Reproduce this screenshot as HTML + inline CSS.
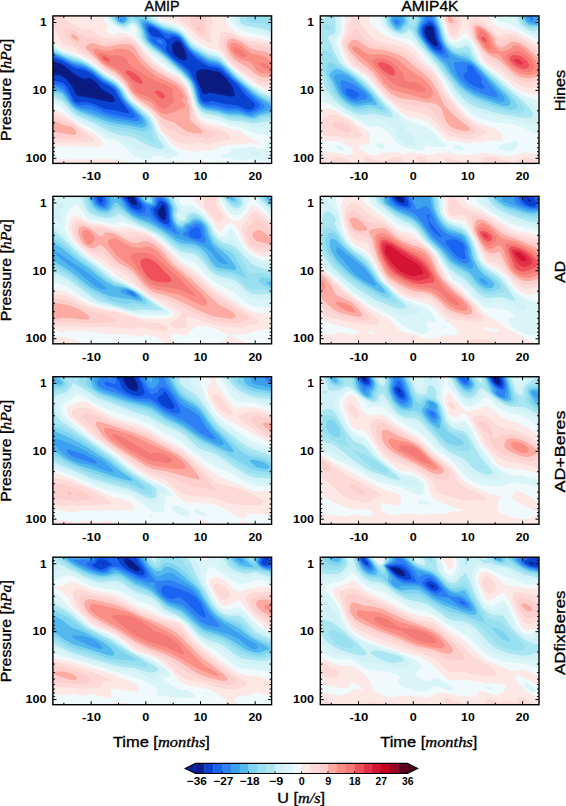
<!DOCTYPE html>
<html><head><meta charset="utf-8"><style>
html,body{margin:0;padding:0;background:#fff;width:566px;height:806px;overflow:hidden}
svg{display:block}
text{font-family:"Liberation Sans",sans-serif;fill:#000}
text.n{stroke:#000;stroke-width:0.35px}
</style></head><body>
<svg width="566" height="806" viewBox="0 0 566 806">
<defs><clipPath id="cp00"><rect x="52.9" y="15.9" width="218.7" height="147.5"/></clipPath><clipPath id="cp01"><rect x="320.3" y="15.9" width="218.7" height="147.5"/></clipPath><clipPath id="cp10"><rect x="52.9" y="196.3" width="218.7" height="147.5"/></clipPath><clipPath id="cp11"><rect x="320.3" y="196.3" width="218.7" height="147.5"/></clipPath><clipPath id="cp20"><rect x="52.9" y="376.8" width="218.7" height="147.5"/></clipPath><clipPath id="cp21"><rect x="320.3" y="376.8" width="218.7" height="147.5"/></clipPath><clipPath id="cp30"><rect x="52.9" y="557.2" width="218.7" height="147.5"/></clipPath><clipPath id="cp31"><rect x="320.3" y="557.2" width="218.7" height="147.5"/></clipPath></defs><g clip-path="url(#cp00)"><rect x="52.9" y="15.9" width="218.7" height="147.5" fill="#0a1a80"/><path d="M52 14l221 0 0 151-222 0 0-93.9 9 2.6 6 3.2 2.2 2.1 8.8 11.2 3.2 2.8 4.8 1.5 19 3.9 4 .3 1.3-.7-.1-1-1.8-2-6.4-4.4-8-6.6-9-2.7-5-2.3-6-3.8-6.7-6.2-4.1-3-4.2-2-7-2.1 0-47.9zM176.5 43l-2.4 3 .1 3 .8 3 2 2.8 2 1.6 2 .7 2-.5 1.4-2.6-.7-3-3.7-7.4-2-1.4-1 .3zM205.7 71l-5.9 2-1.7 2-.6 2 .3 2 2.3 6 3.9 5.2 2 .6 7 .1 11 2.2 5 .1 1-.7 .4-1.5-.8-5-2.2-4-4.8-6-2.6-2.1-3-1.3-7.1-1.6-3.9 0z" fill="#0a1e8c"/><path d="M52 14l221 0 0 151-222 0 0-91.2 9 1.7 5 2.6 2.9 2.9 4.4 6 1.6 3 1.4 4 2.7 1.9 10 1.6 23 4.8 3-.2 .9-1.1-.7-3-2.2-2.9-3-2.2-5.8-2.9-7.2-8-4-3.2-4-1.4-3 1.5-3.3-.9-7.7-4.4-10.6-8.6-4.4-2.1-8-2.6 0-46.3zM175.1 41l-2.9 3-.3 1 .3 6 .8 2 2.5 3 4.5 3.3 4 1.3 2-.5 .6-1.1 .4-3-1.3-4-4.9-9-2.8-2.3-2-.3zM197.8 70l-1.5 2-.3 5 4.7 11 1.3 4 2 2.1 1 .3 3.8-1.4 3.2 0 18 3.4 4 0 .7-1.4-.3-2-2.3-7-6.1-8-5-4.9-3-1.6-11-2.3-3-.2-6 .9z" fill="#0a42d0"/><path d="M52 14l221 0 0 151-222 0 0-85.1 9 1.8 3 1.4 2 1.5 2.8 3.4 5.9 12 2.3 2 2 .5 5-.4 6 .6 6 1.9 10 4.5 11 1.5 10 2.7 2 .2 1-.5-.7-2-6.8-9-7.3-12-2-2-10.2-5.6-10-8.2-5-3.1-3-1.1-9-1.7-12.9-7.3-11.1-4.1 0-42.9zM149.9 27l-1.3 1-.3 2 .6 2 1.4 2 1.7 1.5 2 1.1 7 1.1 3.5 1.3 1.5 2.4 .9 2.6-1.2 5 1.8 3 5.7 6 13.8 10.2 2.9 2.8 7.5 15 2.5 8 .3 3 2.8 4 2 1.2 2 .2 1.7-.4 1.3-.9 3-.1 13 3.3 9 .6 3 .8 8 3.5 3 .5 2-.3 2-1 1.5-1.4 .5-2-.9-2-9.8-9-7-9-15.3-14.6-4-2.3-8-1.3-2.2-.8-3.8-2.1-8-5.5-7-6.6-8-11.6-3-2.7-4-1-2.6 .5-2.4 1.7-3-.4-1-.6-4.2-4.7-3.7-3-4.1-2.4-3-.6z" fill="#1a64f2"/><path d="M52 14l221 0 0 151-222 0 0-82.3 9.2 2.3 3.7 2 5.2 8 3.2 6 2.7 2.4 3 1.6 3 .6 4-.6 6 1 3.2 1 10.8 5.3 5.9 1.7 20.1 3.9 3 .1 1.2-1 0-1-1-2-10.7-12-4-6-3.5-6.8-2.5-2.2-10.5-5.8-10.3-8.2-6.3-4-3.4-1.3-9-1.9-11-5.9-12-4.7 0-41.2zM146.8 26l-.4 2 .3 2 3.8 7 .3 3 .6 1 9.6 6.8 9.1 9.2 15.9 13 3 3.4 6.4 10.6 2.9 9 .7 4.2 2 4.2 2 2.3 3 1.1 9 .3 12 2.8 11 .5 10 3.8 2 0 3.7-1.2 4.9-3 1.2-2 0-1-1.3-2-10.5-9.3-8.1-8.7-8.9-7.4-8-8.3-3-2.3-2-1-8-1.6-3-1.2-13-8.8-6-5.7-8.2-11.7-4.5-2-6.3-.5-3-.7-11.5-6.8-3.5-1.6-2-.4-2 .7zM157 39.6l2-.3 3 1.4 1.2 1.3 .2 1-.4 .7-1 .3-2-.4-2.1-1.6-1.2-2z" fill="#2e80f4"/><path d="M52 14l221 0 0 151-222 0 0-80 8 2.5 3 1.7 4.7 4.8 3.3 6 2 2.5 3 2.7 4 2.2 3 .9 10 1.5 13 5.4 8 2.3 22 3.8 3.4-.3 1.1-1 .2-1-.7-2-2.1-3-12.5-13-2.8-4-3.6-7-4-4-11-6.3-11-8.6-5-3.2-5-2-8-1.6-10-5.3-13-5.3 0-39.7zM119.7 20l1 1 1.1 0 .2-1-1-1-1 .2zM145 24l-.4 2 .5 3 2.5 6 1 4 1.1 2 3.2 3 9.1 6.7 23 20.3 5.7 7 4 7 2.3 7 .9 5 1.8 5 2.3 2.7 4 1.9 9 .9 12 3 9 .1 3 .4 8.1 3 2.9 .7 11.3-4.7 2.7-2 .6-1 0-1-1.3-2-11.3-9.2-10.4-9.8-8.5-7-12.1-12.2-3-1.6-7-1.4-3-1.1-14-9-6-5.5-6-9.2-4-3.1-3-1.2-9-1.8-14-7.2-4-1.4-2 .1z" fill="#3ca0ee"/><path d="M52 14l221 0 0 151-222 0 0-77.8 8 2.5 4 2.5 2.7 2.8 2.8 5 3.5 4.3 3 2.7 5 2.6 13 3.9 15 5.5 6 1.5 24 4 4-.6 1.1-.9 .4-1-.7-3-2.1-3-14.1-14-3.7-5-3.9-7.2-4.7-4.8-11.3-6.6-11-8.6-5-3.1-5-2.1-9-2.1-10-5.1-12-5 0-38.4zM119.6 16l-2 2-.2 1 .4 1 3.2 2.3 1 .2 1.7-.5 2-3-.2-1-2.5-2.2-2-.4-1 .3zM143 22l-.4 2 .6 3 2.6 7 1.3 5 1.3 2 3.6 3.6 11 8.4 20.3 18 3.9 4 4.4 6 2.1 4 4.9 17 1.4 2.1 3 2.6 3 1.3 9 1.2 12 3.3 12 .4 12 3.5 2-.3 4-2.2 13.5-4.9 .4-1-.3-1-1.6-2-11-7.4-6-4.7-18.4-15.9-8.5-9-4.1-3.6-4-2.1-6.5-1.3-2.5-1-16-10.1-3.8-3.9-5.3-8-3.2-3-4.7-2.3-11-2.9-16-7.9-3-.6-2 .7z" fill="#52b8ee"/><path d="M52 14l66.2 0-2.2 3-.1 2 1.4 2 1.7 1.3 2 1 2 .3 2-.9 2.5-2.7 .2-1-1.4-3-2.4-2 149.1 0 0 90.5-14-8.1-7-5.1-15.9-13.3-10.6-11-5.5-4.7-3-1.4-9-2.5-15.5-9.4-2.5-2.2-7-9.8-4-3.4-4-1.9-12-3.5-18-8.8-4-.5-1 1-.1 1.1 4.3 12 1.2 5 2.5 4 4.1 3.8 11 8.4 20 17.8 7 8 2.4 4 1.8 5 3.5 13 2.3 3.5 2 1.9 4 1.9 11 1.9 11 3.4 12 .3 12 3 3-.5 4-2.2 9-2.3 5-.6 0 52.7-222 0 0-75.7 8 2.5 3.9 2.2 7.2 10 2.9 3 4 2.9 4 1.9 25 9.2 8 2.3 14 2 12 2.4 3-.1 2-.7 1-.9 .8-2-.6-3-2.7-4-15.6-15-3.2-4-5.2-9-4.5-4.6-12-7.2-10.6-8.2-6.4-3.9-5-2.1-9-2.4-21-9.5 0-37.1z" fill="#7ed4ee"/><path d="M52 14l63.8 0-1.8 3 1.1 3 3.9 3.3 4 1.3 2.3-.6 3.4-3 1.3-4.3 1-1.4 1-.3 4 4.2 3 4.4 3.4 7.4 1.6 7 2.5 4 4.5 4.3 11.5 8.7 19.5 17.3 7 7.7 2 3.1 2.4 5.9 3.4 13 2.2 3.7 3 3.2 4 1.8 12 2.2 11 3.7 11 .2 12 2.6 4-.3 5-2.5 9.1-1.6 2.9-.1 0 50.1-222 0 0-73.5 7 2.3 3 1.7 10 11.3 6 4.8 5 2.4 28 11.2 7 1.8 14 1.7 12 3.2 3-.5 2-1.3 1.2-2.1 .4-3-.9-3-3.3-5-17.2-16-3-4-4.6-8-5.6-5.7-12-7.1-10.4-8.2-6.6-4-6-2.6-11-3.3-18-8.3 0-35.8zM131 14l142 0 0 87.9-13-6.5-7-4.8-15.5-12.6-8.8-9-8.7-8.1-3-1.6-9-2.5-15.1-8.8-2.9-2.9-6.9-9.1-4.1-3.4-4-1.9-13-4.1-21-11-5-1.3-4 .7-1-.3-.6-.7z" fill="#98dff0"/><path d="M52 14l61.3 0-1.1 2 .1 1 1.7 3.4 4 3.4 5 1.9 3-.7 3.9-3 1.5-2 1.6 0 1.9 1 2.1 2.1 3 5 1.5 3.9 1.1 6 3.4 5 5 4.7 11.2 8.3 19.8 17.5 6 6.5 2 3 2.6 6 2.1 9 1.8 5 2.5 4.5 3 2.9 4 1.8 14 2.7 10 3.7 10 .2 13 2.5 5-.6 5-2.1 10-1 0 47.4-222 0 0-71 6 2.1 4 2.3 4 3.6 8 8.6 6 4 14 5.8 18 8.3 7 2 10 1 5 1.1 6 2.6 12 6.9 3 1 1.8-.3-.1-1-3.6-6 .3-5-.6-6-3.2-6-4.4-5-14.9-13-3-4-4.7-8-4.5-5-4.1-3-10-5.7-9-7.3-8-5-7-3.1-14-4.5-14-6.8 0-34.6zM145 14l128 0 0 .5-2 .4-20-.2-3 1.5-1 1.2-.5 1.6 .6 2 2.9 1.8 10 .3 13 4.2 0 72.5-13-5.9-9-6.1-12.1-9.8-19.1-19-2.8-1.3-6-1.1-3-1.2-14-8.1-4-3.7-6-7.8-4-3.6-5-2.6-10-2.9-6-2.5-7.2-4.2-7.6-6z" fill="#aae6f2"/><path d="M52 14l58.5 0 .1 3 2.4 4 4 3.4 4 2 3 .6 2-.4 3-2.5 4-1.7 2 1 2 2.1 2.2 3.5 1 3 .9 6 3.9 5.6 5 4.8 10 7.2 12.7 11.4 8.3 6.8 5.9 6.2 2 3 2.8 6 2.2 9 2.5 7 2.4 4 3.2 2.9 5 2.2 12 2.2 11 4.2 4 .5 6.8 0 11.2 2.5 5 .1 9-2.4 7-.4 0 44.2-222 0 0-68.6 8 3.1 3.9 2.5 8.1 9.1 5 4.2 17.5 7.7 15.5 8.3 12 4.2 11.3 1.5 14.7 7.9 8 3.1 4 1 3 .1 1.9-1.1 0-1-.9-2-4.8-7-3.5-8-1.8-6-3.3-6-4.8-5-14.4-12-2.4-3-5.4-9-5.4-6-3.2-2.3-10-5.7-10.1-8-8.1-5-8.8-4-13-4.1-13-6.7 0-33.2zM150 14l89.9 0-.1 8 .4 1 1.3 1 3.5 1.2 17 3.4 11 3.8 0 65.4-13-5.4-10-6.7-11-9-19-18.8-4-1.9-5.4-1-2.6-1-13-7.6-5-4.2-5.5-7.2-4.5-4-5-2.6-11-3.1-5.1-2.3-6.1-4-3.3-5z" fill="#d0f2f7"/><path d="M52 14l56.1 0 1.2 4 1.9 3 3.8 3.5 5 2.8 3 1 3 .2 1.1-.5 2.9-3.1 3-.3 2 .9 2 2 1.3 2.5 .3 6 .7 2 5.3 7 7.4 7.1 7 5.1 11.5 9.8 10.5 8 4.7 5 5.1 9 1.9 8 3.1 9 2.2 3.6 4 4.2 4 1.9 13 2.5 11 4.6 12 1.3 9 2.9 7 .2 15-1.9 0 25.4-1.7 .3 .3 1 1.4 1.3 0 11.7-222 0 0-66.1 6 2.2 4 2.3 10.2 10.6 4.8 3.6 5 2.7 13 5.6 12 8 16 6.5 13 7.9 4 1.2 11 .9 15 3.1 3.1-.5 1.4-1 .5-1-.7-2-6.1-8-3.2-6-3.6-5-3-8-2.2-4-4.8-5-15.4-12.6-2-2.4-5.4-9-5.2-6-4.4-3.2-10-5.8-9-7.1-8-5.2-11-5.2-13.7-4.5-11.3-6.5 0-31.5zM250 151l-.3 1 .3 .5 1.9 1.5 3.1 1 4.1 0 1.1-1-.2-.5-2.3-1.5-4.7-1-3 0zM153 14l82.9 0 .2 8 1.9 2.5 3 2.1 5 1.9 15 2.8 12 4.5 0 60.1-11-4.2-8-4.6-7.1-5.1-6.9-5.8-11.2-10.2-5.8-6.8-3-2.6-4-2.1-8-2.3-14-7.9-3.8-3.3-4.3-6-4.9-4.7-6-3.2-11-3-4.7-2.1-3.8-3-2.9-5z" fill="#daf5f8"/><path d="M52 14l54 0 1.7 5 2 3 4.3 3.8 5 2.9 5 1.7 4 .2 1.2-.6 .8-3 .8-1 2.2 0 1.8 1 1.9 3-1.1 4 .9 3 3.6 5 8.9 10 6 5.6 13 9.9 12 8 5 5.3 4.9 8.2 1.7 7 3.1 10 5.3 8.8 2 2.1 4 1.9 4.4 .2 9.6 1.9 11 4.6 9.3 1.5 10.7 5.1 13.8 2.9 2.8 1 2.9 2 .3 1-.4 1-2.4 2.8-3 5.1-1 .9-3 .1-7-1.7-4-.4-8 1.3-7 0-3 .8-1 .8-2 3.6-2 .6-5 .1-1.5 1 2.8 2 2.7 1 7 .9 8 1.9 4-.3 5-1.6 12 2 4-.4 4-1.5 2 0 1 .3 0 5.7-222 0 0-63.1 4 1.4 4 2.2 4 3.2 5.1 5.3 3.6 3 11.3 7.3 11 5.1 10 8.4 3 1.2 7 1.3 6 2.8 4.9 3.9 6.2 7 4.9 2.9 7 1.9 6 .4 2-.2 3-3.1 3-.5 3.1 .6 6.9 2.3 3 .4 5-2.5 4.3-1.2 .2-1-9.5-8.3-3.4-3.7-3.7-6-4.9-6-3.5-9-3.4-5-4.1-4-11-8.3-4.2-3.7-7.9-12-5.4-6-4.5-3.3-10-5.7-8-6.4-8-5.4-12-5.9-13.1-4.3-5.5-3-6.4-4.5 0-29.5zM155 14l77.7 0 .3 2.6-.9 3.4 .3 2 2.1 3 4.5 3.6 7 3.4 17 3.2 10 3.6 0 55.1-11-4-10-5.7-6.9-5.2-15.2-13-5.9-7.3-4-3.6-4-2.2-8.5-2.9-12.7-7-2.8-2.2-7-8.9-4-3.5-6-3.1-10-2.5-4.8-1.8-2.1-2-3.1-5z" fill="#f0fafc"/><path d="M52 14l51.4 0 .8 6 4.5 7-.1 1-.6 .7-2.2 1.3-.2 1 1.2 1 5.2 2 3 .6 1-.1 2-1.9 2-.2 7 1.3 4 1.5 3 2.5 5 5.4 13 15.9 16.8 13 8.2 3.2 4 2.8 7.3 10 3.8 12 1.1 5 4.8 10.7 3 4 3 2 4 1.6 8 1.2 14 4.3 10 2.1 9 6.4 7.2 3.7 2.7 2 .5 1-.4 .3-9-1.5-10 1.8-7-.2-6.2 .6-5.8 1.5-11 4.2-8-.2-7 1.4-15-3.2-5-2.3-4.6-3.4-4.3-6-6.1-6.4-3.9-9.6-3.3-5-5.2-5-14.6-11-10-14.6-6-5.8-5-3.3-7.8-4.3-6.2-5.2-9-6.6-13-6.6-13.8-4.6-4.6-3-4.6-4-2-2.1 0-25.9zM159 14l70.5 0 .1 1-.6 1-2.9 3-.4 1 .2 2 1.1 2 3.7 4 6.1 5 3.2 1.9 3.2 1.1 23.8 3.9 6 2 0 49.1-4-.7-6-2-10-5.3-22.9-18-6.1-8.1-5-4.6-3-1.7-7.9-2.6-11.8-7-4.3-3.8-6-7.6-4-3.3-9-4.7-8-1.4-2-.8-3-2.4-1.9-3zM133 27.9l0 .5-.2-.4zM52 107.7l7 3.6 15 9.6 10.5 8.1 9.5 4 8.5 8 1.4 2-.1 1-1.8 1.7-5 1.9-8-.8-10-.4-6 .3-9-.7-9 .8-4-.9 0-38.7zM52 158.4l5 .6 7-.1 6 .8 4-.8 6 .9 4-.9 6 1 5-1 5 .4 4-.4 6 .6 6.3-.5 7.7 2.3 8 1.5 8.4 2.2-89.4 0 0-6.9zM201 159.7l6 2.9 6.8 2.4-34.4 0 .6-3.7 1-.3 12 3.6 5 .2 1.7-.8 .7-1 .1-3zM220 161.6l2 .4 6 3-9.6 0 1.3-1 .1-2zM162 163l2 .2 4 1.8-9.7 0 3.6-2z" fill="#fde8e6"/><path d="M52 14l23.1 0-2.1 1-6-.4-2.7 .4-.5 1 .2 1 1.9 3 4.4 3 9.8 5 3.9 1.2 7 .8 2 .7 6 4.9 4 2 4 .7 11-.1 7-1.5 5 1.2 4 2.8 4 3.9 9.9 13.4 4.1 4 14.8 11 4.2 2.3 6 2.3 3 2.1 5 5.6 2.3 3.7 3.6 10 .7 5 2.1 5 1.7 6 2.9 5 2.7 2.5 4 2.5 4 1.6 8 1.7 4 1.4 6.1 3.3 3.4 3-.5 3-1.6 1-8.4 .8-9 3.6-2 .2-9-1.8-10 1.9-7-1.1-6-1.9-3-1.7-10.3-8-2.7-3.5-2.5-6.5-4.7-7-5.8-5.4-13.3-9.6-11.7-16.1-7-6.6-11.8-7.3-7.1-6-4.8-5-11.7-6-7-6-3.6-1.4-5-.3-2.3-1.3-1.4-2-3.5-8-6.8-12.1 0-7.9zM180 14l30.2 0-.1 1 2.4 5 .5 2-.4 2-2.5 3 .5 5-.5 3 1.2 5-.3 1.7-1 .9-4-1.4-10-6.5-2.8-2.7-4.2-5.6-8.6-5.4-.8-2 .2-5zM222 32.9l3-.8 4 .6 5 1.7 14 6.2 10 .9 15 4.2 0 39.3-2 0-3 1.1-2 .1-6.8-2.2-3.4-2-6-5-10.8-6.9-6.9-5.1-10.6-14-3.4-7-.2-2 1.8-3 .2-4 1.9-2zM52 111.8l22 11.4 11 9.1 8 5.6 1.2 2.1-1.1 2-2.1 .6-16-.5-6 .5-9-.2-6 .3-3-.4 0-31zM235 136.4l3 .4 1.4 1.2-.4 .4-2-.2-2.5-1.2z" fill="#fddad8"/><path d="M190 14l14.3 0 1.7 3 .7 3-2.1 5 1 8-.6 1.5-1 .4-3-.6-3-1.8-2.7-2.5-2.3-3-2.9-5-.2-6-.7-2zM67 28.9l3 .3 4 1.4 10 5.8 9 1.7 11 4.7 11.9-1.8 11.1-.7 3 .8 4 2.4 4.2 4.5 6.6 10 5.2 5.4 13.3 9.6 13.7 7.5 5 4 2.3 2.5 1.7 2.8 3.8 9.2 0 4 2.1 5 .7 6 1.5 4 1.9 3 4.2 4 7.8 4.8 6 2.8 5.4 .4 .7 1-5.1 .4-3.7 3.6-2.3 .8-3-.2-6-1.7-9 0-8-1.2-5-1.8-7-4.1-3-.4-2-1.1-5-6.3-3.3-5-4.6-5-5.1-4.2-10-6.8-3-2.8-5.7-7.2-5.5-8-5.8-6.2-2.1-1.8-7.9-4.8-5-3.6-10-9.4-10-6.6-14.4-11.6-3-4-1.5-3 .1-2 2-1zM228 35.8l4 .4 5 1.6 13.3 7.2 3.7 .6 6-.5 6.1 1.9 6.9 2.9 0 31.1-10 .5-3-.6-3-1.8-10-7.6-11-6.6-3-2.5-3-3.4-4-6-2.7-7-.1-3 1-4 1.1-2 1.7-1zM51.2 115l10.8 5.6 8 2.7 4 2 3.3 2.7 2.7 3 2.7 5-.1 1-1.2 1-3.4 .6-7-.3-8 .4-12-1 0-22.8z" fill="#fccfcc"/><path d="M196 14l2.5 0 1.1 1 .3 1-.3 1-.6 1-1 .2-2-4.2zM199 27.8l1 1.5 0 .8-1-.5-.7-1.6zM71 34.6l2-.3 3 1.4 2.4 2.3 .6 2-1 1-3-1-3.4-3-.8-2zM230 39l3.2 0 4.8 1.3 3.4 1.7 9.6 6.5 4 1.2 10 1.7 8 3.7 0 22.2-3-.3-6 .4-5-1.3-4-2.5-7-6-10-5.6-4-2.9-5-6.1-2.4-6-.2-2 .6-2.6 1.5-2.4 1.5-1zM90 43.6l3-.4 2 .2 7 2.6 4 .7 3-.2 9-2 9-.5 3 .3 3 1.7 9.1 13 6.9 7.1 9 6.4 17.3 9.5 4.1 3 3.1 3 5.4 10-.4 4 2.3 5-.6 5 .6 3-.1 3 .6 2 2.7 3 8.6 7 1.4 2-.3 1-1.7 .4-7-.2-6-1.4-5-2.7-9-6.5-3.8-1.6-4.2-.9-4-2.4-12-11-10-6.4-4-3.3-5.5-6-5.4-9-5.4-6-3.7-3-13-8.1-15.5-14.9-1.7-2-.3-1 .7-1 2.8-2zM52 120l10 4.5 10 2.8 3 2.4 1.6 3.3-.6 1.3-3 .4-22-3.1 0-11.9z" fill="#fcaaa2"/><path d="M233 42.9l3 .1 4 1.7 11 8.7 2 .7 6 .8 3 .8 4.5 2.3 6.5 4.3 0 11.8-13-1.3-4-3.4-5.1-7.4-1.9-.8-4-.4-3-.9-4-1.9-3-2-3.7-4-1.6-4 .3-3.1 1-1.1 1.7-.8zM94 49l3-.2 9 2.2 4-.4 6-1.6 6-.2 5 .7 3 1.4 4 3.7 8.3 10.4 6.7 5.8 10 7.3 12 4.7 3.7 2.2 3.4 3 6 8 .1 1-.7 1-2.6 1 .3 1 4 5-.5 2-1.7 1.3-3 .7-4 2.5-6 1.5-3 1.2-3-.2-4-1.8-3.6-3.2-4.7-6-2.7-1.6-8-3.2-7-5.2-2.5-3-3.9-8-5.6-6.3-6-4.9-12-6.8-4.3-4-6.1-8-.4-2 .7-1z" fill="#fb8e84"/><path d="M234 47.7l1-.4 2 .3 4 2 4.1 3.4 1.3 2 0 1-1.4 .9-2 .1-5-1.9-2.7-2.1-1.5-2-.5-2 .4-1zM99 52.7l3 .2 10 2.9 5-.8 6 1.4 3 2.3 3 5.3 3.2 3 7.8 4.4 11 7.3 17.2 7.3 3.1 2 2.2 3-.8 5 1.2 5-.9 1.7-3 2.2-3 3.2-3 .7-3-.8-3-2.3-5-5.5-3-2.6-3-1.5-7-2-3.5-2.1-1.6-2-2.3-6-2.5-3-12.1-11.9-3-1.7-8-3.3-3.2-2.1-3-3-2.2-3-.7-2 .5-1zM261 62.8l3 .4 3.8 1.8 2.9 3-.7 .9-4-.5-3.5-1.4-2.4-2-.3-1 .7-1z" fill="#f47a76"/><path d="M103 56.3l2 .4 2.5 1.3 2 2 .3 1-.8 .7-3-.8-2.5-1.9-1.3-2zM127 70.6l2 .1 3 1.1 6.6 4.2 3.2 4 .7 2-.5 1.7-2 .1-2-.8-6-3.8-5.1-5.2-.9-2 .3-1zM156 90.7l4 .2 3 1.9 2 3.2 0 1.4-1 1-2 .2-3-1.5-3.8-4.1-.4-1 .3-1z" fill="#f05058"/></g><g clip-path="url(#cp01)"><rect x="320.3" y="15.9" width="218.7" height="147.5" fill="#0a1a80"/><path d="M320 14l220 0 0 151-221 0 0-151zM427.4 27l-1.4 1.8-.6 2.2 1.7 6 1.9 2.8 3 3.1 2 1.3 2 .4 .7-.6-.2-1-2.3-6-1.3-8-1.4-2-3.5-.2z" fill="#0a1e8c"/><path d="M320 14l220 0 0 151-221 0 0-151zM427.7 26l-1.8 1-1.3 3 .3 3 1.3 4 2.8 4 3 3 3 1.9 2 .3 1-.8 0-1.4-2.6-6-1.9-10-.7-1-1.8-1.2-3 .1z" fill="#0a42d0"/><path d="M320 14l220 0 0 151-221 0 0-151zM428.4 23l-3.8 2-1.6 2.3-.6 3.7 1.2 5 3.4 5.2 6 6.6 3 2 2 .8 2 0 1-.6 .4-1-.1-2-3.7-9-2.1-10-3.5-4.8-2-.8-1 .2z" fill="#1a64f2"/><path d="M320 14l220 0 0 151-221 0 0-151zM427.4 20l-2 3-2.7 2-1 2-.6 4 1.3 5 3.6 5.6 7 8.1 6 3.5 2 .6 2-.2 1.1-1.6-.1-2-4.8-11-2.6-11-2.1-4-2.5-2.9-2-1.3-2-.2zM467.4 66l-.6 2 .8 3-3.6 2.8-.5 1.2 .3 2 1.2 2 4 4 4.9 3 5.1 2 3 .8 2 0 .7-.8-.3-1-3.5-5-.2-1 1-1-.6-2-4.3-5-4.8-7-2-.8-2 .5zM346.2 89l-.7 1 0 2 1 2 1.5 1.6 4.1 2.4 1.9 .4 2.7-.4 1.6-1 1.1-2-1.4-2.5-5-2.9-4-1-2 0z" fill="#2e80f4"/><path d="M320 14l105.2 0 .3 1-1.2 6-3.2 4-1.2 4 0 3 1.3 4 2.4 4 5.4 7 4 4.2 8 5.2 4 1.7 3 .7 1.1-.8-1.7-5-6.7-13-3-12-4.9-9-.8-3.3-1.2-1.7 98 0-.5 2 .3 2 1.4 2.1 2 1.2 1-.1 .4-1.2-.7-3 .3-1.2 1-.6 6-.7 0 150.5-221 0 0-151zM394.4 20l-.5 1 1.1 2.2 2 1.2 2-.3 .6-1.1-.6-2.5-2-1.2-2 .2zM454.6 62l-.8 1 .1 1 1.6 7 1.2 3 4.2 6 5.1 5.1 4 2.9 6.1 3 13.9 5.2 6 1.3 1.5-.5 .5-1-1.3-3-11.1-14-12.5-14-4.1-2.1-6-.8-8-.2zM340.7 81l-.5 1 .2 2 .9 5 1.1 3 2.9 4 3.7 3 4 1.8 4 .5 8-2 2-1.1 .1-2.2-1.2-2-3-3-4.9-3.7-5-3-6-2.9-4-1-2 .3z" fill="#3ca0ee"/><path d="M320 14l75.4 0-3.1 4-.6 3 2.3 3.9 3 2 1 0 2-.9 3.1-4 .3-1-1.6-4 .2-2-.3-1 19.1 0 1.5 6-3 6-.9 4 .1 2 1.1 3 2.2 4 7.5 10 4.7 4.5 12.3 9.5 2.2 3 3.8 7 3.6 5 5.3 6 5.7 5 7.1 4 15.4 6 7.6 2.6 4 .6 2-.2 1.4-1 .3-2-1.4-3-27.4-30-3.9-3.3-3-1.7-11-3.1-4-1.9-3-2.3-4-4.6-2.8-4.1-2.4-5-3.1-12-3.2-7-1.6-5-1.4-2 91.8 0 1.7 4.4 2 3 2.2 1.6 3.8 1.1 2-.5 1-3.7 3-1 0 146.1-221 0 0-151zM335.6 75l-1.6 1.2-.3 1.8 3 6 2.6 7 3.3 5 4.4 4.1 4 2.4 5 1.3 3-.1 6-1.2 6-.5 1.2-1 0-1-2.3-5-5-5-12.9-10.8-4.9-3.2-4.1-1.5-4-.5-3 .8z" fill="#52b8ee"/><path d="M320 14l70.9 0-1 6 1 3 3.1 4.3 2 1.6 2 .8 2.1-.7 5.5-6-.5-4 .2-3-.8-2 13.3 0 1.8 3 .6 3-1.8 4-1.6 6 .7 3 2.5 5 9 12.2 14.7 13.8 7.3 11 8.3 10 7.7 6.6 8 4.4 20 7.5 6 1.7 5 .7 3-.4 1.6-1.5-.3-3-1.7-3-3.4-4-27.9-28-5.3-4.8-4-3-3-1.3-6-1.3-4-1.6-4-2.6-4-4.1-4.2-7.3-3.2-12-4-11-1.8-3 88.3 0 3.2 7 2.7 3 3 1 5 .4 2-.5 2-2.3 0 142.4-221 0 0-151zM333 70l-3 3.2-.3 1.8 .6 2 3.7 7 4 9 3.9 5 4.1 3.7 5 3.1 5 1.4 4 .1 8-1.7 7 .7 1.7-.3 .4-1-1.3-3-4.7-7-7.1-7-11.3-10-4.4-3-8.3-3.9-4-1-3 .9z" fill="#7ed4ee"/><path d="M320 14l68.5 0-.1 6 2 5 3.6 4 3 1.7 2 .5 1.9-.2 1.1-.7 2-3.3 3.7-2 .3-1-.7-4 0-3-.8-3 8.5 0 2.5 3 .8 3-2.1 6-1.5 3 4 9 7.9 11 14.5 15 9.9 14.1 8 9.4 8 6.8 9 5 17 6.2 11 3 6 1 5-.3 1.6-1.2 .4-1-.2-2-1.4-3-4.9-6-26.5-24.7-16-16.2-3-1.3-6-.6-4-1.3-4-2.3-3-2.7-4.5-7.9-3.3-12-3.1-9-2.2-4 85.4 0 3.6 8 3.1 3.1 3 1.4 2 .3 8-.8 0 139-221 0 0-151zM329.1 63l-1.1 1.4-1.6 5.6-.1 2 .7 3 4.5 9 3.3 8 4.2 5.6 4.4 4.4 6.6 4.5 6 2.2 6 .1 8-1.9 10 2.4 3 .1 .5-.4-.2-1-9.6-13-5.7-6.2-8.3-7.8-6-5-4.7-3.2-15-8.9-2-1-2-.2z" fill="#98dff0"/><path d="M320 14l66.7 0 .2 6 1.4 4 1.9 3 3.8 3.3 4 1.8 3 .3 3-1.1 1.3-2.3 1.7-1.2 3 .2 2 1.2 2 2.6 3.8 7.2 5.7 8 15.4 17 10.6 15 6.5 8.1 6 6.3 5 4.3 4 2.7 4 1.9 15 5.3 16 4.2 10 1.6 5.5-.4 1.7-1 .7-1 0-2-.7-2-3.4-5-4.8-5-10-8.5-24-21.7-5.7-5.8-5.3-6.9-2-1.9-3-1.3-6-.1-4-.8-3-1.5-3-2.5-2.9-4-1.5-3-5.7-19-2.9-6 82.6 0 3.2 8 2.2 2.7 3 2.2 5 1.9 2-.1 3-1.2 3-.1 0 137.6-221 0 0-151zM323.3 25l-.3 1 .3 1 1.8 2 2.9 1.6 3.3 .4 .6-1-.3-1-1.8-3-2.8-1.6-3 .2zM321.6 51l-1.6 1.6-.3 2.4 3.5 17 4.5 10 2.9 8 5.2 7 4.2 4.6 8 6.1 4 2.1 4 1.4 6 .6 10-1.7 12 2.8 3 .1 1-1-1.1-3-13.2-16-8.7-9-8-7-13.1-9-5-4-3-3-4-6-1.9-1.8-4-2.2-4-.2zM410 14.3l3 .7 2.9 3 .2 2-1 2-.7 3-1.4 .5-1-.3-2-2.2-.7-8z" fill="#aae6f2"/><path d="M320 14l6.7 0-.1 3-1.6 1.7-6 .8 0-5.5zM333 14l52.1 0 .3 6 1.2 4 2.8 4 3.6 3.1 4 2 4 .7 4.9-.8 2.1-2.6 1-.4 2.1 1 4.2 7 5 7 16.7 19.3 19 26.2 6 7 5 4.6 3 2 5 2.3 19 6.1 19 3.8 11 1.7 6-.4 2.8-1.6 .4-1-.4-2-3.9-6-8.1-8-12.8-10.1-10.8-9.9-16.7-14-5.7-7-2.8-5-2-5-1-1.1-3-1.3-5 2.3-5 .2-4-1.6-3-2.5-2-2.5-1.3-2.5-5.3-18-3.4-7 80 0 1 2 .7 4 1.4 3 2.6 3 3.3 2.4 4 2.1 4 .9 2-.4 3-1.9 1-.2 0 136.1-221 0 0-95.6 3 5.7 1.4 4.9 .9 6 2.2 4 9.4 11 5.1 4.3 6 4.3 7 3.6 6 1.7 4 .2 8-1.1 3 0 15 3.5 2-.3 .9-1.2-.8-3-2-3-7.1-7.5-8-9.9-6-6.6-8.6-8-16.7-12-3-3-2.8-4-4.5-8-.9-2-.7-4-3.7-7-.1-1 .5-1 5.5-2.1 1.5-1.9 .2-10-1.1-5-2.1-3z" fill="#d0f2f7"/><path d="M320 14l1.7 0-.3 1-2.4 .3 0-1.3zM337 14l46.4 0-.1 5 .9 4 1.6 3 2.2 2.8 4 3.4 5 2.5 3 .7 8 0 2 .6 2 1.4 25 29.6 19.9 29 5.6 6 5.5 4.6 8 4.4 18 5.6 19 3.3 17 3.9 10 1.3 0 39.9-221 0 0-74.4 2.2 3.4 2.4 2 27.4 18.5 7 3.3 5 1.5 3 .2 5-.7 5 0 5 1 5.6 2.2 8.1 5 .7 1 0 4 .9 3 2.1 3 3.2 3 5.1 3 5.3 1.7 3-.2 .8-1.5-1.1-4-2.7-4.4-4-3.4-4.3-2.2 3.3-1.2 .2-.8-.9-2-12.9-15-8.4-8.5-11.4-13.5-7.6-7.9-6-5.1-11.8-8-3.3-3-3.1-4-3.6-7-4.5-13 0-2 .5-1 2.8-2.8 1-1.8 1.1-6.4-.5-8-.6-2-1.8-3zM424 135l2 2 5 2 .2-1-2.5-2-2.7-1.1-2 .1zM439 14l76.1 0 .7 2-.2 4 .6 2 2.2 3 3.4 3 5.2 3.5 6 2.7 4 .7 2-.5 1-.8 0 77.3-9.6-7.9-19.4-13.7-12.6-11.3-16.4-13-4.9-6-1.9-4-2.1-6-2-3-2.1-1.9-3-1.5-2 0-5 2.7-3 .5-3-.8-3-1.9-2-2.3-2-4.5-4.2-14.3-3.6-8z" fill="#daf5f8"/><path d="M340 14l41 0-.5 4 .4 4 1.4 3 3.8 5 3.9 3.4 5 2.8 5 1.6 7 .4 2.2 .8 2.8 2.2 24 27.4 8.4 12.4 9.1 15 8.5 9.2 9 8.3 3.9 2.5 4.1 1.9 13 3.6 6 1.3 14 1.2 7 1.8 13.7 6.2 5 3 2.3 2 0 5.8-2.1 1.2 0 1 2.1 1.4 0 18.6-221 0 0-63 8 1.5 5 1.8 19 11.8 17 9 3 .7 7-.4 4 1.3 5 3.8 11 11.9 3 2 4 1.8 9 2.3 6 .8 2.5-.3 1.5-1 1.1-3 .9-1 6 1.7 4 .4 9-.1 2-.4 .6-.6-6.6-5.8-8.8-9.2-3.2-2.4-5-2.5-13-4-5-2.6-4-2.8-17-16.4-12-14.1-6.9-7.2-5-4-10.6-7-4.1-4-2.1-3-2-4-5.3-15 .2-2 3.4-6 1.4-6-.4-9-2.1-5zM514.7 141l-3.7 1.8-7 1.2-4.8 2-1.2 1 .4 1 1.4 1 2.4 1 5.8 1.3 4 0 2.8-1.3 3.7-6-.1-1-.9-1-2.5-1.1zM377.3 143l-1 1-.1 1 1.1 2 2.7 1.6 3 .4 1.8-1 .3-1-1-2-3.1-1.7-3-.5zM335.6 146l.1 1 2.5 2 2.8 1 2.5 0 .6-1-.6-1-2.5-1.9-3-.9-2 .5zM453.6 146l-.5 1 2.7 2 4.2 1.2 2.6-.2 1-1-.3-1-3.1-2-4.2-.9-2 .7zM440 14l71.2 0-.2 1-1 1.3-3 1.3-2-.2-6-2.1-2 .3-.5 2.4 1.6 3 3.9 1.6 5 .3 3 .8 19 11.6 6 2.8 5 1.3 0 62.3-11-3.6-13-7-5.3-4.1-10.7-9.9-16.1-12.1-4.5-5-4.8-12-6.6-8.8-2-.8-1 0-9 4.6-3-.3-2-1.1-2-2.3-2.3-4.3-3.3-12-4.1-9z" fill="#f0fafc"/><path d="M344 14l31.8 0-1.8 1.2-4 .2-.5 .6 .2 6 1.2 2 2.1 2.1 6.5 5.9 5.5 3.6 11 4.7 12 3.9 4 2.4 7 7.1 6.1 8.3 5.9 4.2 2 2 7.7 10.8 8.1 15 18.3 22 3.9 2.8 5 2.6 18 7.1 3 1.7 3 2.4 1.7 2.4 .9 3-.7 2-1.8 1-3.1 .1-9-.9-2 .5-4 1.9-6 0-6 .9-14-2.5-7-.2-2-.7-4-3.2-10-11.1-5-3.8-6-2.5-13-2.4-4.7-2.1-19.3-17-18-20.7-4.2-3.3-9.3-6-3.6-3-3.6-5-6.4-16 .1-3 3.8-8 .9-3 .3-11-1.7-5zM441 14l46.6 0 4.4 8 2 2.2 3 2.3 5 2 9 1.4 5 1.5 24 12.7 0 50.3-3 .4-6-.5-5-1.1-6-2.2-3.8-2-13.2-12.2-19-13.8-2.5-3-3.4-9-2.1-3.9-9.6-14.1 .9-2-1.2-1-.4 0-.4 1 .2 1-.7 1-2.8 1.7-5 4.4-3 .8-3-1.3-2.9-3.6-3.1-11-4.4-10zM320 108.9l9-.5 5 1.3 19.2 11.3 13.8 10 2 2 1 2-.5 8-1.5 .7-7 1.2-1.5 1.1-.3 1 1.2 2 2.8 2 4.8 2.5 4 1.5 4 .2 6.6-2.2 10.4-.9 4 .4 7 2.1 2-.4 3-1.4 4-.4 16 2.6 3-.3 5-1.8 6-.4 5 .3 9 1.8 6 .4 10 0 8-1.8 10 0 12 2.6 4 .4 7-.9 9-2.6 5-.3 5 .8 7 2.6 0 9.2-221 0 0-15.3 8 2.5 9 .6 11 2.1 4-.4 1-.5 .9-2-.2-2-1.7-2.4-3.6-2.6-4.4-2.1-6-1.5-13-.3-5-1.6 0-30.6z" fill="#fde8e6"/><path d="M351 14.1l2 .6 2 1.7 9.7 11.6 5.9 8 3.4 2.9 10 4 10 1.7 7 2 6 2.7 5 3.6 8.4 9.1 9.6 7.5 5 5 3.1 4.5 7.1 14 17.2 22 6.6 5.6 16.3 10.4 2.3 2-5.6 1.5-5.1 3.5-8.9 1.2-5-.3-12.1-2.9-2.9-1.2-3-2.1-12-12.9-5-3.9-6-2.6-12-2.3-5-1.6-8-4.3-8-6-6-6.1-14-16.9-4-3.2-10.5-6.9-3.2-3-7.8-15-1.1-3-.1-2 2.7-6.1 2.8-4.9-.1-7 2.9-4 .5-2-.8-4zM443 14l15.9 0 .6 1 2.1 6 .4 3-2.4 6-1.6 2.5-2.4 2.5-2.6 .8-2-1.3-2-3.6-2-5.9-3-6-1.8-5zM475 14l6 0 .5 1-.3 1-2.2 .7-2-.9-2-1.8zM472 18.7l4-.6 3 .7 10 7.7 9.3 8.5 2.7 .6 5-1.3 3-.3 7 1 10 5 14 9.5 0 36.4-10 2-5-.4-4-1.3-3-1.7-8-6-12-11.3-8-3.2-4-2.8-2-2.6-4.4-8.6-8.3-14-.7-4-2.4-6 .8-2 .9-4 1.3-1zM329 114.9l5-.4 5 1.5 8 4.1 7.2 4.9 4.4 4 2.7 4 .5 2-.5 2-2.3 1.3-8 .5-15-2.7-7 .4-10-2.8 0-14.9 3-.2 3.9-2.6 2.6-1zM419 156l4 1 4.5 3-.1 3-3.4 1.5-4-1.2-3-2.8-.8-1.5 0-2 1.9-1zM334 156.9l2-.5 3 .1 9.1 3.5 2.7 2-.1 2 .6 1-32.3 0 0-5.2 2-.9 1.1 .1 3.5 2 3.4 3.4 2 .4 .4-.8-.8-3 1.9-3 1.3-1zM365 156.8l3 .6 15 5.9 .6-.3 .4-2 1-.4 9.7-3.6 3.3 0 4.2 2 2 2 .6 2-.5 1 .1 1-33.1 0-5.3-3.5-1.6-1.5-.9-2 .6-1zM485 156.7l4-.3 6 .4 16 6 4 .8 .7-.6 .3-2 1-.5 8-3.1 3 0 5.3 1.6 4 2 .8 1 .1 2 1 1-91.1 0-3.5-5-.2-1 1.2-1 5.4 .9 12 3.9 4 .7 .5-.5 .5-1.9 1-.1 9 1.9 3 .1 1-.6 1.1-3.4 1.4-2zM432 161l9.8 4-8.1 0-3-3 .3-.8 .7-.2z" fill="#fddad8"/><path d="M445 14l8.3 0 3 4 1.4 4-.4 3-1.3 2.4-1 .8-2 .5-2-1.3-4.7-6.4-2.1-7zM475 22.9l4 .8 7 3.7 4 3.1 7 7 3 2.1 2 .6 2-.1 7-2 5 .5 4 1.5 4 2.1 9.2 6.8 6.8 6.1 0 25.6-12 1.7-4-.5-4-1.4-8-4.8-13-11.8-9-4.8-3-2.2-6-7.6-7.4-12.3-2-10 1.2-3 1.9-1zM353 28.7l2 0 2.2 1.3 6.6 8 3.2 2.8 3 1.9 4 1.5 23 5.7 8 3.3 5 3.7 13 11.8 8 5.5 3.1 3.8 8 15 11.5 16 6.1 7 14.2 12 1.5 3-.6 2-1.1 1-1.7 .6-9 .3-5.7-.9-5.3-1.8-4-2.2-4-3.4-10.9-14.6-4.9-4-5.2-1.7-14-1.1-6-1.3-7-3-7-5-7-7.2-11-14-4-3.6-8.7-6.1-3.2-3-8.9-13-1.2-3 .2-3 2.8-5.3 4.6-3.7 .6-2-.4-3zM338 121.9l3 .3 3 1 3.5 1.8 2.6 2 1.3 3-.4 1-3 1-4-.5-4.9-1.5-5.6-3-1.3-2 .5-1 1.4-1 2.9-1z" fill="#fccfcc"/><path d="M448 15.5l2 .2 2.3 2.3 1.2 3-.2 2-1.3 .6-3-1.6-1.1-2-.1-4zM475 25.9l2-.6 2 .3 5 2.4 4 2.9 3.1 3.1 3 4 2.8 7 3.1 2.2 3 0 7-4.8 2-.7 2-.1 6 1.6 7 4.4 6.1 5.4 6.9 7 0 16.8-12 1.6-5-.6-4-1.3-3-1.5-4-2.9-14-13-7-3-4-2.6-4.3-4.5-7.1-11-1.5-8 0-2 .8-2zM352 39.9l3-.1 3 1 9 6.3 3 1.5 4 .7 8 .2 4 .9 13 4.4 7.3 4.2 10.2 9 9.3 7 3.3 3 2.9 3.9 4 6.6 8.5 16.5 7.9 9 16.1 13 1.3 2 0 1-.8 .7-3 .3-7-1-5-1.6-4.1-2.4-2.9-3-2-3.5-3.2-10.5-2.8-3-3-1.7-4-1.3-5-.3-12.9-2.7-13.1-1.6-6-2.3-5-3.2-8-7.9-9.6-13-14.4-12.1-8.1-8.9-1.8-3-.4-2 1.3-2.7 2.7-3.3z" fill="#fcaaa2"/><path d="M477 27.8l2-.6 2 .6 3.8 2.2 2.3 2 3.7 5 2.3 6 1.9 3.4 4 4.4 3 .4 4-.8 3-1.4 5-3.4 2-.5 3.1 .9 4.9 2.9 7.9 7.1 5.6 7 2.1 5 0 2-1.1 2-1.5 1.2-3 1.2-4 .7-4 0-6-1.3-6-3.3-7.1-6.5-7.9-9.5-1-.7-4 0-4-1-3-1.6-2.4-2.2-7.4-11-.7-3-.1-5 .4-2zM354 46.7l2-.1 2 .7 7.6 5.7 3.4 1.6 11-.4 6 .5 6 2 6.2 3.3 10.3 9 14.5 9.5 5.6 5.5 3.4 5 1 3-.3 2-1 2-.7 1-1.9 1-3.1 .7-4-.7-17-4.8-8-1.6-4-1.5-3-1.8-5.9-5.3-5.1-8-11-11.9-14.3-12.1-1.5-2 0-1 1.1-1z" fill="#fb8e84"/><path d="M480 29.5l1-.1 2.6 1.6 3.4 4.2 3.9 8.8 .4 2-.3 2.1-1 .8-1 .1-2-.8-7.1-8.2-1.1-2-.3-2 1.1-6zM516 51l4 .3 4 2 5 4.4 3.4 4.3 1.8 4-.2 2.9-2 2.1-3 .9-6-.1-6-2.2-5.9-4.6-4.2-5-1.3-3 .4-2.1 3-1.9 6.9-2zM376 58.7l4-.3 4 .5 4 1.3 4 2.1 4.5 3.7 5.2 6 1.8 3 .8 4 1 1 3.7 1.7 8 1 4 2 2.8 2.3 1.4 2 .2 2-1.4 .7-2 .4-3-.3-14-3.7-8-2.7-4.6-2.4-13.4-12.4-4.1-4.6-1.8-3-.5-2 .5-1 1.9-1z" fill="#f47a76"/><path d="M482 36.9l2 .4 1.8 1.7 1 2-.1 1-.7 .5-2-.7-2.1-1.8-.9-2 .8-1zM515 55l4 .4 3 1.3 3.2 2.3 2.7 3 1.2 3-.3 2-1.8 1.5-2 .5-3-.3-4-1.4-3.5-2.3-3-3-1.7-3 .1-2 2.1-1.5 2.6-.5zM379 62.5l3-.4 3 .8 3 1.3 3 2.1 2.6 2.7 1.2 2 .3 3-1.1 1.4-2 .1-2-.6-7-4.3-4.4-4.6-.7-2 .3-1z" fill="#f05058"/><path d="M515 58.9l3 .2 3.4 1.9 1.4 2 .1 1-.9 .8-3-.3-2.8-1.5-1.9-2-.4-1 .7-1z" fill="#e0304a"/></g><g clip-path="url(#cp10)"><rect x="52.9" y="196.3" width="218.7" height="147.5" fill="#0a1a80"/><path d="M52 195l74.2 0 3.8 6 2 2 2 .7 1.4-.7-.1-2-2.1-4-2.1-2 141.9 0 0 150-222 0 0-150zM159.9 210l-1 2 .9 3 2.2 2.9 2 .7 1.4-4.6-.4-1.7-2-3.1-1-.1-2 .8z" fill="#0a1e8c"/><path d="M52 195l72.9 0 5.1 7.3 2 1.8 3 1.4 1-.1 1-.7 0-2.7-2.2-4-2.7-3 140.9 0 0 150-222 0 0-150zM161.6 205l-1.5 3-2.1 2-.5 1 .2 2 1.2 3 2.1 2.6 3 1.7 1.5-.3 .8-6-1-4-.1-3-1.2-1.8-1-.6-1 .1z" fill="#0a42d0"/><path d="M52 195l44.8 0 .2 2 1 2.7 1.4 2.3 1.6 .9 1.2-.9 .6-3-.8-2-2.2-2 22.3 0 8.9 11.8 3 2.1 4 1.2 2-.3 1.1-.8 .6-1 .1-2-2.1-4-5.4-7 138.7 0 0 150-222 0 0-150zM159.9 201l-1 1-1.4 4-3.6 3-.2 2 .9 3 2.3 4 4.1 3.8 4 2.1 3 0 .8-.9 .2-2-1-13-.6-2-1.4-2.4-2-1.8-2-.9-2 0z" fill="#1a64f2"/><path d="M52 195l41.8 0 3.4 8 2.8 2.3 3 .7 2-1.5 .9-3.5-.8-3-2.2-3 17.6 0 7.5 10.8 3 3.2 5 3.1 5 1 3-.8 1.5-1.3 .3-2-.3-2-10-12 137.5 0 0 150-222 0 0-150zM158.6 199l-1.4 2-1.2 4.2-1 1-4.6 1.8-.3 1 1.5 5 3.7 5 4.7 4.1 6 3.5 2 .6 2 .1 1-1.2 .1-2.1-1.2-6-.6-10-.6-2-1.8-3-2.9-2.8-3-1.5-2 .1zM195.8 227l-4.9 2-2.1 4-.3 1 .4 1 2.1 1.7 3 1.3 4 .9 2-.3 1-.6 .6-2-1.6-6.8-2-2.4-2 .1zM130.9 292l0 1 1.1 .5 .6-.5-1.6-1z" fill="#2e80f4"/><path d="M52 195l39.9 0 2.4 6 1.9 3 3.8 2.7 4 1 2-.5 1-1.1 1.3-4.1-.5-3-2.5-4 13.6 0 3.3 4 4.6 8 3.2 3.4 3 2.3 3 1.6 4 1.4 9 1.2 9.2 7.1 7.8 4.9 8.5 4.1 5.5 1.4 .5-.4-3.5-2.8-3.2-5.2-2.7-8-.6-5 0-5-.5-1.9-2-3.5-3-3.4-4-2.7-3-.4-1 .6-.9 1.3-1.1 5.8-.9 1.2-2.1 .5-3-.2-3-1-3-2.2-6.2-7.1 136.2 0 0 150-222 0 0-150zM194.2 224l-2.2 1.4-4.1 1.6-1.3 3-3.8 4-.4 1 7.6 3.8 9 3.2 4 .9 2-.4 .7-1.5-.1-2-3-12-1.4-2-1.6-1-2.6-.6-2 .2zM126.3 291l.2 1 2.4 2 5.1 2.2 2 .1 .1-1.3-3-3-3.1-1.4-3-.1z" fill="#3ca0ee"/><path d="M52 195l38.3 0 2.7 7 2.2 3 3.8 3 5 1.5 3-.5 1.4-1 1.2-2 1-3 .3-2-.5-2-2.4-4 9.1 0 3.2 4 2.2 5 2.1 3 4.4 4.7 4 3.1 5 2.4 10 3.3 4 1.9 26 16.2 3 1.1 12 2.4 9.1 3.9 5.3 3 3.9 3 4.7 7 3 3 3 1.4 4 .9 1.4-.3-.1-1-1.4-2-10.9-10.9-3.7-5.1-3.9-9-2.7-10-2.7-3-4-1.7-4 .5-4 2.5-4 1.2-2 3.3-2 1.1-2-.3-3-2.2-3-4.4-1.6-4-.8-5 .1-6-1-3-3.7-5.7-4.4-4.3 109 0 .1 2-.7 3 2 2.4 0 142.6-222 0 0-150zM53.6 252l2.5 3 5.9 5 16 11.9 14 12.1 4.6 3 4.1 2 3.3 .5 2.5-.5 .2-1-1-1-16.2-13-31.1-21-4.4-2zM123.2 289l-2.7 2-.3 1 1.3 1 13.5 5.2 3 .6 1.3-.8-.1-1-1.5-2-3.6-3-5.1-2.5-5-.6zM139 195l15.3 0-.6 8-.7 1-2 .4-4-1.1-3-1.8-5.8-6.5z" fill="#52b8ee"/><path d="M52 195l36.8 0 2.4 7 2.8 4.5 4 3.3 5 1.6 3 0 3-1.1 1.5-1.3 3.5-5.5 2-1.2 1 .2 10 9.5 5 4 6 3 10 3.8 6 2.9 10.1 6.3 13.9 9.9 4 1.5 12 1.3 5 2.4 3.9 2.9 3 3 7.3 11 3.2 3 3 1 14.6 2.1 1-.1 1.2-1-.3-2-1.1-2-7.5-10-10.3-8.1-3.7-3.9-4.2-8-2.7-9-3.4-3.8-4-2.4-4-.5-2 .7-4.1 3-3.9 1.2-2 2.4-1 .4-3-.5-2-1.6-2.3-2.9-1.2-3-.8-4 .3-6-.6-3-3.4-6.2-4-4.8 63.9 0-.9 1 .8 2 2.2 2.1 3 1 1.1-1.1-1-2-2.1-1.9-2.8-1.1 36.4 0 .6 3 1.2 2 5.6 4.8 0 77.9-4-1.3-2.2 .6 .2 1 2 1.9 4 2 0 58.1-222 0 0-86 20 12.7 19 15.3 14 7.1 7 2.5 5 .4 7 1.5 7 .6 9 2.2 3-.1 .7-1.2-.9-2-2.7-3-4-3-4.1-2.3-6-2.1-10-1.1-8-4.1-17.5-13.4-15.3-11-12.3-10-10.9-6.6 0-46.4zM113 195l1 0 2 1.7 .5 1.3-.5 1-2-1.2-1.3-1.8-.1-1zM140 195l11.7 0 .5 7-.5 1-.7 .3-3-.7-2.9-1.6-2.2-2-3.1-4z" fill="#7ed4ee"/><path d="M52 195l35.2 0 1.9 7 3 6 3.9 3.1 6 2.3 4 .2 3-.8 2.8-1.8 3.7-4 2.5 .1 15 11 6 3.1 11.6 4.8 8.4 4.8 19 13.6 5 2 10 1.5 5 2.2 5.5 4.9 8.1 11 4.4 3.4 5 1.8 7 .5 4 .8 14 5.5 .9 0-2.9-4.3-10-18.5-3.5-3.2-9.5-5.2-5-3.9-5-7.7-3.3-9.2-1.7-2.3-3-3-4-2.6-4-1-3 .9-4 3.7-4 1.5-2.1 1.8-1.9 .1-3-1.9-2-3.2-1-4-.2-2 .6-5-.7-3-3.1-6-3.5-5 57.9 0 1.8 3 2.9 3 2.3 1.6 3 .9 2.1-.5 .8-2-1.2-3-2.6-3 27.7 0 4.4 6 6.8 5.6 0 72.4-6-1.6-4-.3-2.7 .9-1 1-.7 2 .5 1 2.5 2 11.4 5.8 0 55.2-222 0 0-81.5 11 5.8 7 4.3 16.5 13.4 4.4 3 22.1 11 4 1.3 9 1.5 8-.9 11 1.3 2-.4 .8-.8-.6-2-2.6-3-4.5-4-4.1-2.7-9-4.3-12-3.2-6-3.3-17.3-13.5-12.7-9.3-15-12.8-12-8 0-41.9zM142 195l7.2 0 1.1 6-.3 .7-1 .2-1.9-.9-2.4-2-2.8-4z" fill="#98dff0"/><path d="M52 195l33 0 3.3 12 2.7 3.4 3.8 2.6 6.2 2.3 6 .5 4-1.2 5-3.8 2-.3 2 .6 15 9.8 18 8.5 6 3.4 5 3.3 11 8.8 4 2.6 5 1.8 9 1.6 4 1.8 4 3.3 9 11.3 6 4.6 5 2 10 .9 3.3 1.2 4.6 3 8.6 8 3.5 2.2 3 .6 10-.4 4 .9 5 2.1 0 52.6-222 0 0-77.5 10 4.5 7 3.9 16.6 13.1 11.4 7.5 4 2.1 13.9 5.4 16.1 4.1 2-.1 5-1.3 11 .3 4-1-.6-2-2.8-3-7-6-4.3-3-11.3-5.8-12-4.2-6-3.6-12.9-10.4-16.1-12-18-16-10-7.1 0-37.9zM170 195l53.1 0 2.9 4.1 4 4.1 3 1.9 3 .7 2.9-.8 1.3-2-.7-4-2.6-4 22 0 5.3 6 8.8 7.5 0 66.9-12-2.6-4-.2-5 .6-1.3-.2-1.6-1-2.1-3.1-5.3-9.9-2.9-4-5.8-5.2-11-5.3-5-3.7-4.4-5.8-3.2-8-1.9-3-3.5-3.9-5-3.7-4-1.6-3 .4-2 1.2-3.7 4.6-3.3 1.1-2 1.4-1 .1-1.4-.6-1.8-2-1.7-5-.2-2 1-4-.5-3-2.1-5-4.1-7z" fill="#aae6f2"/><path d="M52 195l29.5 0 2.9 9 1.8 4 2.8 3.9 3 2.4 7.7 2.7 7.3 1.3 4-.6 7-3.4 2 .1 2 .8 11.5 6.8 24.5 12.1 5 3.4 12 10 5 3.4 4 1.4 9 1.5 3 1.2 3.3 3 9.7 11.3 4 3.6 3 2 4 1.6 10 1.9 4 1.5 4 2.9 8 7.2 4 2.5 3 1.4 5 .9 9-.8 6 1.6 0 49.4-222 0 0-73.6 10 3.9 7 3.6 26 19.7 6 3.3 8 1.6 9 3 16 4.3 10-1.3 19 1 1.4-.5-7.4-4.7-18-13.7-12-6.3-10.8-4.3-5-3-11-9-18.8-14-19.4-18.7-10-8 0-33.3zM172 195l49.5 0 4.5 6.2 4 4.4 3 1.9 3 .7 4-.8 2.1-2.4 .4-2-.3-3-2.5-5 16.6 0 5.7 6 11 9.9 0 59.5-10-1.8-9-3.4-4-3.1-10-10.5-6-5.3-3-1.6-8-2.5-4-2.3-4.8-4.9-4.2-9-2.7-4-4.3-4.4-5-3.6-4-1.5-4 .5-2.6 2-1.6 4-.9 1-2.9 .8-3-.3-1.9-2.5-.8-2 .1-2 1.4-3-.4-3-5.9-13z" fill="#d0f2f7"/><path d="M52 195l12.3 0-.8 2 .2 2 1.3 1.3 2 .4 .5-.7-.2-4-.8-1 9.1 0 5.4 7.5 3 6.5 2 3.2 2.1 2.8 2.9 2 4 1.2 13 2.6 4-.2 7-2.3 2 0 3 1 8 4.2 15 6.4 9.7 5.1 6.9 5 12.4 10.8 5 3.3 3 1.3 8 1.8 3 1.3 4 3.1 8 9.4 6 5.3 4 2.5 4 1.7 11 2.5 3 2 9 8 5 3.4 5 2.3 4 1 5 .1 6-.9 4 .8 0 45.3-222 0 0-68.9 9.7 2.9 6.3 3 23.3 17 5.3 3 4.6 2 10.8 1.9 25 7 12-.8 17 1 1.3-.1 .8-1-.5-1-2.2-2-7.4-4.7-18-12.9-14-7.6-9-4.1-4-2.5-11.4-9.2-16.5-12-7.7-7-20.2-23-3.6-5-.4-1 .8-.9 6 1.7 2-.3 .6-.5 0-2-2.4-7 .4-1 4.4-1.2 .8-1.8-1.8-4-2-1.4-2-.3-2 .1-.9 .6-.6 4-.5 .7-4 .1 0-11.8zM175 195l45 0 9 12.6 4 2.9 3 .7 3-.4 2-.9 2-1.6 .9-1.3 1-4 .1-3-2-5 10.3 0 13.8 13 5.9 6.3 0 51.2-11-2-5-1.9-4-2.4-6-4.6-4.8-4.6-6-7-3.2-4.7-1-.4-.6 1.1-2.4 1-3 .1-4-.9-3-1.6-3-2.7-5.2-9.9-2.7-4-5.1-5.3-5-3.9-3-1.5-4-.6-4 .8-4 1.9-1-.4-5.1-10-2.4-7zM179 214l3-1 1 1.2 .9 2.8-.1 1-.8 1-2 .2-2.1-1.2-1.1-2 .2-1.2 1-.8z" fill="#daf5f8"/><path d="M52 195l2 0-.3 1-2.7 1.1 0-2.1zM180 195.1l38.5-.1 2.7 4 4 8 2.8 4 4 3.9 3 .8 5-1.4 5-4 1.4-2.3 .9-3 2.5-4-.5-4 .7-.5 1 .5 12 10.5 10 10.6 0 43.3-8-1-5-1.2-6-2.7-5-3.4-6-6.1-9-15.5-2-2.1-1-.1-1 .7-4.4 5-1.4 1-2.2 .1-3-1.4-4-4.5-3.1-6.2-2.7-4-5.2-5.7-7-6.4-5-2.5-2-.2-6 .7-3-1.8-1.1-2.1 .1-6zM77 203l.1 2 6 7 3.7 6 2.2 1.4 22 4.4 4-.1 6-1.3 3 .2 20 7.4 8.5 4 8.6 6 18.9 16.9 5 2.8 8 2 2.9 1.3 8.4 10 8.7 7.7 7 4.6 12 5.7 11 9.3 5.3 3.7 3.7 1.5 5 .8 7 .6 9 0 0 38.1-222 0 0-62.8 10 2 5.2 1.8 3.8 2.2 16.5 11.8 4.2 2 11.3 4.1 12 1.9 21 6.2 5 1 10-.4 17 .4 2-.3 1-.9-.6-2-2-2-26.4-18.4-28-15.9-10-8.1-17.6-12.6-6.6-6-5.5-6-3-4-4.7-8-1.3-3-.1-2 1.5-4 .1-6 .7-2 3.2-3 .6-3 .7-.9 5-2.1 .9-1 .1-1zM196.7 335l.4 1 1.6 1 2 0-.7-1.2-3-.9zM179 337l2 2.1 1 .3 1.2-.4-2-2-1.2-.4-1 .4z" fill="#f0fafc"/><path d="M196 195l20.9 0 2 3 2.4 8 2.7 5 7 8.6 1 1 2 .7 5-1.1 4-2.7 5.4-6.5 1.6-4 1-.6 2-.4 3 .6 5 3.3 12 11.9 0 34.6-5 .6-5-.5-5-1.2-5-2.3-4.1-3-4.9-6.4-2.4-4.6-3.7-9-2.9-4.4-2-2.1-3-.4-4 1.4-1.6 1.5-2.4 4.9-1 .7-2-.2-1.9-1.4-1.1-1.5-1.6-4.5-2.2-3-9.2-10.9-7.7-8.1-.7-2 1.1-3-.6-2zM74 215.9l3-.3 2 .5 7 4.3 5 2 11 1.6 14 3.8 3 0 6-1.1 4 .3 13 4 7.8 3 7.5 5 9.3 8 13.4 13.8 16 10.1 18 16.3 4 3.1 32.5 20.7 4.5 1.4 10 1.2 8 1.9 0 14.4-3-1-4 0-8 1.7-13 3.6-13.4 .8-.2 1 14 6 5.6 2.1 5.3 .9-42.5 0 2.2-1.2 6.1-1.8 3.9-4 2.8-2 0-1-12.8-6.1-6.3-1.9-6.7-1.2-4.7 .2-3.3 1.3-5 3.6-2 3.7-1 .8-4.8-.4-7.2-2.1-1 .1-1.6 1-1 2-.4 2 1 2 3 1.8 7.3 3.2-18.5 0 0-3-2-2-6.1-3-6.7-2-3.5 0-5.5 1.6-15-2.5-13 .6-24-3.8-8 .6-11-.7-6 1.7-9-2.6-3-.1 0-41.4 8 1.4 6 1.7 7 3.3 12 7 5 2.2 16 4.5 11 1.4 25 7.6 4 .6 16 .6 10-1.4 2-1.1 .5-1.2-.6-2-3-3-6.7-4-4.2-3.4-9-5.7-10-7.2-23.8-14.7-11.2-8.7-17-11.4-8-7.3-4.3-4.6-2.8-4-3.1-6-1.3-4 .1-3 1.4-7 1.4-2 2.4-1zM52 335.9l4 1.1 10 .2 13 4.6 7 1.7 7 .7 7-.4 7.4 1.2-56.4 0 0-9.6zM116 343.8l12-.5 4 .6 3.1 1.1-23.6 0 3.8-1zM148 344l2 0 2.7 1-6.4 0 1.6-1zM196 344l5 1-5.8 0 .7-1zM264 344l4-.5 4.3 1.5-13 0 4.6-1z" fill="#fde8e6"/><path d="M202 195l12.9 0 .8 1 .7 2-.5 5 .3 2 5.9 9 1.2 3-.3 1.8-1 1.1-2 1.3-2 .5-2-.8-2-1.9-8.2-10-1.9-4 .2-4-.5-2-2.6-4zM254 211.8l1-.3 2 .4 3 1.8 5 4.4 8 8.2 0 25.1-3.1-.4-6.9 1.5-6-1-3-1.4-3-2.1-3-3.1-2.5-3.9-3.6-11 0-4 5.9-7 2.1-4 3.8-3zM75 220.6l2-.5 2 .1 13 4.5 12 1.7 12.4 4.6 5.6 1.4 4 .2 5-1.4 6 .7 8 2.2 6 2.7 6 4.1 8.4 7.1 12.6 14.2 19 13.8 17 15.4 8 5.6 35.3 22 1.4 2 0 1-1.7 1.9-2 .6-5 .3-5 1.9-4 .8-18-.9-6-1.2-20-6.3-9-2.1-1 .2-.7 .8 .4 7-1.7 2.4-3 1.2-3 .2-3-.5-3.2-1.3-1.7-2 .2-2 1.8-2 6-3 1-1 .2-2 1-2-.4-1-1-1-14.1-9-7.8-2.6-8-4.2-13.8-10.2-2.7-3-1.8-3-2.3-2-17.4-10.5-12-9.4-9-3.5-8-5.7-6.5-6.9-2.3-4-1.7-4-.7-3 0-3 1.1-4 1.4-2zM51.1 294l3.9 .9 7 .4 5 1.2 5 2.1 13 6.9 4 1.6 11 1.8 9 2.8 8 .3 9 3.4 7 1.6 11 4.3 6 1.1 7 .5 4 .9 5 2.2 1.1 1 .4 1-.6 2-.9 .7-2 .3-10.6-1-12.4-2.5-2 .1-4.8 1.4-2.2 .1-18-1.9-14-.4-7 .6-10-1-15-.6-10 .7-7-1.5 0-31z" fill="#fddad8"/><path d="M256 219.5l3 .2 3 1.8 5 4.5 6 6.8 0 15.3-7-.8-6 .3-3-.3-4-1.8-3-2.5-3.3-9 0-4 2.3-4 6.2-6zM78 223.6l2-.3 3 .5 12 4.3 6-.1 5 1 6 1.9 14 6.1 5 1.7 2-.2 4-2.3 3-.2 6 1.3 6 2.7 6 4.1 6 4.9 7.7 10 4.9 5 18.3 14 17.1 15.8 9 6.5 25.7 15.7 2.4 2 .4 1-.5 .4-4 1.1-5.9 2.5-3.1 .5-16.3-1.5-4.7-.8-21-8.2-26.6-14-12.4-3.7-4-1.8-5.2-3.5-4.7-4-6.1-7.9-4-4-4-2.8-13-7.4-3.3-2.9-7.7-8.5-3-1.4-5 .3-4-1-5-2.6-4-3.1-4.5-5.7-2.3-6-.1-5 .9-2.7 1.3-1.3zM51.8 298l16.2 2.8 6 2.3 15 7.3 5 1.4 8 1.1 3.3 1.1 4.4 2 5.1 3 1.9 2 .1 1-1.8 .6-9-.4-16 1.5-12-1.1-13-.4-8 .6-4.9-.8-1.1-.3 0-23.9z" fill="#fccfcc"/><path d="M80 227l3-.8 5 1.5 4.2 2.3 5.8 5 3 1.6 2.2-.6 .8-2.4 1-1.1 4-.1 6.3 1.6 11.7 6.5 5 2.1 5 .6 5-1.8 3-.4 4 .9 5 2.4 7 5.4 7.3 9.3 5.7 5.9 18.3 15.1 23.7 22.3 4 2.9 9.4 4.8 4.5 3 2 3-.9 1.8-2 .8-3 .2-13-1.8-6-1.6-13-5.4-24-11.7-7-2.6-12-3.3-5-2.3-6-4.8-8-10-4.1-4.3-3.9-2.9-9.3-5.1-2.7-2-9-10.7-4-3.9-3-1.3-5.8 2.9-2.2 .2-4-1.2-4.3-3-3.1-4-2-5-.2-5 .6-1.9 .9-1.1zM258 230l2 .2 3 1.4 7.6 6.4 1.5 2 .9 2-.2 1-1.8 .9-4-.3-7.7-1.6-2.5-1-2.6-2-1.7-3 0-2 2.2-3 3-1zM52 302.5l15 2.2 5 1.5 6.1 2.8 7 4 3.8 3 .7 2-.6 1-2 .7-15-1.5-10-.2-7 .7-2-.2-2-.6 0-15.6z" fill="#fcaaa2"/><path d="M85 229.7l2 .1 2.4 1.2 3.8 4 1.8 3-.4 2-3.3 4-1.3 .8-2-.2-2.2-1.6-2.7-5-.8-3 0-2 .7-1.9 1.2-1.1zM111 238.9l3-.9 3 .7 11 6.5 5 2 7 .6 9-1 3 .9 3 1.8 3 2.6 12 12.9 17.1 15 15.3 15 3.2 4 1.3 3 .1 2.7-1 .9-3-.1-4-1.3-20-9.6-22-4.8-7-2.9-5-4.6-9-10.9-4-4.2-16-12.3-6.6-8.9-1.6-3 .2-2 2.9-2z" fill="#fb8e84"/><path d="M136 253l6-.3 6 .6 4 1.3 4 2.4 24.1 22 7.9 8.7 6.5 6.3 .8 1-.3 .7-3-.7-7-3.4-5-1.8-8-1.7-15-2-4-1.4-3-1.8-4-3.6-3.7-4.3-5.8-8-5-8-.5-2 .7-2 1.3-1.2 2.9-.8z" fill="#f47a76"/><path d="M143 258.9l3-.6 3 .5 4 1.8 3.5 2.4 13.6 14 1.6 3-.1 1-1.1 1-4.5 .6-8-.6-4-1-4-2.1-5.2-5.9-3.8-7-.6-4 1-2 1.3-1z" fill="#f05058"/></g><g clip-path="url(#cp11)"><rect x="320.3" y="196.3" width="218.7" height="147.5" fill="#0a1a80"/><path d="M320 195l77 0-1.3 1 .1 1 1 2 2.4 2 2.8 .9 1.2-.9-1.2-2.9-2.3-2.1-2.7-1 143 0 0 150-221 0 0-150z" fill="#0a1e8c"/><path d="M320 195l74 0 1.1 3 1.9 2.3 3 2 3 .8 1-.3 .7-.8-.3-2-2.1-3-2.2-2 139.9 0 0 150-221 0 0-150zM527.1 199l.9 1.9 2 1 .8-.9-.4-1-2.4-1.5z" fill="#0a42d0"/><path d="M320 195l70.8 0 3 5 3.2 3.2 4 2 5 1 2-.8 .6-2.4-1.6-4-3-4 116.8 0 1.3 5 1.8 3 4.1 2.4 5 1.4 2.3-.8 .7-2-1.3-5-2.9-4 8.2 0 0 150-221 0 0-150z" fill="#1a64f2"/><path d="M320 195l69.1 0 3.9 6.8 3 2.9 5 2.4 7 1.5 2.5-.6 .7-1 .2-2-1.8-5-3.2-5 111.6 0 1.3 6 2.4 3 5.9 3 6.4 1.2 3-.5 1.5-1.7 .1-6-1.6-5 3 0 0 150-221 0 0-150zM427.6 214l-.6 .2-.2 1.8 3.2 12 6 6.4 5 2.9 .9-.3-1-2-10.4-12-1.6-4 .7-3-.3-1-1.3-1zM447.9 240l-2.2 1 .2 2 2 3 6.1 7.2 3 2.8 3 2 3 1 2-.2 .7-.8-1.3-6 .4-5-1.8-2.9-3-2.6-4-1.7-5-.6-3 .7z" fill="#2e80f4"/><path d="M320 195l67.5 0 1.5 3 1.1 4 2.5 3 6.4 3.6 8.7 2.4 7.3 3.3 7 7.4 7.9 11.3 3.1 3.7 14.1 13.3 6 7 5.9 4.2 4 1.7 3 .6 2.4-.5 .7-1 .2-2-1.6-6-.5-7-3.2-5.1-4-3.7-12-4-3-1.7-3.2-2.5-4.2-5-7.6-15.3-3-3.2-2-.3-7 3.1-1.3-.3-7.3-14 105.9 0 .3 1-1.3 3 0 2 1.6 2 4.7 3 5.4 2.3 5 1.1 6-.1 3-.8 0 136.5-221 0 0-150z" fill="#3ca0ee"/><path d="M320 195l65.9 0 .8 2-.2 5 1.5 2 9 5.7 13 5.2 8 5.8 4 4.3 10 13.8 11.8 11.2 8.2 9.8 7 4.4 8 3.4 4 1.2 1 0 .9-.8 0-4-2.8-9-.9-7-4.2-8.5-2-2.6-3-1.8-10-2.6-3-1.4-2.7-2.1-2.8-3-3.9-6-6.1-13-1.5-10-1-2 77.1 0-3 2-1.4 2 .1 1 .8 1 1.6 1 22.8 8.5 5 .7 8-.6 0 134.4-221 0 0-150zM336.2 248l-.1 3 1.9 3.4 15.7 18.6 6.3 5 6.4 4 6.6 3.2 3 .6 .2-.8-.4-1-5.9-9-5.9-6.9-24-19.5-3-1.3zM479.5 278l0 2 2.3 3 3.2 1.6 2 0 .7-.6 .1-1-1.3-2-3.5-2.4-3-.9z" fill="#52b8ee"/><path d="M320 195l63.7 0-.2 6 2.3 3 10.2 7 14 6.3 6 3.9 4.6 4.8 9.3 13 11.4 11 8.7 10.9 5 3.7 13.8 7.4 3.1 3 4.1 6 3.9 4 4.1 2.6 4 .9 3-.4 2.1-1.1 1.3-2-.5-2-2.8-3-9.3-7-4.1-5-4.9-10-2.1-10-4.9-11-2.1-2-3.5-2-9.2-2.7-3-1.4-4-3.2-3-3.7-3.6-6-2.7-6-1-4-1.1-8-1.4-3 64.3 0 .4 3 2.1 3 4 3 4.2 2 21.8 6.9 5 .4 7-1.1 0 132.8-221 0 0-150zM331.5 239l-1.5 1.6-.4 2.4 .7 5 1.5 4 4.3 7 10.2 11 6.8 6 8.9 6 17.6 10 3.4 1.3 2 .2 .6-.5-.1-1-1.9-3-7.4-8-7.2-10.4-4-4.8-5.2-4.8-12.8-10.2-10-9.9-3-1.9-2-.2z" fill="#7ed4ee"/><path d="M320 195l60.6 0 .4 5 3 4 7 5.5 6 3.9 13 6 5.8 3.6 4.2 4.8 9 12.2 11.2 11 5.9 8 3.9 4.3 5 3.9 11 5.8 9.4 11 5.5 5 3.1 1.8 4 .9 5-.5 5.7-2.2 1.1-1 .4-1-.3-2-4.4-5-12.5-9.4-5-5.9-3.6-6.7-2.3-10-3.5-9-2-3-2.6-2.5-3-1.9-9-3.1-4-2-3-2.3-3-3.4-3-4.8-2.2-5-1.1-4-.9-8-1.8-4 58.7 0 2.1 4 3.2 3.5 5 3.6 6 2.9 21 6.5 6 .3 5-1.1 0 130.3-221 0 0-150zM329.3 233l-2.3 2-1.5 4 0 3 .9 5 1.3 4 2.7 5 6.6 8.2 9.9 9.8 12.1 8.8 22 12.9 6 2.3 3 .1 .8-1.1-.2-1-2.2-4-3.2-4-8.1-8-7.1-11-4-4.8-5-4.8-14.4-11.4-5.5-6-5.2-7-2.9-1.9-3-.3z" fill="#98dff0"/><path d="M320 195l57.6 0 .9 4 1.8 3 8.7 7.6 8 5.7 14 6.7 5 3.8 5 5.7 7.2 9.5 10.3 10 8.5 11.6 4 4.4 14 9.4 11 11.6 4 3.4 4 2.3 4 1 6-.3 10-2.2 .9-1.2 .1-1-1.5-4-2.5-3.7-3.1-3.3-12.9-9.2-3-2.7-3-3.7-3-5.4-2.2-9-3.4-9-1.6-3-2.8-3.4-5-3.8-12-4.5-3-2.2-3-3.3-3-4.8-1.6-4-1.6-11-2-5 54.1 0 3.1 5 3 3.4 4 3.1 7 4.1 7 2.7 16 5 6 .8 5-.7 0 126.6-221 0 0-150zM326.7 228l-2.7 2.1-1.6 2.9-1 5 .9 7 1.6 5 2.5 5 3.5 5 4.3 5 5.7 6 5.1 4.6 17 12.2 14 8.4 6 3 9 3.4 3 .6 2-.2 1.1-1-1.3-3-7.9-10-9.3-9-7.6-12-5-6.4-3.9-3.6-10.1-7.3-4.2-3.7-4.5-5-5.3-7.8-4-4-4-2.5-3 .1z" fill="#aae6f2"/><path d="M320 195l54.9 0 2 5 2 3 10.1 8.8 9 6.2 13 6.2 6 4.8 9.6 12 11.2 11 9.2 13.5 3 3.4 4 3.4 11 7.8 11 11.4 4 3.5 4 2.3 4 1 9-1 4 0 5 1 8 2.8 1.3-.1 0-1-10.4-16-3.9-5-3.4-3-11.6-7.4-3-2.6-3-3.5-2.5-4.5-2-8-3.9-10-2.2-4-3.4-4.4-2-1.9-2.7-1.7-9.3-3-3-1.5-2.1-1.5-2.9-3.1-2.5-3.9-1.3-3-.9-4-.6-7-2.1-6 49.6 0 3.9 7 2.4 3 4.5 3.8 5 3 7 3 20 6.6 6 1.2 5 .1 0 122.3-221 0 0-98.3 4.7 9.3 9.3 12 9 8.6 16 12.6 15.9 9.8 16.1 7.3 5 1.6 5 .8 4-.2 1.4-.5 .5-1-.9-2-1.8-2-7.2-6.6-7.7-8.4-7.6-7-9.7-15.5-4.1-5.5-4.5-4-10.4-7.1-5.9-5.9-9.7-15-1.5-4 .9-5-1.8-3.2-2-2.3-2-1.5-2-.7-2 .4-2 1.6-1.2 1.7-2.6 10-1.2 2.2 0-32.2z" fill="#d0f2f7"/><path d="M320 195l52.3 0 3.4 8 5.2 5 14.1 10.6 5 2.9 10 4.4 4 2.5 3 2.6 8 10 7.7 7 3.7 4 8.8 14 3.8 4.7 6 6 12 9.3 9 10 3 2.7 5 3 5 1.3 5-.3 5.4-1.7 2.6 .3 4.1 1.7 9.9 5.8 5 1.5 3-.3 1-.7 .6-1.3-.1-2-1.5-3-11.7-12-7-10-3.6-4-3.7-2.8-11-6.7-5.7-5.5-2.3-4-1.8-7-4.4-11-6.8-10.9-4-2.9-12-3.9-3-2.2-2.7-3.1-1.7-3-1-3-1.1-10-2-6 44.7 0 .8 2-.5 4 .6 2 7.2 6 8.7 6 7 3 22 6.8 6 1.7 5 .7 0 117.8-221 0 0-90.6 8 11.5 6.9 7.1 18.3 16 9.8 6.9 9 5.7 22 10.5 7 2.7 3 .4 13-.5 3-1.1 1.3-1.6-.7-2-2-2-10.6-5.3-8-5.4-8.3-8.3-7-6-2.5-3-10.2-17.4-3-4-5-4.3-10-6.5-5-4.7-3.5-5.1-4.5-9-1-4-.2-5-3.5-10-3.3-4-9-9.1-.6 .1 .4 3-.4 2-1.1 1-2.3 .6 0-8.6zM516.8 325l1.2 .2-1-.3z" fill="#daf5f8"/><path d="M336 195l33.4 0 .5 2-.3 5 .5 1 2.1 2 24.8 18.4 4 2 9 2.9 5.7 3.7 6.5 8 9.1 8 3.6 4 9 15 8.1 11.8 12.9 9.2 6.3 8 9.8 8.6 3 2.2 3 1.2 9 .3 9 1.3 5.2 2.4 4.3 3 .9 1-.4 .4-3 .5-2.1 1.1-1.1 2 .1 2 1 2 1.8 2 6.3 4.4 6 2.9 6 1.9 4 .2 1.8-.4 1.2-1 .6-2-1-8 2.2-7-1.1-6 1-1 1.3 0 0 35-221 0 0-84.3 3.9 5.3 2.8 3 27.3 23.8 17 12 20 10.3 12.7 9.9 6.6 4 9.7 4.1 3 .6 3-.2 1.7-.5 2.7-2-.4-2-2.8-4 .4-1 3.4-3 6 1 .4-1-4.6-8-4.3-4-6.5-3.4-15-5.6-4-2.2-3.9-2.8-5.9-6-8.3-7-11.9-20.8-4-5.2-4-3.5-11-6.6-4-3.9-3.9-7-2.8-7-3.2-16-2.9-8-.1-7-.8-2zM441.9 326l3.3 2 1.8 0-3-2-2-.5zM441 195l35.1 0 0 4 2.7 4 11.7 9 10.5 6.6 11 5.3 28 7.5 0 69.2-2.7 .4-3.3 1.2-3-.8-4-2-9-5.9-4.8-4.5-5.4-8-4.6-5-5.2-3.9-10-5.8-5-4.3-1.9-3-2.5-8-4.6-11-7-12-2-2.1-3-2-8-1.9-4-1.6-3-2.3-1.7-2.1-2-5-.6-9-2.1-7z" fill="#f0fafc"/><path d="M342 195l21.4 0-.4 3 1 3 2.4 3 6.6 5.6 14 10.4 13 10.9 3 .9 7 .5 3 1.3 8.1 7.4 8.9 7.2 6.1 7.8 12.1 23 12.6 10 5.4 6 10.3 9 8.5 9.7 5 3.6 8 4.1 5 4.6 4 2.6 9 4.3 11 6.4 7 3.2 6 2.1 0 .4-221 0 0-13 8 2.4 4 .5 3-.7 2-1.3 2-.6 4 .3 10 2.1 4-.4 2.9-1.3-.1-1-1.4-1-4.9-2-22.5-5.4-11-4.3 0-53.6 3.2 3.3 8.6 7 18.8 17 21.4 16.1 16.4 8.9 4.3 4 6.3 7.1 3 2.3 4 1.4 11 2.1 7 2.9 5 1 8-.4 9-3.5 3-.1 7 1 2-.7 .8-1.1-.3-3-2-3-10.7-8-10.8-11.7-3-2.7-4-2-17.5-4.6-7.5-2.9-2.8-2.1-5.1-5-7.8-6-6.9-11-6.4-12.2-4-6-5-4.6-9-4.2-3-2.2-4-7-3.8-9.8-1.9-9-1.1-9 .1-3 1.5-5-.2-2-1.3-3zM483.6 328l2 2 5.4 2.1 5 .2 3.2-1.3-.2-1-2-.8-13-2.1zM369.3 331l-1.5 1 .8 1 4.9 1 1.4-1-1.5-1-3.4-1zM385.1 334l1.9 .3 .3-.3-1.3-.8zM444 195l21.6 0 .2 1-.7 5 1.1 2 3.3 2 8.5 3.4 6 3.1 15.9 9.5 12 8 5.1 2.2 12 1.7 11 2.7 0 56.4-6 1.8-5 .6-3-.3-3-.9-5.7-3.2-2-2-5.5-8-6.8-6.7-5-3.7-10-5.4-3.9-3.2-9-21-9.1-16.8-2-1.7-2-.9-7-.7-3.6-.9-2.4-1.3-1.6-1.7-2-5-.2-7-1.8-9z" fill="#fde8e6"/><path d="M449 195.5l2 .1 3 1.8 7 7.6 4 3.4 3 1.4 11 3.1 7 3.1 8 4.7 10.2 7.3 6.8 3.8 9 3.5 20 4.4 0 46.8-11 2.2-4-.3-3-.9-4-2.6-9.2-8.9-5.6-6-4.2-5.6-2-1-6-1.1-3-1.6-3-4-5-8.8-7.7-15.9-3.5-9-3.1-6-1.7-1.4-2-.5-6.3 .9-2.7-.1-2-.8-2-2.2-.8-1.9 .6-4-.7-4 .1-7zM352 203l2-1 2 .7 13 11.5 15 7.5 15 11.8 5 2.5 8 2.1 3 1.2 13 8.8 3 3.1 3.4 4.8 10.8 22 2.8 3 8.4 7 17.3 16 9.3 13 1.1 3-.8 1-6.3 .8-5 0-17-2.4-4-1.1-3-1.5-3-2.5-11-12.1-4-3.2-3-.7-10-.2-10-2.9-5-2.6-13.5-9.6-8.2-12-9.5-19-1.1-5-.7-1.4-2-2.3-2-1.4-3-.9-5-.3-3-1.6-2-2.2-4.4-7.9-3-11 .4-6.8 1.6-4.2 5.4-4zM319.6 269l8.6 7 16.7 16 15.6 12 9.5 8.8 6.5 5.2 2 2 1 2-.2 1-1.3 1-4 .8-8-.2-9-1-15-3-19-5.5-4-1.6 0-45zM471 339.7l3-.6 12 .3 17 5 6 .3 8-.9 5.6 1.2-78.5 0 6.9-1.6 12 .5 3-.2 2-1 2.7-2.7zM320 343.6l30 .1 11 .8 9-.7 16 0 5.6 1.2-72.6 0 0-1.6z" fill="#fddad8"/><path d="M351 211.5l2-.4 4 1.4 4 2.9 6.2 5.6 2.8 1.8 8 .2 6 2.1 4 2.4 12 9.5 5 2.4 13 4.4 5 2.6 4 3 3 3 2.6 3.6 8.2 18 2.5 4 3.7 3.9 20.3 18.1 3.9 4 2.9 4 2.6 5 .5 2-.7 2-3.5 1.1-5-.1-10-1.8-6-1.9-6-3.6-10-10.3-5-3.6-5-1.7-10-.3-5-1.4-7-3.1-12.1-7.3-6.9-7.2-2.5-3.8-8.4-18-1.4-6-2.7-8.2-1-1.7-4-2.3-6-.7-3-.9-3-1.9-3-3.5-2.6-7.8-.5-3 1.1-3.2 2.4-2.8zM473 215.9l2-.4 3 .3 8 3 6 3.7 9 7.2 7 3.7 15 5.6 17 4.9 0 38.4-8 1.7-4 .4-4-.5-4-1.6-6-4.2-5.1-5.1-9.2-14-2.7-1.4-7-1.2-4-2.8-3-3.4-2-3.2-8.1-17-.9-4-.5-6 .3-3 .9-1zM319.6 271l7.3 6 14.1 15.3 13.6 9.7 5.8 5 7.4 8 1.4 2 .5 2-1.2 1-1.5 .4-6 .1-18-3.5-10.6-4-13.4-7.8 0-34.6z" fill="#fccfcc"/><path d="M351 217.9l2-.5 2 .2 4.4 2.4 3.4 3 3.4 4 1.1 2-.3 1.3-2 .4-6 0-3-.6-1.9-1.1-2.1-3.1-2.2-4.9 0-2 1-1zM477 219.7l3-.5 5 1.6 5.1 3.2 8.9 7.6 4 2.7 20.7 7.7 16.3 7.4 0 28.9-8 2.3-4 .5-5-.7-4-1.6-5-3.5-4.7-5.3-3-5-6.3-13.1-1-.5-4 1.5-4 .1-3-.9-3-2.2-5-7.6-5.3-11.3-.5-3 .3-3 .8-3 1.3-2zM380 227.9l3 .1 3 1.1 10 7.8 5 3.3 6 2.8 14 4.9 4 2.4 3 2.6 2.4 3.1 7.9 17 3.7 5.8 12.3 12.2 11.8 10 4 5 1.6 3 .6 3-.3 1-1 1-2 .6-3 .2-4.9-.8-9.1-2.9-5-3.1-9.1-9-5.9-4.2-6-2.2-11-1.2-6-1.9-14-7.2-8-6.3-2.7-4-7.4-16-3.1-11-.8-5-4-8 .1-1 1.9-1.5 8.4-1.5zM319.4 273l3.7 3 5.2 6 2.8 4 4.2 8 2.7 1.9 9 4 5.1 3.1 6.6 6 3.4 5-.1 1.6-1 .8-2 .4-4-.3-13.5-3.5-5-2-3.3-2-10.2-9.3-4-2.5 0-24.5z" fill="#fcaaa2"/><path d="M482 222.9l3 .6 3.8 2.5 12.2 11.6 3 1.3 12 2.9 7 2.6 8.7 4.6 8.3 5.7 0 19.7-11 3.5-4 .1-5-1.4-4-2.4-3.4-3.2-2.3-3-1.6-3-4.7-13.8-3-5-1-.8-2 .2-6 3.1-2 .4-3-.9-3-2.6-4-6-2.8-5.6-.9-3 0-2 .7-2.2 2-2.5 2.2-1.3zM380 232.9l3 0 4 1.1 16 10 6 2.7 11.6 4.3 4.6 3 2.8 3.5 4.3 7.5 4.5 9 4.2 6.1 9 9.8 11.9 10.1 4.1 4.5 1.4 2.5 .2 2-.6 1-2 .9-3 0-4-.8-7-3-4-2.9-9.9-9.2-5.1-3.2-4-1.4-12-1.6-5-1.4-15-7.4-6.1-4-2.9-3.4-4-7.3-4.3-9.3-2-7-1.7-12 1-2.3 3.4-1.7zM320 277l4 5.8 1.1 4.2-.6 2-1.5 1.6-4-.3 0-14.3zM337 301.9l3 .1 4 .9 6 2.7 3 2.3 1.7 2.1 .4 2-1.1 .6-5-.9-8-3.7-4.4-4-.5-1 .5-1z" fill="#fb8e84"/><path d="M481 227.9l3-.3 4 1.7 4 3.4 3.5 4.3 .9 2-.5 2-2 2-2.9 1.7-3 .5-2-.7-2-1.6-3-4.6-2-3.5-.9-2.8 .9-2.8 1.9-1.2zM381 236.7l4 0 4 1.4 12.8 7.9 17.2 8.3 5 3.5 5.8 7.2 4.9 9 8.6 14 3.7 4 9 7 3.1 3 1.2 2-.1 1-1.2 .5-3.9-.5-4.1-2-3.8-3-6.2-6.9-5-3.3-6-2-12-1.3-6-1.5-5-2.1-11-5.9-4.5-3-2.5-2.6-3-4.4-4.6-9-1.9-5-1.4-6-.4-6 .4-2 .9-1.3 1.3-.7zM507 243.6l3-.2 4 .6 9 3 9 5.3 7.7 6.7 .3 10.8-7 3.2-6 2-4 0-5-2-4-3.2-2.5-3.8-5.3-16-.9-4 .7-2z" fill="#f47a76"/><path d="M482 230.9l4 .6 2.4 1.5 2.2 2 1.3 2 .2 2-.5 1-1.6 1.1-2 .3-2-.6-3-2.6-2.2-3.2-.6-2 .2-1 1.3-1zM382 239.9l4-.1 5 1.9 13 7.9 13.7 7.4 4.4 3 4.9 5.3 6.4 10.7 1.3 4-.7 2-1 .5-11 1.5-4-.1-4-.8-9-3.7-7.8-4.4-4.2-2.9-3-3.1-2.2-3-4-7-2.5-6-1.1-4-.2-6 .6-2 1.2-1zM510 246.8l4-.3 6 1.7 6 2.9 5.4 3.9 4 4 1.8 3 .1 3-2.3 2.4-5 2.6-6 1.7-4-.5-3.8-2.2-1.3-2-6-16-.2-2 1-2z" fill="#f05058"/><path d="M483 233.9l1-.2 2 .7 1.7 1.6 .3 1-1 .7-2-.6-2-2-.1-1.1zM383 243l1-.6 2-.2 5 1.7 28 17.3 5 4.7 4.3 6.1 1.4 3 .1 1-.8 1.7-2 1-6 1.6-3 .5-3-.2-8-2.7-10.3-5.9-5.7-5.6-5-7.4-2-3.9-1.7-5.1 0-5 .7-2zM514 249l4 .7 5.3 2.3 4.3 3 3.7 4 1 3-.8 2-2.5 1.7-4 1-3-.3-2-.9-4-4.4-4.4-9.1 .2-2 2.1-1z" fill="#e0304a"/><path d="M387 245l3 .9 3.6 2.1 8.4 6.4 14 8.6 4.3 4 2.7 4 .1 2-.8 1-2.1 1-5.2 1-4-.2-5.2-1.8-5.7-3-4.1-3.7-7-8.4-3.8-5.9-.4-2 .4-4 .8-1.9 .5-.1zM515 251.9l3 .1 5.4 3 2.7 3 .4 2-.8 1-1.7 .4-2-.3-3-1.9-4-5.2-.1-2z" fill="#d41432"/></g><g clip-path="url(#cp20)"><rect x="52.9" y="376.8" width="218.7" height="147.5" fill="#0a1a80"/><path d="M52 375l72.6 0-.2 2 .6 2.7 2.6 5.3 3.4 3.4 3 .8 1-.3 1-1.1 0-2.9-3.2-6.9-1.8-2-1.6-1 143.6 0 0 151-222 0 0-151z" fill="#0a1e8c"/><path d="M52 375l69.8 0 2.2 6.7 3 5.3 4 3.3 4 1 1.7-.3 1.2-1 .4-3-1.3-4-1.9-4-3.4-4 141.3 0 0 151-222 0 0-151z" fill="#0a42d0"/><path d="M52 375l64.9 0 2.1 5 2.3 7 2.3 3 3.4 2.5 4 2.1 3 .9 4 .5 3-.2 2.2-.8 .9-1 .3-2-.8-3-2.6-6-2.2-4-2.9-4 137.1 0 0 151-222 0 0-151zM163.7 392l-.7 2-4 2.5-1.4 1.5-.2 1 .7 2 3.9 4 5 3 4 1.1 2-.3 .8-.8 .3-2-1.2-3-6.6-10-1.3-1.2-1-.1z" fill="#1a64f2"/><path d="M52 375l62.1 0 1.8 4 .3 2-.3 2-.9 .8-2 0-6-2.5-1.5 .7-.7 1-.2 1 .6 1 1.9 1 5.9 1.5 11.9 6.5 8.1 3.4 6 1.1 9 0 3 .7 10.2 7.8 4.8 3.1 6 2.6 5 1.1 2-.2 .9-.6 .4-3-.6-2-8.6-14-3.1-3.7-4-2.6-3-.1-1.9 1.4-2.1 3.4-5 2.1-1-.3-4-5.1-8.5-14.1 134.5 0 0 151-222 0 0-151z" fill="#2e80f4"/><path d="M52 375l59 0 .8 2-.8 1.7-6-1.3-3 .1-2 1.1-2.4 2.4-.7 1 .5 2 1.7 2 2.6 2 4.3 2 11 3.3 16 6 6 1.4 10 1.4 3 1 15 10.1 14 6.2 4 2.2 17 12.6 7.5 3.8 4.5 1.4 1.6-.4-.3-1-9.4-11-6.9-11-5-4.1-10-5.6-4-3.4-12.5-17.9-2.3-4-1.2-4-1.8-2 108 0-.2 1.1-4 .5-1.2 1.4 .7 2 2.4 2 2.8 1 2.3-.3 0 143.3-222 0 0-151zM66.9 450l-.1 1 1.2 2 2.2 2 3.8 2.2 19 6 3 .4 1-.6-1.4-2-2.8-2-7.8-4-13.7-5-2.3-.5-2 .4zM142 375l14.7 0 2.3 4 .3 3-1.1 2-2.2 2.4-3 2.2-1 .2-2-1.2-2-2.3-6.4-10.3z" fill="#3ca0ee"/><path d="M52 375l45.3 0-3.3 5 .1 2 2.5 5 3.6 3 4.8 2.1 27 8.8 19 4.7 4 2.2 11 7.5 18 9.1 13.2 9.6 6.8 4.3 10 4.9 7 2.1 2-.2 .6-1.1-.6-2-1.3-2-11.3-12-7.4-11.2-5-5.9-3.6-2.9-10.4-6.2-6-5.9-5.4-7.9-4.9-10-1.9-3 85.8 0 .1 2-.7 4 1.1 2 2.9 1.3 18 4.3 0 137.4-222 0 0-151zM53.8 439l-.8 1 .2 2 4 6 6 6 7.2 5 8.6 3.7 12 2.9 17.8 6.4 4.2 .6 .9-.6-.9-2-7.5-7-5.8-4-14.7-8.5-6-3-17-7-5-1.6-3 0zM148 375.7l1-.4 1 .3 1.8 1.4 .5 2-.2 3-1.1 .3-1.5-1.3-1.5-3-.2-2z" fill="#52b8ee"/><path d="M52 375l40.3 0-1.5 4 1.3 7 2.2 3 3.1 2 6.8 3 22.8 7.5 20 5.2 4 1.4 4 2.3 10 7.1 18 8.9 14 10 7 4.3 18 8.4 6 2.3 4 1 1.7-.4 .1-1-1.8-3-6.6-8-12-12-13.4-18.9-5-4-11-6.7-4-3.5-5.9-8.9-5.6-11 75.1 0 .2 4 .8 3 1.3 2 2.6 2 6.5 2.6 12 1.8 6 1.4 0 134.2-222 0 0-77.6 13.1 9.6 7.1 4 6.8 3.1 16 4.8 20.7 7.1 16.3 3.9 1 .1 .6-1-2.1-2-9.5-6.6-12.8-10.4-19.8-13-16.2-9-21.2-9.2 0-46.2 5 .9 4 .2 2-.6 .6-1.1-1.1-2-2.5-2.1-8-3.9zM250.4 460l-.1 1 2.2 3 4.5 3.2 6 1.6 3 .1 3-.7 .7-1.2-.6-1-2.4-2-3.7-2-7-2.1-5-.2z" fill="#7ed4ee"/><path d="M57 375l30.4 0-1 7 .4 2 1.5 2 3.4 3 7.3 4.7 6 2.6 22 7.6 24 6.7 13 8.7 17.8 8.7 19.2 13.6 19.6 9.4 27.4 16 5 2.3 6 1.7 14 1.3 0 53.7-222 0 0-72.9 15 8.6 20 9.1 19 6.1 23 6.6 14 5.4 3 .1 .3-1-2.1-3-4.7-4-15.5-10.9-12.3-10.1-18.6-13-21.1-13-20-8.6 0-38.1 7 .3 4-.5 2.5-1.1 .9-2-.7-2-1.7-2.2-6-4.8zM172 375l66.5 0 .2 3-2 3 2.4 3 5.9 4 4.2 2 4.8 1.5 13 1.8 6 1.3 0 69.7-5-3.1-5-2.2-5-1.4-7-1.1-4-1.5-4-2.2-4-3.2-23-21.8-4-4.8-8-12-3-3.6-5-4.4-10.5-7-3.5-3.1-6-7.9-4.7-10z" fill="#98dff0"/><path d="M62 375l19.1 0-3.3 5 .1 1 4.8 4 16.3 10.8 6 2.6 23 8.4 18 5.1 5 2 13 8 17 8.1 19 14.1 4 2.2 13.9 5.7 20.5 14 9.6 5.4 5 1.9 5 1.1 15 1 0 50.6-222 0 0-68.5 32 14.7 9 3.7 14 4.3 22 5.9 19 8.3 4 .5 1-.6 .4-1.3-.5-4-2.8-3-22.1-14.9-18-14.5-37-25.6-6-3.1-11.7-4.9-3.3-2.6 0-28.1 3-1.3 9-1.2 3-1.5 2.1-2.3 .1-2-1.4-3-2.4-3-3.2-3zM175 375l59 0-.1 1-2 1-.8 1 .6 2 4.3 5.1 6 4.3 6 2.9 6 1.9 14 1.8 5 1.2 0 63.3-9-4.2-13-3.7-5-2.3-6-4.3-18-15.3-7.6-7.7-8.9-13-6.5-7.6-4-3.7-10-7-5-4.7-3.3-5-2-7z" fill="#aae6f2"/><path d="M67 375l5.1 0-.3 1-.8 .6-1 0-3.1-1.6zM180 375l46.9 0 1.1 4 3.5 5 4.5 4.5 5 3.4 6 2.7 9 2.8 6 1.1 7.7 .5 3.3 .8 0 56.7-7-2.9-13.8-4.6-5.2-2.4-6-4-20-15.7-5-5.1-18-24.9-4-3.5-9-5.6-4.2-3.8-1-2 .2-7zM73 382.9l4 2 22 13.5 13 4.6 20 8 16 5 16 8.9 14.2 6.1 7.5 5 10.7 10 3.6 2.8 4 1.8 9 2.7 5 2.2 18 12.8 11.5 6.7 4.5 1.8 5 1.1 16 .9 0 47.2-222 0 0-64.6 20 7.9 21 9.5 18 5.5 19 4.6 19 9 3 .6 3-.2 1.7-1.3 .6-2 .6-5-.3-1-1.8-2-24.1-15-19.8-16-36.9-26.3-11.6-7.7-5.1-5-1.7-3-1.3-4-1-7 .7-4.1 1.1-1.9 1.9-1.7 7-2.3 3-1.7 4.6-4.3 1.2-4z" fill="#d0f2f7"/><path d="M190 375l32.9 0 3.8 7 4.3 5.9 4 4.1 4 2.7 6 2.5 13 3.5 15 2.5 0 49.1-5.6-2.3-13.2-4-6.2-2.9-20.3-14.1-6.7-5.3-7-7.9-6-8.8-5.9-10-3-7-7.6-8-1.4-3-1-4zM73 390.7l4-.4 3 .9 4 2.1 8 5.6 4 1.9 51 18.1 6 2.9 12 6.8 13.2 5.4 4.4 3 9.8 10 5.6 4.4 7 3.8 9 3 4 1.8 21 13.8 8 4.6 5 2 4 1 17 1.6 0 43-222 0 0-61.4 20 7.8 24 10.5 35 9.3 4.1 1.8 11.9 6.6 5 2 3 .3 3-.8 2.1-2.1 .9-5 .6-1 1.4-.8 4.4-1.2-.4-2-2.3-2-13.7-6.1-18.1-10.9-16.9-13.8-27.1-19.2-19.5-15-4.5-4-2.4-3-2.1-4-1.2-5 .2-4 .9-2 1.7-1.8 7-3.7 4.3-4.5z" fill="#daf5f8"/><path d="M200 375l19.2 0 9.8 17.5 4 5.5 3 2.2 4 1.1 13 1.6 20 4.6 0 40.9-8-3.4-11-3.4-3.7-1.6-24.3-16.1-7-5.7-5-6.1-4.5-7.1-3.2-6-2.4-7-3.7-8-.4-2 .1-5-.9-2zM76 395.4l2-.3 4 1.3 15 8.2 10 4.7 15 5 10 2.7 19.9 8 12.1 7.9 11.2 5.1 3.8 2.2 13 10.9 16 11.4 8 4.4 16.3 7.1 9.7 6.3 5 2.8 4 1.5 4 .8 18 1.7 0 38.9-222 0 0-58.1 21 7.9 26 11.3 7 2.3 19.1 4.6 6 2 8.8 5 12.1 9.3 2 1.3 3 1 6 .4 2.6-1 .4-2-.7-5 1.2-2-1.3-5 .2-1 5.6-.2 1.5-.8 .3-1-.5-2-1.4-2-3.9-3.3-5-2.8-12.7-5.9-16.5-10-15.6-13-26.9-19-21.6-18-2.4-3-1.7-3-1.1-4 .1-3 2-3 7.3-4 3.3-3zM171.5 506l-.4 1 .7 2 1.7 2 2.5 1.8 8 3.6 2 .4 2-.4 1-1.4 .1-2-.8-2-1.2-1-4.1-2.1-6-2.2-3-.3-2 .3zM193.7 510l0 1 1 1 3.6 2 3.7 1.4 3 .1 1-.5-.2-1-2.4-2-6.4-2.4-3 .2zM149.2 516l1.6 2 1.8 0 .1-1-.7-1.3-2-.6z" fill="#f0fafc"/><path d="M208 375l6.3 0 1 1 .9 2-.5 4 .6 2 15.7 20.9 2.2 2.1 3.8 1 10-1 6 .2 19 4.6 0 32.7-14-7.2-23.1-13.3-9.9-4.7-4-2.6-3-2.8-6-7.9-4.4-9-1-5-.2-4 .6-2 3.1-4-.5-2-3.2-5zM79 401.8l4-.3 7 2.5 22.3 13 26.7 7.6 7 2.9 18 11.3 12 5.7 8 4.9 7.5 5.6 12.5 11.1 10 7.5 6 3.5 19 7.6 14 6.4 5 .4 10-.7 5 .6 0 25-4-1.7-7-.4-10-1.4-2.7 1.1-5.3 4.3-2 .5-5-2.2-14-8.6-6.6-3-15.4-2.1-12-.7-4-.9-3.1-1.3-2.9-2.2-5.8-6.8-4.2-3.4-9-5.3-9.6-4.3-18.2-11-11.8-10-28.3-20-8.1-7.4-11.7-9.6-2.8-3-1.8-3-.9-3 .2-2.7 2-2.2 9.6-4.1zM51.2 472l10.8 3.3 12.9 4.7 37.1 16.7 11 2.4 5.7 1.9 4.3 3 1.2 3-.3 2-.6 1-1.3 .6-7-.7-9 1-12-.6-10 .5-11-.4-4.7 .6-5.3 1.7-16-3-6-1.9 0-35.8zM52 519.6l6 1.1 9 0 10 1.9 2.9-.6 2.1-1.4 2-.5 13 2.5 3-.4 4-1.7 2-.2 12 3 12 .6 8.7 2.1-87.7 0 0-6.7zM200 519l12 4.3 10 1.9 5 .3 4-.5 12-3.9 11 3.7 4.8 1.2-114.3 0 5.5-1.7 9 .9 6-1.2 5-.3 9 .3 12 1.7 5 .2 3-.9 .8-1-.6-4zM269 524.6l4-.6 0 2-7.2 0 2.5-1z" fill="#fde8e6"/><path d="M214 393.9l2 0 2 1 4 3.5 7 10.1 4.8 5.5-.2 1-4.6-.6-3.7-1.4-3.3-2-3.4-3-3.6-4.8-2.7-5.2-.2-2 .9-1.6 .8-.4zM80 407.9l5-.5 5 1.2 22 11.5 28 8.7 10 4.3 13 8 16 8.4 6.7 4.5 17.8 16 10.5 11 2.4 2 3.6 1.6 11 1.9 11 3.5 9.6 4 9.5 5 2.4 2 .2 1-1.4 2-2.3 .9-3 .3-22-.8-6-1.3-18-5.6-10-.4-13-1.5-6-1.6-2.8-2-9.2-8.7-4.1-3.3-1.9-1-6-1.7-9-3.5-9.2-4.8-11.8-9-20.3-14-10.7-8-9-9-11.2-9-3.7-4-1.2-3 .1-2 2-1.4 5.6-1.6zM249 411.8l5-.3 5 .5 14 3.9 0 24.7-11-6-10.5-6.6-7-5-7-6-.5-1.1 11.1-3.9zM52 476.9l16 4.1 15.6 6 8.7 4 9.2 5 8.3 5 1.8 2-1.6 1-3 .3-23 1.2-13-.4-9 .6-7-.7-4-1.4 0-27zM270 498.9l3-.1 0 4.9-3.6-2.7-.3-1 .7-1z" fill="#fddad8"/><path d="M84 414l4-.4 5 1 20 8.7 18 5.3 12.1 4.4 8.9 4 11 6.6 14 7.5 9.7 6.9 12.4 12 15.8 19 .7 1-.6 .7-4.7-.7-10.3-3.1-8-1-4-1.1-20-8.8-15-3.9-10-4.6-13.7-9.5-17.2-11-10.2-8-4.7-5-5.3-7-9.4-9-.8-2 .5-1 1.7-1zM252 416.9l3-.7 5 .1 6 1.2 7 2.4 0 16.7-11.7-6.6-6.8-5-2.6-3-.9-2 .1-2 .8-1zM52 482.4l13 2.1 12.9 4.5 10.3 5 2.7 2 1.2 2-1.3 1-12.8 2.1-22-2-5-1.4 0-15.5z" fill="#fccfcc"/><path d="M96 422l2-.4 4 .7 33 10.6 14 6.1 24.8 13 7.8 5 6.7 6 8.3 10 2.5 4 .5 2-1.6 .5-3-.4-30-8-12-2-7-3-28.7-18.1-9.4-7-4.2-4-3.8-5-3.8-7-.6-2 .4-1zM264 422.6l4 .3 5 1.8 0 7.1-4-2-3.9-2.8-1.8-2-.5-1 .3-1zM68 492.5l2 .3 1.6 1.2-1.6 .2-2.4-1.2z" fill="#fcaaa2"/><path d="M107 428l5 .9 20 6.1 19 9.5 19.1 8.5 7.9 4.8 4.8 4.2 2.1 3 .6 2-.5 1.3-2 .6-8 .1-5-.5-17-2.9-7-2.8-25.9-15.8-9.1-6.9-4-4.1-2.5-4-.5-2 .3-1 2.1-1z" fill="#fb8e84"/><path d="M113 434.3l4.2 .7 7 3 7.8 4.8 9.8 5.2 9.2 6 3-1.5 3-.1 4 .7 4.7 1.9 5.9 4 .9 2-.7 1-2.8 .9-4 0-7-1.7-6-.5-4.6-1.7-15.2-8-6.1-4-9.7-7-3.1-3-1.2-2z" fill="#f47a76"/></g><g clip-path="url(#cp21)"><rect x="320.3" y="376.8" width="218.7" height="147.5" fill="#0a1a80"/><path d="M320 375l173.7 0-.7 1 .1 1 1.4 4 1.6 2 1.9 1.1 1 0 .7-1.1-.1-1-1-4-1.6-2-2-1 45 0 0 151-221 0 0-151zM363.9 379l.5 0-.4-.2zM364.7 380l.5 0-.2-.6z" fill="#0a1e8c"/><path d="M320 375l171.6 0 1.1 4 1.6 3 2.7 2.4 2 .7 1-.2 .5-.9-.2-4-1.3-3-2.1-2 43.1 0 0 151-221 0 0-151zM361.7 377l.6 2 1.7 2 2 .8 1-.6-.6-2.2-1.4-2-2-1-1 .3zM397.8 390l1.2 2.1 1 .4 .4-.5-.4-2.1-1-.5-1 .2z" fill="#0a42d0"/><path d="M320 375l38.2 0 1.7 4 2.1 3 2 1.6 3 .9 2-.8 .5-2.7-1.2-3-2.8-3 123.3 0 3 6 2.2 3 4 3 3 .8 1-.3 .9-1.5 .2-4-1.3-4-2.4-3 40.6 0 0 151-221 0 0-151zM396.3 387l-1.3 1-.2 1 1.2 4.1 3 3.4 2 1.1 2 .2 1.1-.8 .3-2-2.3-5-2.1-2.4-3-.8z" fill="#1a64f2"/><path d="M320 375l36.7 0 3.3 6.4 2 2.7 2 1.5 3 .7 2-.4 1.3-.9 .5-1 .2-2-1-3-3.2-4 120.6 0 3.9 7 2.7 3.5 4 3.1 2 1 2 .4 1.9-1 .5-1 .2-5-1.1-4-2.7-4 39.2 0 0 151-221 0 0-151zM459.7 376l-.3 1 .6 2 2 2.5 3 1.9 1 .1 1.5-.5 0-2-2-3-2.8-2-2.7-.3zM397 381l-.7 3-2.3 2.4-.6 1.6 0 2 1 3 3.6 4.9 3 2.2 3 .3 2.1-1.4 .4-2-.5-2-4.9-12-2.1-2.2-1-.3-1 .5zM430.5 413l1.5 1.8 1.6 .2 .3-1-.8-1-2.1-.6z" fill="#2e80f4"/><path d="M320 375l35.4 0 4 8 3.1 5 .4 2 2.1 1.9 .6-.9-.3-1 .7-.9 4-1.5 1-.7 1.2-1.9 .1-2-.8-3-3.5-5 25.9 0-.4 2 .2 6-1.7 5 .3 3 1.7 3.9 4 6.3 2 1.9 3 .9 2-.4 2-1.3 1.4-2.3 .1-2-5.5-16.1-2.9-4.9-2.9-2 59.6 0 1.2 3.3 3 4 3 2.4 3 .9 2.1-.6 .7-1 0-2-2.4-4-3.5-3 22.4 0 5.2 9 5.3 6 .2 1-1.1 1 .5 2 2.6 2.2 4 1.3 1.6-.5 .3-1-.1-2 1.3-4 0-5-1-5-3.1-5 38 0 0 151-221 0 0-151zM535.9 395l1.1 0-1-.2zM427.6 411l-.2 1 .6 2 3 3.6 3 1.4 2-.7 .8-2.3-.5-2-1.3-1.7-3-1.8-3-.3-1 .4z" fill="#3ca0ee"/><path d="M320 375l34.3 0 2.1 4 4.1 11 3.5 4 3 1.4 1.4-.4 1.1-4 3-3 1.2-3-.1-2-1-3-3.4-5 21.1 0 1.5 6-1.2 8 1.4 5 3.1 6 2.3 3 3.6 2.6 4 1 2-.4 2-1.4 1.5-2.8 .1-3-5.6-17-2.1-4-2.6-3 54.6 0 2.8 5 3.3 4.1 3 2.5 2 .8 2 .2 2-.5 1-.9 .6-1.2 .1-2-2-4-3.8-4 19.3 0 7.6 13 .9 4 1.3 2 5 3.7 5 1.6 2-.3 1-1 .2-7-1.2-9-1.2-3-2.5-4 36.7 0 0 17.4-6-1.4-2 .2-.6 .8 .6 2 2 2.6 6 4.8 0 124.6-221 0 0-151zM429 402l-.3 1 .6 4-3.7 2-.8 2 .4 2 2.4 4 3.4 3.8 3 1.9 2 .2 2-1.5 .9-3.4-.9-4-2-4 .2-5-2.2-2.3-2-.9-2-.2z" fill="#52b8ee"/><path d="M320 375l33.2 0 1.7 3 2.3 9 1.6 3 2.4 3 3.4 3 1.8 1 2.6 .4 1.4-.4 .8-1 .8-3.7 2.2-3.3 1-3 0-2-1-3-3.8-6 17.8 0 1.9 6-.9 7 .3 3 3.2 8 2.8 4 3.5 3.3 4 2.1 3 .6 3-.3 2.9-1.7 1.4-5-6.6-20-2.1-4-2.4-3 51.3 0 4.5 7.4 4 4.9 3 2.1 3 .6 2-.4 2-1.3 1.4-2.3 .2-2-1.6-4-4.4-5 16.5 0 2 3 3.9 8 1.6 5 2.2 3 3.2 2.7 4 2.4 4 1.6 3 .4 2.5-1.1 .7-2-.2-2-2.8-14-3.6-7 35.4 0 0 14.5-6-.4-3 .3-1.1 .6-.5 2 1.2 3 4.4 7 0 1 3 1.2 2 1.3 0 120.5-221 0 0-151zM330.5 377l.1 2 2.4 2.7 3 1.2 1.7-.9-.3-2-1.6-2-2.8-1.7-2 .1zM426.4 401l-1.1 4-2.8 3-.4 3 .5 2 4.4 6.5 4 4.3 6 4.2 2 .6 .8-.6 1.1-8-.6-4-1.8-5-.5-5-1.1-2-2.9-2.3-4-1.5-3 .3z" fill="#7ed4ee"/><path d="M320 375l7.3 0 .7 3 2.8 4 3.2 2.2 3 .8 2-.2 1.2-.8 .6-1 0-2-2-3-3.6-3 16.8 0 1.7 3 1.2 8 2.4 4 3.6 4 3.8 3 3.3 1.5 3 .4 1.9-.9 .5-1 .6-3 2.4-5 .6-3-1.2-4-4.2-7 14.7 0 2.1 5-.8 9 .6 3 3.3 8 5.5 6.9 3 2.6 4 1.7 4 .4 7-.9 3 1 3 3.1 7 8.7 17 17.2 3 2.2 3 1.4 3 .9 4 .3 3-.2 2-.6 .8-1.7-.4-1-2.8-3-10.6-5.7-3-2.2-2-2.1-1.3-3-1.5-8-2-7-.6-4-1.5-3-4.1-3.5-3-1.3-3-.6-3.1 .4-1.2 1-1.7 2.7-1 .5-2 0-1-.4-2-2-2-3.1-5.7-15.7-2.1-4-2.2-3 48.1 0 8.3 13 3.6 3 4 1.4 3-.5 2-1.3 1.8-2.6 .8-3-1.4-4-4.8-6 13.6 0 2.5 4 3.9 11 3.1 4 3.7 3 5.8 3.6 4 1.7 4 .6 2-.4 1.8-1.5 .3-3-3-9-1.6-7-3.5-7 34 0 0 11.4-7 .5-3 .7-2 1.4-.5 2 1.7 6 .2 4 1 2 3.4 3 6.2 3.7 0 116.3-221 0 0-151zM328.5 420l-1.5 1.7-.9 3.3 .2 3 1.5 3 2.4 3 3.8 2.8 3 .8 2-.6 1.4-2 .3-2-1.7-5-3-4.7-2-2.2-2-1.2-3-.1zM379 467l1 .3 0-.4-1 .1z" fill="#98dff0"/><path d="M320 375l4.9 0 3 6 3.1 3.7 3 1.8 4 .6 2-.3 2-1 1.9-1.8 .6-2-1.8-3-4.3-4 12.2 0 1.3 2-.3 4 .5 4 2 3 5.6 6 3.3 2.7 5 2.6 4 1.1 2-.3 1.2-1.1 4.1-12-1.1-3-5.2-9 11.6 0 1.7 3 .5 2-.3 5-1.2 4 2.3 7 4.7 8 3.7 5 2.8 3 2.2 1.4 3 .9 4 .3 7-.4 2.6 .8 2.4 2.2 19 21.6 8 7.3 4 2.4 5 1.8 12 1.3 2.1-.6 .7-1 .1-2-.9-3.3-3-5.8-2-2.9-2-1.5-10-2.8-3-1.4-2-1.6-3.7-8.7-2.4-8-1-5-2.4-4-4.5-4.2-4-1.8-6-.1-5 1.8-1-.1-1-1-3.8-6.6-3.2-9-4.2-7 45.1 0 6.1 11 3 4.1 4 3.4 2 1 3 .5 3-.6 2.1-1.4 1.6-2 2.2-5-.1-2-1-2-5.5-7 10.5 0 2.2 3.3 2.3 9.7 3.8 5 4.9 4.1 8 5.2 5 2 4 .6 3-.5 2-1 1.3-1.4 .2-1-.9-3-4.6-8-1.7-7-3.8-8 32.5 0 0 7.2-10 3-2 1-1.8 1.8-.7 2 .8 6-1.2 4 .6 2 2.8 3 11.5 7.6 0 113.4-221 0 0-151zM326 415l-2 .8-1.2 1.2-1 4-1.5 4 .4 3 2.5 5 2.7 3 4.4 3 9.7 4.9 8 3.3 .6-.2-.2-1-1.6-4-1.6-7-2.7-6-3.5-6-3-3.7-4-3.2-3-1.1-3 0zM351.6 450l7.3 7 12 10 5.5 3 7.6 3 3 .7 2-.4-.7-2.3-2.6-3-7.7-5.8-14-8.3-12-4.2zM478.7 465l0 1 .8 1 2.5 1.4 .6-.4-.6-1.2-3-2z" fill="#aae6f2"/><path d="M320 375l3 0 4.2 10 1 4 .5 1 1.3 .6 4 .2 7-1.9 5-2.6 3-.1 4 2.6 6.6 6.2 3.4 2.6 7 3.5 4 .9 2-.3 1.2-.7 1.8-4.9 3-2 1 0 4 5.3 6.1 9.6 4.9 5 3 1.8 4 1.6 9 .7 4 1.5 5 4.4 16 18.7 6.5 6.3 4.5 3 14 7 6.6 7 5.2 4 6.2 3.1 5 1.5 3 0 1.5-.6 .8-1-.1-2-2-3-10.6-12-10.8-20-2.8-2.9-3-1.9-8-2.3-3-1.3-3-2.7-2-2.6-1.2-2.3-2.2-7-1.9-7-5.4-8-.4-2 .6-2-.1-2-2.4-4.2-2-2.2-2-.1-2 1.1-1 1.4 .1 5-.9 1-4.2 .8-3-.6-2-1.2-2-2.4-2.8-7.6-4.4-8 41.8 0 2.5 4 2.4 6 2.3 4 4.2 5.2 4 3.2 4 .9 4-1 3.9-3.3 2.6-5 1.5-.8 1 0 3 1.7 9 7.8 11 7.1 7 2.3 9-.3 4 .7 5 2.3 8.3 5.2 1.7 1.2 0 109.8-221 0 0-87.8 2 1.8 3 1.8 8 2.5 3.6 1.7 15.2 12 15.6 11 6.8 3 17.2 6 8.6 2.4 1.7-.4-1.3-2-12.3-11-14-11-3.7-4-3.6-5-3-2-7.8-3.2-3-2.6-4-5.2-14.2-23-2.8-1.7-3-.3-4 1-5 2.2 0-37.2zM428.5 376l1.5 3.1 1 .8 1-.6 0-2.3-1.3-1-1.7-.4zM322.5 391l.2 1 1.1 1 2.2 .5 .8-.5 .3-1-.8-1-3.3-.2zM343 375l5.1 0 .5 1-.3 1-1.3 .5-2-.7-2.6-1.8zM375 375l7.7 0 .8 1 1.4 3 .1 4-.7 2-1.3 .6-2-.8-2-2.2-4.2-7.6zM474 375l6.2 0 .8 .8 .9 1.2 .3 2-.2 3.1-1 .5-3-2.6-4.4-5zM510 375l29.8 0-14.2 10-2.3 4 0 5-.7 1-1.6 .4-3-1.5-2.6-2.9-2.1-7-4-9z" fill="#d0f2f7"/><path d="M320 375l1 0 1 2 .2 5-1.2 1.7-2 .7 0-9.4zM379 375l2 .9 .8 1.1 .1 2-.9 2.5-2.4-4.5-.4-2zM411 375l10.5 0 1.9 3 1 3-.2 3-2.2 6.1-.6 .9-1.4 .5-1.6-.5-.8-1-1-3-6.2-12zM435 375l13.2 0 2 3 2.4 8 2.3 4 6.1 7.6 5 3.6 4 .7 2-.3 3-1.4 2-1.5 2.2-2.7 2.8-4.7 1 0 3 1.7 12 9.5 6 4 8 3.2 10 1.5 5 1.5 6.2 3.3 6.8 5 0 105-221 0 0-83.1 17 11.2 15 8.4 13.6 8.5 8.4 4.2 36 11.7 4 .6 3-.1 2-.9 .7-1.5-.2-3-2.4-2-7.1-1.3-4-1.2-6-3.2-4-2.7-17.9-14.6-2.8-3-4.7-7-3.6-3.6-4-2.7-7-3.6-4-3.4-6.5-9.7-5.4-11-4.6-7-.9-3 .8-4 1.7-3 5-4 5.9-3.4 2-.2 3 1.2 9 7.7 7 4.3 4 1.8 4 .7 4-.8 1.9-1.3 .3-2 .8-.3 1 .8 3.6 5.5 4.1 5 6.3 5.5 8 4.1 4 .9 5 .5 3 1.2 3 2.8 18.9 22 3.8 3 12.2 8 11.1 10.7 5 3.5 5 2.2 14 4.3 5-.1 3-1.3 1.5-1.3 .2-2-1-2-9.5-9-4.3-5-9.3-14-5.6-10.5-4-5.2-3.2-2.3-6.8-.7-4-1.2-3-2-1.8-2.1-3.6-9-1.1-5-4.1-8 .1-5-1.2-7 0-6-1.5-3-2.7-3zM512 375l16.2 0-6.2 10.4-3 2.3-1-.3-3-4-3.3-8.4zM319.2 398l2.6 4-.1 1-2.7 1.4 0-6.6z" fill="#daf5f8"/><path d="M438 375l8.4 0 .6 .7 1.2 2.3-.4 7 13.2 16.8 4 3.6 4 1 5-.9 5.7-3.5 3.3-3.8 2-.9 2 .3 4 2.6 7 6.7 3 2.1 7 3.2 12 3.4 5.9 2.4 6.1 4 8 7.1 0 50.7-3-1-9-1.5-9.7-2.3-5.3 .4-3-.8-9-4.8-7.5-5.8-2.7-3-11.5-16-6.3-13-8-11.8-1-.5-2 1.6-3 .9-5-.3-3-1.9-3-4.2-1.6-2.8-1-5-3.5-8 .6-6-.2-6 2.4-4-.3-1-6.7-8zM417 376.7l1 1.2 0 .7-1 .2-.5-1.8zM349 390.8l2 0 2 1.1 11.6 10.1 2.4 3 0 2.2 1 .6 3-.8 10 0 2 .4 2.5 1.6 7.5 7 6 4.4 5 3.2 13 6.7 8 6.9 11.8 12.8 12.4 8 6.8 7.2 9 10.6 4 3.3 4 2.4 5 2.1 4 1.2 16 2 4-.8 8-3.1 6-.4 16 2.6 8 2.8 0 38.1-221 0 0-79.2 3.1 2.2 6.5 6 5.7 4 17.7 7.9 20 11.6 6 2.9 5 1.7 17 3.8 13 6.7 6 1.7 2 0 1-.5 1-1.4 1.3-3.4 .1-3-.6-3-1.1-2-1.8-2-5.9-3.6-3-1-9-1.2-3-1.3-4-2.6-16.5-13.3-2.5-3-5.1-8-5.9-7-11-6-3-2.5-3-3.3-2-3.2-3.7-9-3.5-7-1.1-5 .6-3 1.3-2 3.7-4 4.3-3zM420.7 500l-2.9 2-.6 1 .8 1.3 1 .3 4-.9 7 1.2 1-.2 .1-.7-1.3-1-3.8-2.2-3-1-2 .1z" fill="#f0fafc"/><path d="M448 391.7l1 .3 1 1 10 12.5 5 5.2 3 .7 4-.3 6-1.6 5-2.7 3-.3 2 .4 3 1.7 7 6.4 3 2 5 2.3 12 3.7 5 2.1 7 4.3 7.5 5.6 2.5 2.4 0 35.9-17-3.9-18-1.6-5-1.8-2.9-2-5.8-8-9.3-11-5-12-7-12.6-4-6-2-1.2-3 .7-2 .7-2.4 2.4-1.6 .7-3-.8-3.2-2.9-.5-1-.5-4-2.5-5-.7-3 .5-3 2.2-4 .5-2zM351 395l3 1 4.2 4 2.5 7 3.3 5.4 2 2.3 3 .7 8-.7 4 .1 3 .7 3 1.5 13.1 10 12.9 6.7 8 5.5 5 4.7 6.2 7.1 12.8 9.3 7.9 6.7 3.6 4 5.8 8 3.7 3.4 6.1 3.6 12.9 6 7 2.4 6 .6 2.1 1 .9 1.1-.4 .9-1.6 1.1-1 2.6 .5 5.3-.5 3 .1 1 .7 1 1.4 1 11.8 4.2 6 1.5 5 .6 5-.6 8.7-3.7 1-1-.1-1-1.8-2-19.2-9-2.9-2-1.6-2 .4-2 1.9-3 1.6-1.5 2-.6 6.2 2.1 6.8 4 3.8 3 5.2 5.6 0 20.4-221 0 0-11.9 8 1.5 7-.7 11 1.8 3-.3 5-2 2-.2 12 2.4 3.1-.6 2.2-1 .9-1 0-1-2.1-2-5.1-2.1-10 .6-9-2-14.2-5.5-10.8-6.6-.5 .6 1.2 4-.2 2-1.5 .1-2-1.1 0-48.8 3.3 2.8 13.7 9.1 21 11.3 9.4 5.6 16.1 8 5.5 1.9 8.5 2.1 3.4 2 .8 2 .1 5-.4 2-1.4 1.5-4 .1-10-2.5-3.1-.1-.8 2 .5 5 1.4 1.8 2.1 1.2 4.9 1.4 5 .6 4-.2 5-1.6 3-.4 11 1.9 4 .3 4-.4 6-1.7 8 1.1 4 0 8-2.3 11.4-.7-1.1-1-20.3-7-8-4.5-1.7-1.5-1.2-2-3.8-12-3.3-4-5-3.6-7-3.4-4-1-7 .1-2.2-1.1-15.5-12-2-2-15.7-25-2.6-1.2-4 .3-2-.4-2-.7-2.7-2-8.5-18-1.1-4 .7-3 3.8-5 1.8-1.5 1.7-.5z" fill="#fde8e6"/><path d="M450 401.5l2 .8 2.6 2.7 1 2 0 1-.6 1.1-1 .4-2-.4-3-2.9-.9-2.2 1-2zM348 404.9l2-.7 2 .2 2 1.3 2 2.1 2 3.2 1.1 3 .1 2-.9 1-1.3 .4-2-.4-4-3.4-3.6-5.6-.2-2 .7-1zM481 415l3 .4 4 1.9 8 7.5 3 2.1 3 .9 12 1.9 10 3.8 6 3.6 10 7.6 0 21.6-3 .5-6-.6-13-3.3-13-2.3-6-3.1-7-5.8-3.7-3.7-2.3-3-4.2-10-5.8-9.2-2.2-4.8-.4-2 .7-2 1.9-1.1 5-.9zM375 419.7l2-.6 3 0 6 1.9 13 8.5 13 7 6 3.9 5 4.2 10 9.9 17.4 13.5 3.2 4 3.6 8 2.8 3.4 6 4.2 14 6.2 3.6 2.2 2.5 3 0 1-1.1 .6-7-.4-8 .7-4-.2-8-1.8-17-5-3.3-1.9-1.8-2-1-5-1.8-3-3.3-3-5.5-4-10.3-6.1-11.4-4.9-9.6-3.3-5-2.9-4-4-6.6-8.8-3.1-6-3.8-10-.8-3 .2-3 1.1-1.3 3.2-1.7zM319.9 456l7.3 5 13.8 10.6 35.2 19.4 4.7 3 .6 1-5.5 2.1-5 4.7-4 1-15-2.8-4-1.4-5-2.8-3.6-2.8-5.3-6-3.7-3-6.4-4.2-5-1.9 0-22.5zM320 523.9l9 .5 14-.7 11 .5 11-.1 10 .9 8-.9 26 .5 32-.9 11 .6 48 .1 9.7 1.6-190.7 0 0-2.2z" fill="#fddad8"/><path d="M480 420.8l2 .2 2.6 1 4.4 3.7 2.2 3.3 1.4 3 .1 2-1 2 3.2 2 2.1 .5 1-.4 .5-1.1 1.5-1 6-1.6 4-.4 4 .4 5 1.4 6 2.5 11.8 7.7 3.2 2.6 0 9.9-2.6 .5-4.4 2.1-3 .3-4-.5-17-4.8-7-2.7-5.5-3.4-3.5-3.3-2.3-3.7-.7-3 .5-4-6.5-4.9-5.2-6.1-.7-2 0-1 1.1-1zM379 423.8l3-.8 4 1.5 13 7.9 14 7.4 7 4.8 14 13.4 10.8 8 3.2 3 1.1 2 .4 3-2.5 5-1 .9-2 .5-2-.1-6-2-20-11.6-23-10.8-6-3.9-5.6-6-2.4-4.5-1.7-4.5-1.3-6-.1-3 .8-2 2.1-2zM319.2 458l4.6 3 3.5 3 2.4 3 1 3-.7 1.2-2 .1-9-3 0-10.4zM350 484.8l2-.4 2.5 .6 7.7 4 2.3 2 1.2 2 .2 1-.9 1-2 .1-3-.7-5-2.4-3.8-4-1.3-2-.1-1z" fill="#fccfcc"/><path d="M384 429.9l3 .2 3 1.2 8 4.1 13 5.7 8 5 5.5 4.9 7.5 7.8 8 6.2 2.9 3 .9 2-.4 2-1.4 1.4-2 .9-4-.2-5-1.7-15-8.5-21-10.5-5.3-3.4-4.7-4.9-3-6.1-.3-7 .3-1.1 1.6-.9zM512 438l6 .9 6 2.3 8 4.8 4.7 4 .9 2-.6 1.3-6 3-3 .8-5-.6-7-2.3-6.7-3.2-4.1-3-.7-1-.1-2 1.6-4.6 2-1.6 4-.8zM320 461.9l1.6 1.1-.6 .7-2-.6 0-1.6z" fill="#fcaaa2"/><path d="M390 438.8l3 0 7 2 7 1.2 5 1.9 5 2.9 5.3 4.2 7.6 8 6.7 6 1.6 3-.3 1-.9 .6-3 .3-5-1.6-32.3-17.3-4-3-3.3-4-.9-3 1.1-2zM513 441.8l3 0 4 1 4.4 2.2 2.7 2 1.6 2 .2 1-.9 2-2 1-3 .1-3-.7-6.2-3.4-2-2-.9-2 .2-2 1.3-1z" fill="#fb8e84"/><path d="M400 445.8l5-.5 4 .2 4 1.2 4 2.1 4 3.2 10.1 11 .7 1-.8 1-5.8-2-20.7-11-3.1-2-2.1-2-.4-1 .6-1z" fill="#f47a76"/></g><g clip-path="url(#cp30)"><rect x="52.9" y="557.2" width="218.7" height="147.5" fill="#0a1a80"/><path d="M52 556l221 0 0 150-222 0 0-150zM127.5 562l-.2 1 1 2 3.2 3 3.9 2 2.8 0 .3-1-.4-1-3.1-3.2-4-2.7-3-.5z" fill="#0a1e8c"/><path d="M52 556l221 0 0 150-222 0 0-150zM124.6 559l-.3 2 .7 2 2.4 3 2.3 2 6.3 3.3 2 .3 2-.6-.1-2-1.3-2-5.6-5.2-5-3.4-2-.2-1 .4zM265.2 559l1.3 1 1.6 0-.6-1-1.5-.8zM101.9 563l1.1 1.1 1.3-.1-.6-1-1.7-.1z" fill="#0a42d0"/><path d="M52 556l64.3 0 3.2 7 4 4 5.5 3.7 5 2.6 5 1.8 3 .3 1.5-.4 1-1-.3-3-1.6-3-4.5-6-1.9-4-1.7-2 127.4 0 .3 4-.7 3 1.5 1.7 3 1 2.3-.7 .7-3 1.5-1 .1-1-1.5-2-2.8-2 6.7 0 0 150-222 0 0-150zM97.7 559l-2 4-2.8 1-.8 1 .7 1 3.3 2 3.9 1.3 3 0 6-3.6 2.8-.7-.2-1-.9-1-4.7-3.2-5-1.6-3 .5z" fill="#1a64f2"/><path d="M52 556l44.1 0-1.1 1.3-1 3.8-1 .5-5 .3-1.5 1.1 .1 1 1.7 2 5.1 3 5.9 2 4.7 .4 2.9-1.4 3.6-3 6.5-.3 3 1 15 7.9 5 1.9 4 .7 2.2-.2 1.4-1 .4-1-.3-2-2.4-5-6.2-10-2.3-3 123.4 0 .5 3-1.1 3 .5 2 2.9 2 5 1.3 1.6-.3 1-1 .3-3 1.4-1 .3-1-.9-2-3.1-3 4.4 0 0 150-222 0 0-150zM163.3 586l-1.3 .9-.5 1.1-.3 3 1.2 3 2.6 2.6 3 1.7 3 .8 2.1-.1 4.9-1.7 2-.1 4 3.1 15 14.5 3 2 3 .8 .8-.6 0-1-4.2-11-3.4-5-4.2-4-7-4.3-13.3-4.7-5.7-1.4-4 .2zM104 556l7.4 0 .2 2-.6 .5-7.8-2.5z" fill="#2e80f4"/><path d="M52 556l39.9 0 0 3-.9 .8-7-.5-6 .8-5.2-.1 2.5 2 16.1 8 6.6 2.2 6 .8 3.6-1 4.4-3.7 3 .3 6 1.9 13 6.9 6 2.6 8 2.2 6 .4 1 .9-.1 2.5 2.1 4 4 5.5 4 3.7 5 2.7 9 2 4 1.8 6 4.8 9.5 9.5 4.5 3.2 7 2.6 7 1.1 2-.2 .8-.7-.4-1-9.5-11-8.9-14.1-8-8.8-6-4.1-15-6.5-4-.4-10 .8-3-.7-3-3.8-10.3-16.4-3.1-4 120.3 0 .4 3-1.2 3 .9 2 2 1.8 3 1.6 4 1.1 3-.1 1.2-.4 .8-1.1 0 139.1-222 0 0-150zM272 556l1 0 0 1.9-1.8-1.9z" fill="#3ca0ee"/><path d="M52 556l16.3 0-.8 1 .8 2 1.9 2 3.8 2.6 11 5.7 12 4.3 5 .8 4-.1 3.6-1.3 4.4-2.5 2 .1 4 1.4 15 8.6 12 5 4 2.2 4 3.4 5.2 5.8 4.8 4.3 5 2.8 9 3 4 2.1 4.7 3.8 9.3 9 6 4.4 5 2.1 14 4 12 4.1 5 2.7 5.3 4.7 4.2 3 4.1 2 2.4 .6 2.2-.6 .9-2-.3-1-1.8-2-13-7.7-18-12.1-6-4.4-4-3.6-5.3-6.2-12.6-19-4.1-4-12.5-8-6.5-4.7-3-1.6-3 .1-3.7 1.2-4.3 2.2-2 .2-2-.5-2-1.9-5-6.2-8.6-11.8 117.3 0 .5 2-1.5 3 .1 1 3.2 4 3 2 3 1.1 4 .7 3 0 0 136.2-222 0 0-150zM236.6 557l-.2 1 .4 1 2.2 2.3 3 1.4 1 .1 1-.5-.4-1.3-2.9-3-1.7-1-2-.2zM72 636l.7 1 2.6 2 12.7 6 9 3.3 3 .6 2-.3 .5-.6-.2-1-2.3-3-3.9-3-5.6-3-7.5-2.3-10-.1zM81 556l6.9 0-1.9 .6-5.7-.6z" fill="#52b8ee"/><path d="M52 556l11.5 0 1.3 2 3 3 8.2 5.6 9 4.6 10 3.5 5 1 5 .3 11-2.8 5 1.4 15 9.4 10 4 5 2.7 15 13.3 4 2.2 9 3.5 4 2.4 15 13.6 5 3.6 4 1.8 11 3.1 6 2.3 6.9 3.5 15.1 9.4 6.6 2.6 5.4 .8 2-.3 5-2.1 4-.6 .7-.8-.5-1-2.5-2-15.7-8.5-13-10-13-6.4-7-4.8-4.4-4.3-4-5-5.9-9-4.3-8-15.4-13.7-8.1-6.3-3.7-2-3.2-1-4.4 0-2.3 3-2.3 1.2-2 .1-3-.9-5-4.3-7.8-10.1 88.8 0 3.2 5 4.8 3.8 4 1.4 9 1.1 1.4-.3-.7-1-11.3-10 15.1 0 .4 2-1.7 2-.1 1 3.9 5.5 5 3 9 1.8 0 134.7-222 0 0-76.5 12.9 9.5 9.1 5.2 34.5 10.8 4.5 .7 1.8-.7 .5-1-.6-2-3.8-5-6.7-5-19.2-10-12-4.3-10.1-7.7-5.5-3-5.4-2.1 0-58.9z" fill="#7ed4ee"/><path d="M52 556l8.4 0 4.7 5 7.9 5.5 10 5.6 9 3.6 6 1.5 6 .5 4-.3 5-1.5 3-.1 3 .5 3 1.3 13 8.2 12 5 5 2.8 4 3.1 10 9.2 4 2.3 9 3.9 3.1 1.9 19.9 17.7 5 2.3 10 2.4 6 2.3 5.6 3.3 10.4 7.3 4 2.1 7.3 2.6 6.7 1.4 5-.3 5-1.7 6 .1 0 52.5-222 0 0-71.7 16 10.2 5 2.5 6 2.2 13 3.5 16 5.2 7 1.6 12 .5 8 .9 1-.1 .9-.8-1.7-2-10.2-5.6-12-8.4-29-15.5-14-10.4-6.2-3.1-11.8-4.8 0-54.2zM145 556l82.8 0 2.6 4 3.5 4 3.1 2.4 3 1.6 4 .8 15 .6 7 2 7 1.3 0 73.3-4-2.5-10-3.9-5-2.6-5.1-4-9-9-13.9-4.9-4-2.1-4-2.9-4-3.9-4-5.1-9-15.7-13-14.3-9-7.9-6-3.3-3-.9-3-.2-4 1.4-4 3.4-3 .3-2-.9-3-2.6-6.8-8.4zM245 556l10.2 0 .2 1-2.4 2-.6 1 .1 1 1.6 2-.1 .5-9.7-7.5z" fill="#98dff0"/><path d="M52 556l5.2 0 4.8 5 5.3 4 12.7 7.4 9 4.3 6 1.9 6 .9 7-.2 7-1.2 3 .5 5 2.1 13 8.2 14 5.5 6 4 7 7.2 3 2.4 13 6.7 7 4.7 4.2 3.6 10.8 11 6 2.9 11 2.4 4 1.6 4.7 3.1 10.2 8 3.4 2 7.7 2.3 10 1.7 5-.1 7-2 3 .3 0 49.8-222 0 0-67.9 14 8.3 9 4.3 32 9.6 10 2.5 14 1.7 13 2.9 4-.2 .8-1.2-1.3-2-2.2-2-8.3-6-9-4.4-16.3-10.6-23.7-12.2-5.5-3.8-9.5-7.8-5-3.3-16-7.4 0-50.5zM147 556l18.5 0-3.5 3.2-3 4.6-2 .9-2-.2-3-1.8-2.6-2.7-2.9-4zM179 556l46 0 4 6 3 3.4 4 3 4 1.9 5 .9 10-.5 18 3.7 0 68.5-5-2.5-10-3.6-3-1.6-3.4-3.2-6.6-7.7-4-3.3-4-1.6-7-1.3-4-1.2-5-2.6-4-3.1-5.3-6.2-7.7-14-16.7-23-5-8-1.6-2-2.7-2zM249 556l3.5 0-1.5 .4-2.5-.4z" fill="#aae6f2"/><path d="M52 556l.6 0 1 1 2.9 5 1.5 1 30 15.5 6 2.1 6 1.3 4 .1 10-.9 4 .4 5 2.2 13 8.3 15.1 5 4.6 3 5.3 6.1 4 3.4 12 5.9 8.8 5.6 4.3 4 7 8 3.9 3.3 7 3.7 10 3 4 1.8 13 9.8 5 2.8 6 1.8 14 1.8 4-.1 9-1.6 0 46.7-222 0 0-63.9 14 7.5 9 4 38 11.2 9 1.8 12 1.5 16 4.5 3 0 3-.6 3.1-2 .1-1-2-2-4.4-3-23.8-13.5-15-10.1-16-7.8-9-4.9-5.2-3.7-13.8-11.6-6-3.6-12-6.2 0-46.6zM52.5 563l1.1 0-.6-.4zM151 556l4.2 0 .9 4-.1 1-1 .5-1.2-.5-1.8-1.8-1.4-3.2zM186 556l36.2 0 6.3 10 3.6 3 4.9 2.6 5 1.7 4 .5 10-1.6 11 3.5 6 1.1 0 63.4-16-7.5-4-3.6-8-9.2-4-3.3-3-1-7 .1-5-.9-5-2.3-4-3.2-4.9-6.3-5.1-10-5.1-8-6.3-12-4.6-10-2.9-4-2.8-3z" fill="#d0f2f7"/><path d="M192 556l27 0 1.1 2-.3 5 .8 2 4.4 4.2 7 4.3 6 2.1 8 1.5 4-.3 6-1.7 2-.1 11 4.6 4 .9 0 57-10-4.9-5-3-3-2.6-9-10.1-5-3.7-4-1.2-7 .7-4-.2-4.2-1.5-3.8-2.9-4.5-6.1-9-17-3.5-9-2.2-9-1.2-3-2-3-4.5-5zM60 570.9l5-.3 5 1.3 17 8.7 10 3.5 7 1.1 3-.1 5-1.1 6 .9 4.5 2.1 8.5 5.5 5 2.7 15 4.7 3 2.1 6.9 7 3.1 2.4 13 5.4 6.9 4.2 4.2 4 7.9 9.3 6 5.1 7 4 11.1 4.6 12.9 9.9 6 3.5 7 2 10 .5 7 1 10-1.3 0 42.4-222 0 0-59.3 17 7.5 9 3.3 38 11.1 10 2 11 1.3 19 7.7 1 .2 1-.5 .7-2.3 1.8-2 5.5-1.4 .9-.6 .2-1-1.2-2-1.2-1-7.7-5.1-5-2.9-18.4-9-19.6-13.5-17-7.8-6.7-3.7-5.4-4-12.9-11.8-20-13.4 0-25.8 8.3-1z" fill="#daf5f8"/><path d="M199 556l10.1 0-2.1 3.7-1 .6-3-1-4.2-3.3zM210 566.8l2 .6 4 2.2 17 11.3 5 2.5 3 .5 7-1.2 8-2.7 3-.3 3 .6 11 4.1 0 50.3-9-4.7-5-3.5-15-15.4-4-3-3-.5-8 1.9-3 .2-4-1.2-4-3.3-3-4.2-6.1-12-3-8-.5-4 .5-4 2.1-4.9 1.4-1.1zM66 575.9l3-.4 3 .5 16 8.4 6 2.2 13 2.6 12 1.4 17 9.4 15 4.8 3.5 2.2 5.5 4.8 3 1.9 16 5.4 3 1.9 3.2 3 8.8 10.9 6 5.7 6 4.4 12.7 8 12.3 9.8 7 4.3 6 1.6 16 1.5 9 1.5 4-.8 0 35.1-222 0 0-53.3 52.7 15.3 37.3 11.4 7.2 3.6 7.6 5 1.5 2 .4 2-2.3 2 .2 1 1.4 .7 4-.5 14 2.3 17 .5 2-.3 .9-.7 .2-1-1.2-2-2.9-2.1-5-1.9-6-.3-2-.8-6-3.5-6-4.4-1.5-2 0-1 5.5-.9 .7-1.1-.3-2-3.1-4-11.3-8.7-5-2.7-15-5.7-4.6-2.9-10.4-8.1-7-4.8-6-3.1-14.7-6-3.4-2-3.7-3-10.2-10.1-10-8.9-9.7-10-5.3-4 0-10.7 3 .6 2-.1 9.5-3.8zM203.7 693l1.3 1.4 2.2 .6 .1-1-1.1-1-2.2-.5z" fill="#f0fafc"/><path d="M215 576.9l3 .4 4 1.9 5 3.6 9 7.6 3 1.4 9-2.9 8-1.1 5-1.3 4 .2 8 1.9 0 42.7-8-4.4-9-6.9-7.2-8-9.7-12-12.1 5.7-4-.1-3-1.7-2-2.6-3-5.3-3.6-7-1.5-4-.2-3 .5-2 1.8-2.1 2.6-.9zM72 582l5 1 15 6.9 15 2.7 10 3 6 2.7 13 7.6 13 4.6 13.7 6.5 11.3 2.2 5 1.7 4 3.2 9.2 11.9 7.8 7.9 24 19.1 11.2 8 3.8 2.3 3 1.1 15 1.6 16 4.6 0 17.3-5-2.7-12-3.3-7 3.7-9.7 .4-2.1 1-2.5 2-.4 2 .8 1 3.1 2 5.2 2-91.2 0 2.4-1 2.4-.3 13 .5 10-.4 11 .8 10-.8 16 .4 6-1 2-.8 1.3-1.4-.7-2-9.5-7-7.7-4-4.4-1.3-5-.2-7-1-5.1-1.5-4.9-2-3.8-3-4.3-6-2.8-3-6.6-5-5.5-5.8-3-2.2-5.2-2-14.2-4-3.1-2-11.5-9.5-8-5.4-7-3.4-12.5-4.7-3.6-2-18.8-19-1.7-3-1.3-4-2.1-3-5-4.5-6.6-4.5 .6-.9 3 .5 3-.1 7-3.7 2.8-.8zM51.5 657l6.5 1.9 14.6 3.1 39.8 12 22 9 3.4 3 1 3-.8 2-2 .7-14-1.8-10-1.9-1 1-.1 1 .8 7-.7 1-1 .2-17-4.3-1.7 .1-4.3 1.6-2 .3-12-2-9 1.5-10-1.5-3 .3 0-37.4zM114 702.8l3-.4 16 1.9 6.2 1.7-28 0 2.6-3zM52 703.8l5.3 2.2-6.3 0 0-2.8zM71 704.9l5 1.1-8 0 2.6-1zM92 704.9l3.7 1.1-6.3 0 2-1zM256 704.9l9 .5 8-.8 0 1.4-19.3 0 1.8-1z" fill="#fde8e6"/><path d="M215 583.6l3-.2 3 1 3 1.7 3.3 2.9 2.1 3 .6 2-.2 2-1.8 2.4-2 1.2-2 .3-2-.5-2-1.5-4-6-1.9-3.9-.4-2 .8-2zM75 589.8l3-.7 3 .4 14 4.2 12 2 5 1.4 8 3.3 18 9.8 12 4.2 14 5.7 11 2.3 4 1.5 3 2.8 11 14 12 11.5 17.4 13.8 23.8 16 .7 2-1.4 2-2.5 1.1-8 1.9-5 .3-5-.4-10-2.1-15-4.9-11-1.7-6-2.3-3-2.2-15.9-15.7-10.1-5-17-6.3-22-15-6-3.2-12-5.1-4-2.5-10-8.9-5.9-7-3.9-13 0-2 1.4-2zM257 592l9-.4 7 1 0 33.2-10-5-5-3.3-5.7-5.5-4-6-2.2-6-.1-2 .8-2 2-2 1.9-1 6.1-1zM52 660.8l23 5.6 9 2.6 23.8 9 2.3 1 2.1 2-1.2 .3-5-.8-2 .6-1 .9-2.1 4-1 1-1.9 .7-7 .2-8 1-5-.1-8-1.2-10-.3-9-2 0-24.8z" fill="#fddad8"/><path d="M82 595l3-.3 3 .4 25 5.2 8 3.6 15.2 8.1 40.8 15.7 3 2.4 11.3 12.9 10.7 10.7 11.5 9.3 20.3 15 2.1 3-.9 1.7-2.1 1.3-2.9 .8-4 .1-11-2.1-11-3.2-13-5.2-6-3.3-10.5-8.1-6.3-4-29.2-12.6-24-14.9-17-8.6-5-3.2-5-4.1-3.6-3.6-2.8-4-1.5-4-.7-5 .6-2.4 2-1.6zM256 595.9l9-.3 8 .9 0 25.1-13-6.5-4-3.1-1.5-2-2.7-5-.9-4 1.4-3 3.4-2zM52 664.7l13 2.9 16.9 5.4 6.3 3 2.4 2 1.3 2 .1 1.1-1 1-13 2.7-23-2.8-4-1.4 0-16.1z" fill="#fccfcc"/><path d="M86 599.9l3-.7 4 .4 23 5.1 25 11.4 15 5.9 16.3 8 3.7 2.4 5 4.4 21 21 23.1 17.2 2.3 3 .1 1-.5 1.1-2.9 .9-4.1-.4-10.1-2.6-8.9-3.1-7.7-3.9-13.1-9-8.2-4.5-7-3.3-16.8-6.2-13.2-6.6-19-11.8-18-9.5-6-4.2-4.9-4.9-2.3-4-.5-4 .6-2 1-1zM260 599.8l5-.3 8 1 0 17.1-10.7-5.6-4.3-4-1.8-3-.2-2 1.4-2 1.9-1zM55 671.8l8-.4 7.3 1.6 4 2 2.2 2 .4 1-.3 1-1.6 .9-5-.2-11.7-3.7-3.9-2-.7-1 .6-1z" fill="#fcaaa2"/><path d="M92 603.9l3 0 4 .8 20 4.7 8 2.6 9.5 4 31.5 15.7 6.7 4.3 6.3 5.4 19 20.4 5 3.7 12.1 7.5 2.2 2-.3 .9-5-.9-13.6-5-18.9-11-12.5-6.5-21-7.5-12.3-6-20.7-13.3-14.9-7.7-6-4-3-3-1.6-3 .5-2.7 1.8-1.3zM266 604.9l3-.2 4 .7 0 8-4.3-2.4-3.5-3-.6-2 1.1-1z" fill="#fb8e84"/><path d="M115 615l11 .4 4 .7 5.9 1.9 6.4 4 12.1 9 8.6 2.8 5 2.3 7 4.9 5.1 5 3.8 6 .1 1.3-1 .9-2-.1-2.7-1.1-14.3-7.1-14.1-3.9-7.6-3-6.1-3-7.2-5-16.2-13-1.1-2 3.1-1z" fill="#f47a76"/></g><g clip-path="url(#cp31)"><rect x="320.3" y="557.2" width="218.7" height="147.5" fill="#0a1a80"/><path d="M320 556l220 0 0 150-221 0 0-150zM392.4 568l-.7 1 3.3 3.1 4 2.2 3.9 .7 1-1-.2-1-2.8-3-3.9-1.6-4-.5z" fill="#0a1e8c"/><path d="M320 556l220 0 0 150-221 0 0-150zM529.3 562l0 1 1.2 1 2.5 .7 1-.3 .5-.4-.6-1-1.9-1-2-.2zM390 568l4 4.1 5 3.1 3 1 2 .1 1.2-.3 .6-1-1.3-3-2.1-2-2.4-1.4-3-1-3-.4-3 .1-1 .7zM430 585l1.8 2 2.2 .2-.2-1.2-1.2-1-1.6-.5z" fill="#0a42d0"/><path d="M320 556l211.6 0-1.4 2-5.2 2.4-.9 .6-.1 1 2.1 2 3.9 2 5 1.3 5 .3 0 138.4-221 0 0-150zM361.4 557l-.3 2 1.4 3 2.5 2.4 2 .9 1-.1 .5-1.2-1.5-3.3-2.4-2.7-2.6-1.2zM387.8 566l-.4 1 1.6 2.1 5 4.9 4 2.9 6 2.5 3 .3 3-.3 .9-.4 .3-1-1.1-3-2.4-4-3.7-3.3-3-1.5-4-.8-9 .6zM429 581l-2 .7-1 .9-.3 1.4 .4 1 1.7 2 3.2 2.4 3 1.2 2 .2 1.9-.8 .7-1-.4-2-1.5-2-2.7-2.4-4-1.6z" fill="#1a64f2"/><path d="M320 556l39 0 1.2 4 2.8 4.2 3 2.6 3 .9 1.3-.7 .3-1-.4-2-3.2-5-3.5-3 164 0-1.5 2-3.4 1-1.5 1 .1 1 1.4 2 2.7 2 4.4 2 10.3 2.3 0 136.7-221 0 0-150zM393.9 564l-6.9 1.4-.9 .6 3.9 5.1 6 6 4 2.6 4 1.5 4 .5 7 0 1-.7-.3-1-4.4-8-2.1-3-3.2-3.1-2-1.6-2-.9-8 .6zM427.5 578l-1.5 .7-3.8 3.3-.2 1 .4 1 4.1 4 4.5 3.2 4 1.8 3 .3 3.5-2.3 0-2-1.1-2-3.4-4.1-4-3.5-3-1.4-2-.1zM459.7 601l.2 1 1.1 1.1 2 1.2 2 .3 .5-.6-1.5-2.1-2-1.1-2 0z" fill="#2e80f4"/><path d="M320 556l37.5 0 2.5 5.5 4 5.7 3 2.5 3 .6 1.4-.3 1-1 0-3-2.8-5-4.7-5 159.4 0-.8 1-4.7 1-.5 1 .1 1 2.2 3 3.4 2.6 4 1.9 12 3.1 0 135.4-221 0 0-150zM396.6 557l-.6 1-.3 3-3.5 2-6.2 2-.6 1 6.6 8.9 5 5.4 4 2 4 1.1 10 .4 4 .9 3 1.7 8 6.2 4 2.4 6 2 9 .4 6.6 5.6 4.9 3 5.5 2.1 3-.3 .6-1.8-.8-2-1.8-2.3-3-2.5-5-2.1-8-.9-2-.7-11-13.8-6-5.6-3-1.1-5-.4-2.3 .4-2.7 2.4-1-.2-1.2-3.2-1.4-2-10.5-11-3.9-3.1-2-1-2-.1z" fill="#3ca0ee"/><path d="M320 556l11.1 0 1.9 1.1 2 .4 1.4-.5-.1-1 20 0 3.7 7.4 4 6.5 3 2 4 1 3-.9 .9-2-.3-2-3.3-6-5.3-6 27.3 0-.1 3-1.1 2-2.9 2-4.2 1.9-.2 1.1 6.7 11 .5 2-1 3 .9 2 2.1 2 4 1.8 1 0 1.5-1.8 1.5-.3 16 .5 3.2 1.8 9.8 7.6 6 3.4 13 4.9 12 5.3 7 2.1 3-.4 .8-.9 .2-2-2.4-5-4.6-5.1-4-2.4-9-2.3-4-2-4-3.6-7.5-8.6-3.5-3.2-4-2.2-9-2.3-4-1.8-4-2.9-9-8.3-3.3-2.3 115.1 0-.7 1 0 1 .8 2 2.5 3 3.6 2.8 7 3.3 11 2.6 0 134.3-221 0 0-150zM495.1 557l1.9 2.1 2 1 1.2-.1-1.2-2.1-3-1.7z" fill="#52b8ee"/><path d="M320 556l5.5 0 6.5 4.8 3 1.2 2 .2 2-.7 1.7-2.5 0-1-1.2-2 15.7 0 5.8 12 2 2.7 5 3.4 5 1.1 2-.2 2-1 .6-2-.5-2-4.1-7-6-7 23.8 0 .1 2-.5 2-1.8 2-4.3 3-.1 1 2.8 5 1.1 3 .4 3-.7 3 .2 1 2 3 3.3 3 3.7 2.2 4 1.3 10-1.1 5 0 3 .7 15 10.1 10 5.4 24 8.3 5 1.1 2-.2 1.1-.8 .5-2-.6-3-2.5-5-8.5-13-2-.8-4 1.4-3 .1-3-.6-3-1.3-3.6-2.8-8-9-4.4-3.7-4-2.2-9-2.8-4-1.8-4-2.8-10-8.7 88.6 0 4.4 4.1 3 1.4 2 .3 1.3-.8 .2-1-.9-2-1.8-2 11.2 0 1.4 3 2.6 3 7 5.3 7 3.1 11 2.4 0 133.2-221 0 0-150z" fill="#7ed4ee"/><path d="M320 556l8 7.3 4 1.7 4 .5 4-.6 2.1-1.9 .9-3-.5-2-1.3-2 13 0 1.8 3 4.1 10 2.9 3.5 4 2.9 5 1.7 8 .5 2 .5 10 9.4 4 2.7 4 2 6 1.5 9-.1 4 .7 4 1.9 17 10.6 8 4.3 15 3.7 22 8.4 .7-.2-3.7-6.3-3.4-7.7-5.8-10-3.5-7-2.4-3-1.9-1.4-3-.8-2 .1-6 1.9-4-1-3-2.6-8-8.4-5-4.2-4-2.1-9-2.7-4-1.9-5-3.6-7-6.3 84.4 0 5.9 5 3.7 1.6 3 .6 1.1-.2 2.2-2 .1-2-1-2 .6-.5 10.6 8.5 7.4 4.6 7 2.6 10 2 0 131.8-221 0 0-150zM491 627l4 5 6 5.9 4 2.5 4 .8 1.1-1.2-.8-2-5.3-6-5-3-7-2.1zM368 556l20.8 0 .1 2-.5 2-1.5 2-3.3 3-.1 1 1.6 3 .3 2-.4 1.9-1 1.5-1 .5-9.8-12.9-5.2-6z" fill="#98dff0"/><path d="M343 556l10.2 0 1.8 3 2.5 8 1.6 3 3.9 4.5 4 2.9 4 1.6 8 1.1 3 1 3 1.9 9 7.5 9 4.8 6 1.7 10 1.5 5 1.7 8 4.4 13 8.5 4 2.1 4 1.2 10 1.3 5.9 2.3 7.1 4 5.6 4 4.4 4 8.1 9 5.9 4.7 4 2.1 3 1 9 1.7 5 0 3-.9 1-1.2 .3-1.4-1.4-3-10.9-10.1-10-10.6-3-1.5-9-2.7-5-3.2-8.7-12.9-6-12-6-10-1.3-.2-.6 1.2-1.2 1-6.2 2.1-3 .4-3-.8-4-2.9-13-12.2-2-1.1-8-1.6-5-1.8-4.6-3.1-6.3-6 18.6 0 5.3 7.1 .7-1.1 .5-3-.2-1.2-1.5-1.8 56.7 0 4.8 4.5 5 2.7 6 1.5 5-.4 2 .3 15 7.9 5 1.4 10 2 0 130.1-221 0 0-138.4 11.6 2.4 4.4 .2 3-.7 5-3.1 1.8-2.4 .4-2-.3-2-2.1-4zM330.9 630l-1 1-.6 2 .2 3 1.7 3 3.8 3.7 5 3.1 6 2.1 4 .5 3-1.1 .8-1.3-1-3-5.3-5-5.5-4.1-5-3-4-1.3-2 .3zM369 556l17.9 0 .3 2-.5 2-2.5 4-1.4 1 .5 4-1.3 .4-4-3.1-9-10.3z" fill="#aae6f2"/><path d="M345 556l7.1 0 1.3 2 1 5 2 6 5.6 7 4 3.3 5 2.1 9 1.3 3 .9 11 8.8 5 3.1 6 2.9 6 2 11 2.4 6 2.3 6.8 3.9 11.2 8.3 4 2.5 3 .8 10 .9 6 2.3 5 3.2 3.5 3 12.4 14 4 3 4.1 2.3 11 4.1 14 2.4 6-.6 9-3.5 2-.2 0 54.5-221 0 0-132.4 14 .7 5-.6 3-1.1 5.4-5.6 1.2-2-.7-5-2.3-4zM322 620l-.9 1-.2 1 .9 6-.8 3 .2 3 2.3 4 4.9 5 6.6 4.5 8.5 3.5 13.5 4.1 5 .7 3-.5 1.4-1.3 .2-1-5-6-5.3-5-20.3-16.9-4-2.9-3-1.3-4-1-3 .1zM372.4 651l-1.7 1-.2 1 .8 1 6.7 4 8 3.5 7 1.5 9-1.4 1.3-.6 .4-1-.4-1-3.5-3-19.5-5-4.3-.4-3 .3zM370 556l15.2 0 .3 3-1.4 4-2.6 2-.5 1-1 0-3-2.2-7-7.8zM410 556l10.9 0 3 4 1.5 3-.4 1.5-2 .6-4-1-3-1.6-3-2.5-3.6-4zM434 556l30.7 0-.5 1 1.2 4-.9 3 1.5 1.3 1-.3 .2-3 .7-1 3.1-2.9 3-1.1-1.4-1 11.5 0 2.1 2 .8 2.6-8-2.2-.8 .6 6.2 4 2.6 .5 2-1.1 9 2.8 11 2.2 4 1.6 11 5.8 16 3.1 0 65.6-4 .6-3-.5-5-2.2-5-3-5-3.8-6.3-6.6-8.1-12-1.6-.7-6 .1-4-.7-4-2-3-2.5-3.5-4.2-3.7-6-4.9-11-2.6-7-4.6-9-.7-.4-.6 .4-1 2-2.9 2-2.5 3.6-3 1.8-2 .4-2-.3-2-.8-3-2.1-5.5-5.6-2.8-4-1.6-10-2.4-4z" fill="#d0f2f7"/><path d="M347 556l3.4 0 1 1 .3 1-.4 1-1.3 .4-3-3.4zM372 556l11.5 0 .4 3-.6 4-3.3 1-2-.7-2-1.6-4.9-5.7zM414 556l2 .1 3 2.5 1.3 2.4-.3 .8-1 .3-2-.9-1.3-1.2-1.5-2-.5-2zM437 556l20.7 0 2.6 9-.1 3-1.5 5-2.4 4-2.3 2.1-3 .9-2-.7-2-1.4-5.1-5.9-1.3-3-1.7-8-2.9-5zM477 564.7l4-.1 12 3.5 10-.1 3 .8 4.8 2.2 9.4 7 3.8 1.9 10-.2 6 .8 0 55.8-3-.2-4 1.8-3 .1-5-1.6-4-2.5-4.4-3.9-3.1-4-4.5-10.2-3-5.2-2-2.3-2-.2-5.6 1.9-4.4 .5-4-1.3-3-2.3-4-5.5-2.4-4.4-6.4-18-.5-5 .4-3 2-4 2.1-2zM350 568.7l2 0 2 1.3 8.3 9 2.7 2.2 4 2.4 4 1.4 7 1 3 1 14 9.7 11 5.9 6 2 11 2.5 5.1 1.9 4.9 3 11 8.4 6 3.3 4 1.4 8 .9 2.4 1 3 2 3.1 3 8.7 11 3.8 4 4 3 4 2.2 6 2.4 8 2.1 18 3.4 6 .6 6-.8 3 .1 0 46-221 0 0-64.8 8 6.7 6 3.6 5 1.8 12 2.9 16 6.2 5 .7 10 .2 12 3.6 6 .9 4 0 4-.8 2.1-1 1.4-2-.4-2-1.6-2-7.5-5-6-2.4-29-7.8-6-3.2-7.9-5.6-8.5-8-2.5-4-1.8-5-6.3-9.3-9.2-11.7-4.8-4.8 0-12.6 7-1.5 10-1.1 4-1 4-2.2 3.6-4.8 1.5-1zM319.7 602l2.1 2 .5 1 .6 5-.9 1.5-3-.1 0-9.9z" fill="#daf5f8"/><path d="M373 556l8.6 0 .8 3 .1 3-.5 .8-1 .2-2-.4-2-1.2-4.6-5.4zM439 556l15.4 0 2 5 .5 5-2.5 8-1.4 1.3-2 .5-3-1-2-1.7-1.6-2.1-2.7-9-3.2-6zM481 568l2-.3 3 .4 18 7.8 6 1.8 9.1 4.3 4.9 1.8 4 .6 7-.9 5 .3 0 49.5-5-.4-5 1.2-3 0-4-1.7-3-2.3-1.9-2.1-1.8-3-6.3-15.6-4-6.9-2-2.2-2-.2-7.2 4.9-2.8 .9-4-.9-4-3.3-2-2.7-1.4-3-4.3-12-1.1-5 .3-4 1-3 1.5-2.3 2.8-1.7zM351 572.9l1-.5 1.3 .6 9.7 10.1 7 4.9 5 2 9 2.1 20 12.5 6 3.2 5 1.6 11 1.9 7 3 13 9.2 20 11.7 5 4.3 11 11.3 5 3.8 5 2.8 11 4.2 19 1.9 18 4.8 0 37.7-221 0 0-56.4 8 5.4 8.9 4 4.1 .7 8-.5 4 .7 3.8 2.1 8.2 5.7 3 1.3 25 4 6 1.8 1.6 1.2 .2 1-1.6 4 .6 3 1.8 2 2.5 1 14.9 4.2 4 .7 2-.1 2.6-.8 7.4-5.1 3 .4 12 4 3 .2 1.1-.5 .2-1-.6-1-4.7-4-5-3.2-5-2.2-3-.8-1.6 .2-2.4 2.7-2 .6-6-1.4-5.9-2.9-1.1-2 1.4-4 .6-1.1 3-1.7 .6-1.2-1.4-3-5.2-4-21-9.4-10-2.7-20-7-8.3-4.9-7-6-2.7-4-6.1-14-4.5-9-8.5-11-1.1-2-.3-2 1.1-2 3.2-2 11.2-3 3-1.4 5.5-4.6 1.4-2zM525 683l-1 .4 0 1.6 2.4 3 3.6 2.5 2 .8 2 .1 .9-.4 .3-1-2-3-4.2-2.9-4-1.1zM486.2 686l-.8 1 1.6 1.6 3 1.6 2 .2 .9-.4-.1-1-1-1-4.8-2z" fill="#f0fafc"/><path d="M375 556l4.2 0 1.8 4 0 1.3-1 .3-2.9-1.6-2.8-4zM442 556l9.3 0 1.3 2 .8 3 .1 4-.5 1.3-3 2.7-1 1.9-.9-2.9-6.7-12zM483 571.8l4-.1 5 2.2 5.9 4.1 6.1 5.9 3 1.5 9 1 13 2.4 11-.7 0 40.8-1 .4-2 .5-6-.1-5 .5-3.1-1.2-2.1-3-10.8-24.2-5-8.3-1-.8-6 2.6-8 5.5-2 .1-2-1.2-5.4-10.7-2.4-8 .3-3 1.1-3 1.4-2 1.6-1zM351 581l1-.8 1 0 2 .9 7.9 7.9 4.7 3 24.4 11.4 8.1 4.6 10.3 5 7.6 2.8 10 .8 6 2.4 7 5 9.3 8 13.7 8 13 13 6.3 5 4.8 3 8.9 4.1 14 5.6 3 .6 6-1.4 4.5 .1 5.5 2 10 4.9 0 11-7-5.8-5-2.8-10-3.8-2 .1-.8 1.4 .3 2 1.8 3 10.7 10.2 3 2 3 1.2 6 .8 0 9.8-221 0 0-16.3 3.7 2.3 2.8 1 8.7 2 5.8 .6 11.1-3.6 1.3-2 1.6-.9 8 .3 1.6-.4-5.4-4-6.2-3-1.8 1-1.3 4-1.9 .8-3 .3-6-.6-14.7-3.5-4.3-.4 0-27.6 9.3 5 9.7 4.2 4 .7 9-.2 4 1.5 8 5.8 5.5 5 2.3 4 2.5 7 1.5 2 6.2 3.7 8 2.4 5 .2 6-1.5 4-.3 13 .2 8 1.7 3 .1 9-3.8 5-.9 6 .6 9 2.1 7 .3 6 1.1 3 .1 2.6-1 3.4-4.3 2-.8 4 .7 8 3 4 .4 3-.7 2.7-1.3 1.6-2 1.7-4-.8-2-2.2-1.2-11-.6-6 .2-7-1.6-15-2-12 .2-2-.3-3.2-1.7-5.2-4-10.7-11-8.4-5-4.5-2.1-5-1.5-12.1-2.4-9.9-4.6-8-2-9-3.9-9.6-3.5-7.4-4.2-4.8-3.8-2.2-3-5.6-11-3-7-1.5-5-5.1-8-1.6-4 .2-2 1.6-2 13.1-5 2.9-2z" fill="#fde8e6"/><path d="M485 576.6l2-.5 2 .7 3 2 2 2.2 1.6 3 .4 2-.2 3-1.1 2-2.7 1.7-3 .6-2-.7-2-1.9-2.6-4.7-1-3 .6-2.9 2.5-3.1zM351 588l2 .2 3 1 12 6.7 19 8.6 25 12.4 7 2.5 11 2.3 6 2.9 20.6 16.4 15.6 14 5.8 4.2 12.3 7.8 3.8 3 1.8 2 .3 2-1.2 1.2-3 1-3 0-11-1.2-13-3.1-12 .3-3-.5-4-2.7-8.6-8-5-3-29.6-11-9.8-3.1-9-3.7-8-2.6-18-8-5-4.3-5-7.3-2.9-6-1.9-7-3.8-9 0-3 1.7-2 3.9-1.7 6-1.3zM516 592.8l3-.6 3 .2 18 3.9 0 25.4-4 .7-4 2-2 0-4-1.4-3-2.8-4.3-6.2-5.5-13-.5-3 .3-2 1-1.8 1.5-1.2zM319.9 661l18.7 10 1.3 1 .4 1-3.3 3.7-4 1.2-6-.6-8-2.4 0-14.4zM518 697.8l3-.4 4.2 1.6 4.4 3 3.2 4-7.6 0-3.2-1.3-1.2 .3 .8 1-36.1 0 .3-1-.9-4 1.1-1.6 2-.6 3 .4 12 4.8 .2-3 .8-1 13 2.7 .7-.7-.5-2 .5-2zM444 698.9l2-.8 5 .9 16.8 7-16.7 0-6.1-3.8-1.3-2.2 .2-1zM322 700l11 3.7 11 1.4 18.3-.1 2.7-.7 3-2.1 2-.6 13 3 5 .6 26-.6 5 .3 5.4 1.1-105.4 0 0-.6 2.3-.4 .3-1-1.1-3 .9-1z" fill="#fddad8"/><path d="M350 593.9l4 .2 4 1.2 12 5.3 14 5.4 28 13.6 6.3 2.4 11.7 3.1 4 1.9 5 3.4 7.8 6.6 6.5 6 5.6 6 4.5 6 1.4 3-.2 1-.6 .5-2 .7-6 .9-5-.4-4-1.4-14.8-7.3-8.2-.8-6-1.3-18-8-28-10.4-14-6.5-3-2.1-3-3-3.1-4.9-1.7-4-2.2-12 1-3 1.1-1 2.3-1zM521 597.9l5 .4 5 2.2 4.7 3.5 4.2 5 .1 5.4-2.7 1.6-3.3 1.3-6 .6-3-1.2-2-2.1-4.2-7.6-1.6-4 .4-3 1.4-1.4 1.6-.6z" fill="#fccfcc"/><path d="M352 602.6l3-.2 9 3.4 8 .4 8 2.1 6 2.3 18 8.6 28 10.2 8.3 5.6 9.1 9 2.2 3 1.3 3-.3 2-1 1-2.6 .7-4-.3-15-4.6-13-2.3-18-7.9-21-8.2-17-7.3-6-4.1-4-5-.6-2-.3-7 1.2-2zM522 603.9l2-.6 4 1.4 2.8 2.3 1.1 2-.1 1-.8 1-1 .3-2-.1-2-1-3.4-3.2-.9-2 .2-1z" fill="#fcaaa2"/><path d="M358 610.3l2-.1 7 1 8 .4 5 .9 7 2.7 13 6.7 15 4.1 13 4.6 6.2 3.4 6.1 5 3.8 5 .5 2-.6 1.4-2 .9-4-.1-20-4.3-5.1-1.9-13.9-6.5-15-5.6-10.5-4.9-14.7-8-1.8-1.8-.5-1.2 .5-3z" fill="#fb8e84"/><path d="M376 616.7l4 .1 5 1.6 4.9 2.6 10.1 6.7 13 1 6 1.5 7.3 2.8 5.4 3 3.4 3 1.4 3-.4 1-1.1 .6-5-.1-11.1-2.5-8.7-4-10.2-7-8.1-1-7.9-2.6-4.6-2.4-3.9-3-1.4-2 0-1 1-1z" fill="#f47a76"/></g>
<path d="M63.83 163.40v-2.00M63.83 15.90v2.00M91.17 163.40v-3.50M91.17 15.90v3.50M118.51 163.40v-2.00M118.51 15.90v2.00M145.85 163.40v-3.50M145.85 15.90v3.50M173.19 163.40v-2.00M173.19 15.90v2.00M200.52 163.40v-3.50M200.52 15.90v3.50M227.86 163.40v-2.00M227.86 15.90v2.00M255.20 163.40v-3.50M255.20 15.90v3.50M52.90 19.39h2.00M271.60 19.39h-2.00M52.90 22.50h3.50M271.60 22.50h-3.50M52.90 42.94h2.00M271.60 42.94h-2.00M52.90 54.90h2.00M271.60 54.90h-2.00M52.90 63.38h2.00M271.60 63.38h-2.00M52.90 69.96h2.00M271.60 69.96h-2.00M52.90 75.34h2.00M271.60 75.34h-2.00M52.90 79.88h2.00M271.60 79.88h-2.00M52.90 83.82h2.00M271.60 83.82h-2.00M52.90 87.29h2.00M271.60 87.29h-2.00M52.90 90.40h3.50M271.60 90.40h-3.50M52.90 110.84h2.00M271.60 110.84h-2.00M52.90 122.80h2.00M271.60 122.80h-2.00M52.90 131.28h2.00M271.60 131.28h-2.00M52.90 137.86h2.00M271.60 137.86h-2.00M52.90 143.24h2.00M271.60 143.24h-2.00M52.90 147.78h2.00M271.60 147.78h-2.00M52.90 151.72h2.00M271.60 151.72h-2.00M52.90 155.19h2.00M271.60 155.19h-2.00M52.90 158.30h3.50M271.60 158.30h-3.50M331.24 163.40v-2.00M331.24 15.90v2.00M358.57 163.40v-3.50M358.57 15.90v3.50M385.91 163.40v-2.00M385.91 15.90v2.00M413.25 163.40v-3.50M413.25 15.90v3.50M440.59 163.40v-2.00M440.59 15.90v2.00M467.92 163.40v-3.50M467.92 15.90v3.50M495.26 163.40v-2.00M495.26 15.90v2.00M522.60 163.40v-3.50M522.60 15.90v3.50M320.30 19.39h2.00M539.00 19.39h-2.00M320.30 22.50h3.50M539.00 22.50h-3.50M320.30 42.94h2.00M539.00 42.94h-2.00M320.30 54.90h2.00M539.00 54.90h-2.00M320.30 63.38h2.00M539.00 63.38h-2.00M320.30 69.96h2.00M539.00 69.96h-2.00M320.30 75.34h2.00M539.00 75.34h-2.00M320.30 79.88h2.00M539.00 79.88h-2.00M320.30 83.82h2.00M539.00 83.82h-2.00M320.30 87.29h2.00M539.00 87.29h-2.00M320.30 90.40h3.50M539.00 90.40h-3.50M320.30 110.84h2.00M539.00 110.84h-2.00M320.30 122.80h2.00M539.00 122.80h-2.00M320.30 131.28h2.00M539.00 131.28h-2.00M320.30 137.86h2.00M539.00 137.86h-2.00M320.30 143.24h2.00M539.00 143.24h-2.00M320.30 147.78h2.00M539.00 147.78h-2.00M320.30 151.72h2.00M539.00 151.72h-2.00M320.30 155.19h2.00M539.00 155.19h-2.00M320.30 158.30h3.50M539.00 158.30h-3.50M63.83 343.83v-2.00M63.83 196.33v2.00M91.17 343.83v-3.50M91.17 196.33v3.50M118.51 343.83v-2.00M118.51 196.33v2.00M145.85 343.83v-3.50M145.85 196.33v3.50M173.19 343.83v-2.00M173.19 196.33v2.00M200.52 343.83v-3.50M200.52 196.33v3.50M227.86 343.83v-2.00M227.86 196.33v2.00M255.20 343.83v-3.50M255.20 196.33v3.50M52.90 199.82h2.00M271.60 199.82h-2.00M52.90 202.93h3.50M271.60 202.93h-3.50M52.90 223.37h2.00M271.60 223.37h-2.00M52.90 235.33h2.00M271.60 235.33h-2.00M52.90 243.81h2.00M271.60 243.81h-2.00M52.90 250.39h2.00M271.60 250.39h-2.00M52.90 255.77h2.00M271.60 255.77h-2.00M52.90 260.31h2.00M271.60 260.31h-2.00M52.90 264.25h2.00M271.60 264.25h-2.00M52.90 267.72h2.00M271.60 267.72h-2.00M52.90 270.83h3.50M271.60 270.83h-3.50M52.90 291.27h2.00M271.60 291.27h-2.00M52.90 303.23h2.00M271.60 303.23h-2.00M52.90 311.71h2.00M271.60 311.71h-2.00M52.90 318.29h2.00M271.60 318.29h-2.00M52.90 323.67h2.00M271.60 323.67h-2.00M52.90 328.21h2.00M271.60 328.21h-2.00M52.90 332.15h2.00M271.60 332.15h-2.00M52.90 335.62h2.00M271.60 335.62h-2.00M52.90 338.73h3.50M271.60 338.73h-3.50M331.24 343.83v-2.00M331.24 196.33v2.00M358.57 343.83v-3.50M358.57 196.33v3.50M385.91 343.83v-2.00M385.91 196.33v2.00M413.25 343.83v-3.50M413.25 196.33v3.50M440.59 343.83v-2.00M440.59 196.33v2.00M467.92 343.83v-3.50M467.92 196.33v3.50M495.26 343.83v-2.00M495.26 196.33v2.00M522.60 343.83v-3.50M522.60 196.33v3.50M320.30 199.82h2.00M539.00 199.82h-2.00M320.30 202.93h3.50M539.00 202.93h-3.50M320.30 223.37h2.00M539.00 223.37h-2.00M320.30 235.33h2.00M539.00 235.33h-2.00M320.30 243.81h2.00M539.00 243.81h-2.00M320.30 250.39h2.00M539.00 250.39h-2.00M320.30 255.77h2.00M539.00 255.77h-2.00M320.30 260.31h2.00M539.00 260.31h-2.00M320.30 264.25h2.00M539.00 264.25h-2.00M320.30 267.72h2.00M539.00 267.72h-2.00M320.30 270.83h3.50M539.00 270.83h-3.50M320.30 291.27h2.00M539.00 291.27h-2.00M320.30 303.23h2.00M539.00 303.23h-2.00M320.30 311.71h2.00M539.00 311.71h-2.00M320.30 318.29h2.00M539.00 318.29h-2.00M320.30 323.67h2.00M539.00 323.67h-2.00M320.30 328.21h2.00M539.00 328.21h-2.00M320.30 332.15h2.00M539.00 332.15h-2.00M320.30 335.62h2.00M539.00 335.62h-2.00M320.30 338.73h3.50M539.00 338.73h-3.50M63.83 524.26v-2.00M63.83 376.76v2.00M91.17 524.26v-3.50M91.17 376.76v3.50M118.51 524.26v-2.00M118.51 376.76v2.00M145.85 524.26v-3.50M145.85 376.76v3.50M173.19 524.26v-2.00M173.19 376.76v2.00M200.52 524.26v-3.50M200.52 376.76v3.50M227.86 524.26v-2.00M227.86 376.76v2.00M255.20 524.26v-3.50M255.20 376.76v3.50M52.90 380.25h2.00M271.60 380.25h-2.00M52.90 383.36h3.50M271.60 383.36h-3.50M52.90 403.80h2.00M271.60 403.80h-2.00M52.90 415.76h2.00M271.60 415.76h-2.00M52.90 424.24h2.00M271.60 424.24h-2.00M52.90 430.82h2.00M271.60 430.82h-2.00M52.90 436.20h2.00M271.60 436.20h-2.00M52.90 440.74h2.00M271.60 440.74h-2.00M52.90 444.68h2.00M271.60 444.68h-2.00M52.90 448.15h2.00M271.60 448.15h-2.00M52.90 451.26h3.50M271.60 451.26h-3.50M52.90 471.70h2.00M271.60 471.70h-2.00M52.90 483.66h2.00M271.60 483.66h-2.00M52.90 492.14h2.00M271.60 492.14h-2.00M52.90 498.72h2.00M271.60 498.72h-2.00M52.90 504.10h2.00M271.60 504.10h-2.00M52.90 508.64h2.00M271.60 508.64h-2.00M52.90 512.58h2.00M271.60 512.58h-2.00M52.90 516.05h2.00M271.60 516.05h-2.00M52.90 519.16h3.50M271.60 519.16h-3.50M331.24 524.26v-2.00M331.24 376.76v2.00M358.57 524.26v-3.50M358.57 376.76v3.50M385.91 524.26v-2.00M385.91 376.76v2.00M413.25 524.26v-3.50M413.25 376.76v3.50M440.59 524.26v-2.00M440.59 376.76v2.00M467.92 524.26v-3.50M467.92 376.76v3.50M495.26 524.26v-2.00M495.26 376.76v2.00M522.60 524.26v-3.50M522.60 376.76v3.50M320.30 380.25h2.00M539.00 380.25h-2.00M320.30 383.36h3.50M539.00 383.36h-3.50M320.30 403.80h2.00M539.00 403.80h-2.00M320.30 415.76h2.00M539.00 415.76h-2.00M320.30 424.24h2.00M539.00 424.24h-2.00M320.30 430.82h2.00M539.00 430.82h-2.00M320.30 436.20h2.00M539.00 436.20h-2.00M320.30 440.74h2.00M539.00 440.74h-2.00M320.30 444.68h2.00M539.00 444.68h-2.00M320.30 448.15h2.00M539.00 448.15h-2.00M320.30 451.26h3.50M539.00 451.26h-3.50M320.30 471.70h2.00M539.00 471.70h-2.00M320.30 483.66h2.00M539.00 483.66h-2.00M320.30 492.14h2.00M539.00 492.14h-2.00M320.30 498.72h2.00M539.00 498.72h-2.00M320.30 504.10h2.00M539.00 504.10h-2.00M320.30 508.64h2.00M539.00 508.64h-2.00M320.30 512.58h2.00M539.00 512.58h-2.00M320.30 516.05h2.00M539.00 516.05h-2.00M320.30 519.16h3.50M539.00 519.16h-3.50M63.83 704.69v-2.00M63.83 557.19v2.00M91.17 704.69v-3.50M91.17 557.19v3.50M118.51 704.69v-2.00M118.51 557.19v2.00M145.85 704.69v-3.50M145.85 557.19v3.50M173.19 704.69v-2.00M173.19 557.19v2.00M200.52 704.69v-3.50M200.52 557.19v3.50M227.86 704.69v-2.00M227.86 557.19v2.00M255.20 704.69v-3.50M255.20 557.19v3.50M52.90 560.68h2.00M271.60 560.68h-2.00M52.90 563.79h3.50M271.60 563.79h-3.50M52.90 584.23h2.00M271.60 584.23h-2.00M52.90 596.19h2.00M271.60 596.19h-2.00M52.90 604.67h2.00M271.60 604.67h-2.00M52.90 611.25h2.00M271.60 611.25h-2.00M52.90 616.63h2.00M271.60 616.63h-2.00M52.90 621.17h2.00M271.60 621.17h-2.00M52.90 625.11h2.00M271.60 625.11h-2.00M52.90 628.58h2.00M271.60 628.58h-2.00M52.90 631.69h3.50M271.60 631.69h-3.50M52.90 652.13h2.00M271.60 652.13h-2.00M52.90 664.09h2.00M271.60 664.09h-2.00M52.90 672.57h2.00M271.60 672.57h-2.00M52.90 679.15h2.00M271.60 679.15h-2.00M52.90 684.53h2.00M271.60 684.53h-2.00M52.90 689.07h2.00M271.60 689.07h-2.00M52.90 693.01h2.00M271.60 693.01h-2.00M52.90 696.48h2.00M271.60 696.48h-2.00M52.90 699.59h3.50M271.60 699.59h-3.50M331.24 704.69v-2.00M331.24 557.19v2.00M358.57 704.69v-3.50M358.57 557.19v3.50M385.91 704.69v-2.00M385.91 557.19v2.00M413.25 704.69v-3.50M413.25 557.19v3.50M440.59 704.69v-2.00M440.59 557.19v2.00M467.92 704.69v-3.50M467.92 557.19v3.50M495.26 704.69v-2.00M495.26 557.19v2.00M522.60 704.69v-3.50M522.60 557.19v3.50M320.30 560.68h2.00M539.00 560.68h-2.00M320.30 563.79h3.50M539.00 563.79h-3.50M320.30 584.23h2.00M539.00 584.23h-2.00M320.30 596.19h2.00M539.00 596.19h-2.00M320.30 604.67h2.00M539.00 604.67h-2.00M320.30 611.25h2.00M539.00 611.25h-2.00M320.30 616.63h2.00M539.00 616.63h-2.00M320.30 621.17h2.00M539.00 621.17h-2.00M320.30 625.11h2.00M539.00 625.11h-2.00M320.30 628.58h2.00M539.00 628.58h-2.00M320.30 631.69h3.50M539.00 631.69h-3.50M320.30 652.13h2.00M539.00 652.13h-2.00M320.30 664.09h2.00M539.00 664.09h-2.00M320.30 672.57h2.00M539.00 672.57h-2.00M320.30 679.15h2.00M539.00 679.15h-2.00M320.30 684.53h2.00M539.00 684.53h-2.00M320.30 689.07h2.00M539.00 689.07h-2.00M320.30 693.01h2.00M539.00 693.01h-2.00M320.30 696.48h2.00M539.00 696.48h-2.00M320.30 699.59h3.50M539.00 699.59h-3.50" stroke="#000" stroke-width="1" fill="none"/>
<rect x="52.90" y="15.90" width="218.70" height="147.50" fill="none" stroke="#000" stroke-width="1.4"/>
<rect x="320.30" y="15.90" width="218.70" height="147.50" fill="none" stroke="#000" stroke-width="1.4"/>
<rect x="52.90" y="196.33" width="218.70" height="147.50" fill="none" stroke="#000" stroke-width="1.4"/>
<rect x="320.30" y="196.33" width="218.70" height="147.50" fill="none" stroke="#000" stroke-width="1.4"/>
<rect x="52.90" y="376.76" width="218.70" height="147.50" fill="none" stroke="#000" stroke-width="1.4"/>
<rect x="320.30" y="376.76" width="218.70" height="147.50" fill="none" stroke="#000" stroke-width="1.4"/>
<rect x="52.90" y="557.19" width="218.70" height="147.50" fill="none" stroke="#000" stroke-width="1.4"/>
<rect x="320.30" y="557.19" width="218.70" height="147.50" fill="none" stroke="#000" stroke-width="1.4"/>
<text class="n" x="162.1" y="10.6" font-size="15.4" text-anchor="middle" textLength="35" lengthAdjust="spacingAndGlyphs">AMIP</text>
<text class="n" x="429.9" y="10.6" font-size="15.4" text-anchor="middle" textLength="57" lengthAdjust="spacingAndGlyphs">AMIP4K</text>
<text class="n" transform="translate(565.2 90.5) rotate(-90)" font-size="15.4" text-anchor="middle" textLength="41.5" lengthAdjust="spacingAndGlyphs">Hines</text>
<text class="n" transform="translate(565.2 271.9) rotate(-90)" font-size="15.4" text-anchor="middle" textLength="21.7" lengthAdjust="spacingAndGlyphs">AD</text>
<text class="n" transform="translate(565.2 451.5) rotate(-90)" font-size="15.4" text-anchor="middle" textLength="82.0" lengthAdjust="spacingAndGlyphs">AD+Beres</text>
<text class="n" transform="translate(565.2 632.7) rotate(-90)" font-size="15.4" text-anchor="middle" textLength="84.4" lengthAdjust="spacingAndGlyphs">ADfixBeres</text>
<text class="n" transform="translate(11.2 89.9) rotate(-90)" font-size="15" text-anchor="middle" textLength="102" lengthAdjust="spacingAndGlyphs">Pressure [<tspan font-family="Liberation Serif" font-style="italic">hPa</tspan>]</text>
<text class="n" transform="translate(11.2 270.3) rotate(-90)" font-size="15" text-anchor="middle" textLength="102" lengthAdjust="spacingAndGlyphs">Pressure [<tspan font-family="Liberation Serif" font-style="italic">hPa</tspan>]</text>
<text class="n" transform="translate(11.2 450.8) rotate(-90)" font-size="15" text-anchor="middle" textLength="102" lengthAdjust="spacingAndGlyphs">Pressure [<tspan font-family="Liberation Serif" font-style="italic">hPa</tspan>]</text>
<text class="n" transform="translate(11.2 631.2) rotate(-90)" font-size="15" text-anchor="middle" textLength="102" lengthAdjust="spacingAndGlyphs">Pressure [<tspan font-family="Liberation Serif" font-style="italic">hPa</tspan>]</text>
<text x="46.5" y="26.2" font-size="11.6" font-weight="bold" text-anchor="end" textLength="6.6" lengthAdjust="spacingAndGlyphs">1</text>
<text x="46.5" y="94.1" font-size="11.6" font-weight="bold" text-anchor="end" textLength="13.9" lengthAdjust="spacingAndGlyphs">10</text>
<text x="46.5" y="162.0" font-size="11.6" font-weight="bold" text-anchor="end" textLength="21.0" lengthAdjust="spacingAndGlyphs">100</text>
<text x="91.5" y="180.1" font-size="11.6" font-weight="bold" text-anchor="middle" textLength="19.0" lengthAdjust="spacingAndGlyphs">-10</text>
<text x="145.8" y="180.1" font-size="11.6" font-weight="bold" text-anchor="middle" textLength="7.0" lengthAdjust="spacingAndGlyphs">0</text>
<text x="200.5" y="180.1" font-size="11.6" font-weight="bold" text-anchor="middle" textLength="13.6" lengthAdjust="spacingAndGlyphs">10</text>
<text x="255.2" y="180.1" font-size="11.6" font-weight="bold" text-anchor="middle" textLength="13.6" lengthAdjust="spacingAndGlyphs">20</text>
<text x="313.9" y="26.2" font-size="11.6" font-weight="bold" text-anchor="end" textLength="6.6" lengthAdjust="spacingAndGlyphs">1</text>
<text x="313.9" y="94.1" font-size="11.6" font-weight="bold" text-anchor="end" textLength="13.9" lengthAdjust="spacingAndGlyphs">10</text>
<text x="313.9" y="162.0" font-size="11.6" font-weight="bold" text-anchor="end" textLength="21.0" lengthAdjust="spacingAndGlyphs">100</text>
<text x="358.9" y="180.1" font-size="11.6" font-weight="bold" text-anchor="middle" textLength="19.0" lengthAdjust="spacingAndGlyphs">-10</text>
<text x="413.2" y="180.1" font-size="11.6" font-weight="bold" text-anchor="middle" textLength="7.0" lengthAdjust="spacingAndGlyphs">0</text>
<text x="467.9" y="180.1" font-size="11.6" font-weight="bold" text-anchor="middle" textLength="13.6" lengthAdjust="spacingAndGlyphs">10</text>
<text x="522.6" y="180.1" font-size="11.6" font-weight="bold" text-anchor="middle" textLength="13.6" lengthAdjust="spacingAndGlyphs">20</text>
<text x="46.5" y="206.6" font-size="11.6" font-weight="bold" text-anchor="end" textLength="6.6" lengthAdjust="spacingAndGlyphs">1</text>
<text x="46.5" y="274.5" font-size="11.6" font-weight="bold" text-anchor="end" textLength="13.9" lengthAdjust="spacingAndGlyphs">10</text>
<text x="46.5" y="342.4" font-size="11.6" font-weight="bold" text-anchor="end" textLength="21.0" lengthAdjust="spacingAndGlyphs">100</text>
<text x="91.5" y="360.5" font-size="11.6" font-weight="bold" text-anchor="middle" textLength="19.0" lengthAdjust="spacingAndGlyphs">-10</text>
<text x="145.8" y="360.5" font-size="11.6" font-weight="bold" text-anchor="middle" textLength="7.0" lengthAdjust="spacingAndGlyphs">0</text>
<text x="200.5" y="360.5" font-size="11.6" font-weight="bold" text-anchor="middle" textLength="13.6" lengthAdjust="spacingAndGlyphs">10</text>
<text x="255.2" y="360.5" font-size="11.6" font-weight="bold" text-anchor="middle" textLength="13.6" lengthAdjust="spacingAndGlyphs">20</text>
<text x="313.9" y="206.6" font-size="11.6" font-weight="bold" text-anchor="end" textLength="6.6" lengthAdjust="spacingAndGlyphs">1</text>
<text x="313.9" y="274.5" font-size="11.6" font-weight="bold" text-anchor="end" textLength="13.9" lengthAdjust="spacingAndGlyphs">10</text>
<text x="313.9" y="342.4" font-size="11.6" font-weight="bold" text-anchor="end" textLength="21.0" lengthAdjust="spacingAndGlyphs">100</text>
<text x="358.9" y="360.5" font-size="11.6" font-weight="bold" text-anchor="middle" textLength="19.0" lengthAdjust="spacingAndGlyphs">-10</text>
<text x="413.2" y="360.5" font-size="11.6" font-weight="bold" text-anchor="middle" textLength="7.0" lengthAdjust="spacingAndGlyphs">0</text>
<text x="467.9" y="360.5" font-size="11.6" font-weight="bold" text-anchor="middle" textLength="13.6" lengthAdjust="spacingAndGlyphs">10</text>
<text x="522.6" y="360.5" font-size="11.6" font-weight="bold" text-anchor="middle" textLength="13.6" lengthAdjust="spacingAndGlyphs">20</text>
<text x="46.5" y="387.1" font-size="11.6" font-weight="bold" text-anchor="end" textLength="6.6" lengthAdjust="spacingAndGlyphs">1</text>
<text x="46.5" y="455.0" font-size="11.6" font-weight="bold" text-anchor="end" textLength="13.9" lengthAdjust="spacingAndGlyphs">10</text>
<text x="46.5" y="522.9" font-size="11.6" font-weight="bold" text-anchor="end" textLength="21.0" lengthAdjust="spacingAndGlyphs">100</text>
<text x="91.5" y="541.0" font-size="11.6" font-weight="bold" text-anchor="middle" textLength="19.0" lengthAdjust="spacingAndGlyphs">-10</text>
<text x="145.8" y="541.0" font-size="11.6" font-weight="bold" text-anchor="middle" textLength="7.0" lengthAdjust="spacingAndGlyphs">0</text>
<text x="200.5" y="541.0" font-size="11.6" font-weight="bold" text-anchor="middle" textLength="13.6" lengthAdjust="spacingAndGlyphs">10</text>
<text x="255.2" y="541.0" font-size="11.6" font-weight="bold" text-anchor="middle" textLength="13.6" lengthAdjust="spacingAndGlyphs">20</text>
<text x="313.9" y="387.1" font-size="11.6" font-weight="bold" text-anchor="end" textLength="6.6" lengthAdjust="spacingAndGlyphs">1</text>
<text x="313.9" y="455.0" font-size="11.6" font-weight="bold" text-anchor="end" textLength="13.9" lengthAdjust="spacingAndGlyphs">10</text>
<text x="313.9" y="522.9" font-size="11.6" font-weight="bold" text-anchor="end" textLength="21.0" lengthAdjust="spacingAndGlyphs">100</text>
<text x="358.9" y="541.0" font-size="11.6" font-weight="bold" text-anchor="middle" textLength="19.0" lengthAdjust="spacingAndGlyphs">-10</text>
<text x="413.2" y="541.0" font-size="11.6" font-weight="bold" text-anchor="middle" textLength="7.0" lengthAdjust="spacingAndGlyphs">0</text>
<text x="467.9" y="541.0" font-size="11.6" font-weight="bold" text-anchor="middle" textLength="13.6" lengthAdjust="spacingAndGlyphs">10</text>
<text x="522.6" y="541.0" font-size="11.6" font-weight="bold" text-anchor="middle" textLength="13.6" lengthAdjust="spacingAndGlyphs">20</text>
<text x="46.5" y="567.5" font-size="11.6" font-weight="bold" text-anchor="end" textLength="6.6" lengthAdjust="spacingAndGlyphs">1</text>
<text x="46.5" y="635.4" font-size="11.6" font-weight="bold" text-anchor="end" textLength="13.9" lengthAdjust="spacingAndGlyphs">10</text>
<text x="46.5" y="703.3" font-size="11.6" font-weight="bold" text-anchor="end" textLength="21.0" lengthAdjust="spacingAndGlyphs">100</text>
<text x="91.5" y="721.4" font-size="11.6" font-weight="bold" text-anchor="middle" textLength="19.0" lengthAdjust="spacingAndGlyphs">-10</text>
<text x="145.8" y="721.4" font-size="11.6" font-weight="bold" text-anchor="middle" textLength="7.0" lengthAdjust="spacingAndGlyphs">0</text>
<text x="200.5" y="721.4" font-size="11.6" font-weight="bold" text-anchor="middle" textLength="13.6" lengthAdjust="spacingAndGlyphs">10</text>
<text x="255.2" y="721.4" font-size="11.6" font-weight="bold" text-anchor="middle" textLength="13.6" lengthAdjust="spacingAndGlyphs">20</text>
<text x="313.9" y="567.5" font-size="11.6" font-weight="bold" text-anchor="end" textLength="6.6" lengthAdjust="spacingAndGlyphs">1</text>
<text x="313.9" y="635.4" font-size="11.6" font-weight="bold" text-anchor="end" textLength="13.9" lengthAdjust="spacingAndGlyphs">10</text>
<text x="313.9" y="703.3" font-size="11.6" font-weight="bold" text-anchor="end" textLength="21.0" lengthAdjust="spacingAndGlyphs">100</text>
<text x="358.9" y="721.4" font-size="11.6" font-weight="bold" text-anchor="middle" textLength="19.0" lengthAdjust="spacingAndGlyphs">-10</text>
<text x="413.2" y="721.4" font-size="11.6" font-weight="bold" text-anchor="middle" textLength="7.0" lengthAdjust="spacingAndGlyphs">0</text>
<text x="467.9" y="721.4" font-size="11.6" font-weight="bold" text-anchor="middle" textLength="13.6" lengthAdjust="spacingAndGlyphs">10</text>
<text x="522.6" y="721.4" font-size="11.6" font-weight="bold" text-anchor="middle" textLength="13.6" lengthAdjust="spacingAndGlyphs">20</text>
<text class="n" x="161.4" y="747.4" font-size="15" text-anchor="middle" textLength="97" lengthAdjust="spacingAndGlyphs">Time [<tspan font-family="Liberation Serif" font-style="italic">months</tspan>]</text>
<text class="n" x="428.8" y="747.4" font-size="15" text-anchor="middle" textLength="97" lengthAdjust="spacingAndGlyphs">Time [<tspan font-family="Liberation Serif" font-style="italic">months</tspan>]</text>
<path d="M195.90 763.40L185.3 768.45L195.90 773.50z" fill="#0a22a0"/>
<path d="M407.10 763.40L417.6 768.45L407.10 773.50z" fill="#500018"/>
<rect x="195.60" y="763.40" width="9.12" height="10.10" fill="#0a1e8c"/>
<rect x="204.42" y="763.40" width="9.12" height="10.10" fill="#0a42d0"/>
<rect x="213.25" y="763.40" width="9.12" height="10.10" fill="#1a64f2"/>
<rect x="222.07" y="763.40" width="9.12" height="10.10" fill="#2e80f4"/>
<rect x="230.90" y="763.40" width="9.12" height="10.10" fill="#3ca0ee"/>
<rect x="239.72" y="763.40" width="9.12" height="10.10" fill="#52b8ee"/>
<rect x="248.55" y="763.40" width="9.12" height="10.10" fill="#7ed4ee"/>
<rect x="257.38" y="763.40" width="9.12" height="10.10" fill="#98dff0"/>
<rect x="266.20" y="763.40" width="9.12" height="10.10" fill="#aae6f2"/>
<rect x="275.02" y="763.40" width="9.12" height="10.10" fill="#d0f2f7"/>
<rect x="283.85" y="763.40" width="9.12" height="10.10" fill="#daf5f8"/>
<rect x="292.67" y="763.40" width="9.12" height="10.10" fill="#f0fafc"/>
<rect x="301.50" y="763.40" width="9.12" height="10.10" fill="#fde8e6"/>
<rect x="310.32" y="763.40" width="9.12" height="10.10" fill="#fddad8"/>
<rect x="319.15" y="763.40" width="9.12" height="10.10" fill="#fccfcc"/>
<rect x="327.98" y="763.40" width="9.12" height="10.10" fill="#fcaaa2"/>
<rect x="336.80" y="763.40" width="9.12" height="10.10" fill="#fb8e84"/>
<rect x="345.62" y="763.40" width="9.12" height="10.10" fill="#f47a76"/>
<rect x="354.45" y="763.40" width="9.12" height="10.10" fill="#f05058"/>
<rect x="363.27" y="763.40" width="9.12" height="10.10" fill="#e0304a"/>
<rect x="372.10" y="763.40" width="9.12" height="10.10" fill="#d41432"/>
<rect x="380.92" y="763.40" width="9.12" height="10.10" fill="#c80020"/>
<rect x="389.75" y="763.40" width="9.12" height="10.10" fill="#9a0020"/>
<rect x="398.57" y="763.40" width="9.12" height="10.10" fill="#5c0020"/>
<path d="M195.60 763.40H407.40L417.6 768.45L407.40 773.50H195.60L185.3 768.45z" fill="none" stroke="#000" stroke-width="1.2"/>
<path d="M195.60 773.50v-2M222.07 773.50v-2M248.55 773.50v-2M275.02 773.50v-2M301.50 773.50v-2M327.98 773.50v-2M354.45 773.50v-2M380.92 773.50v-2M407.40 773.50v-2" stroke="#000" stroke-width="1" fill="none"/>
<text x="196.8" y="785.0" font-size="10.8" font-weight="bold" text-anchor="middle" textLength="20.0" lengthAdjust="spacingAndGlyphs">−36</text>
<text x="223.3" y="785.0" font-size="10.8" font-weight="bold" text-anchor="middle" textLength="20.0" lengthAdjust="spacingAndGlyphs">−27</text>
<text x="249.7" y="785.0" font-size="10.8" font-weight="bold" text-anchor="middle" textLength="20.0" lengthAdjust="spacingAndGlyphs">−18</text>
<text x="276.2" y="785.0" font-size="10.8" font-weight="bold" text-anchor="middle" textLength="14.4" lengthAdjust="spacingAndGlyphs">−9</text>
<text x="301.8" y="785.0" font-size="10.8" font-weight="bold" text-anchor="middle" textLength="6.0" lengthAdjust="spacingAndGlyphs">0</text>
<text x="328.3" y="785.0" font-size="10.8" font-weight="bold" text-anchor="middle" textLength="6.0" lengthAdjust="spacingAndGlyphs">9</text>
<text x="354.8" y="785.0" font-size="10.8" font-weight="bold" text-anchor="middle" textLength="11.5" lengthAdjust="spacingAndGlyphs">18</text>
<text x="381.2" y="785.0" font-size="10.8" font-weight="bold" text-anchor="middle" textLength="11.5" lengthAdjust="spacingAndGlyphs">27</text>
<text x="407.7" y="785.0" font-size="10.8" font-weight="bold" text-anchor="middle" textLength="11.5" lengthAdjust="spacingAndGlyphs">36</text>
<text class="n" x="301.2" y="803.0" font-size="15.4" text-anchor="middle" textLength="47.7" lengthAdjust="spacingAndGlyphs">U [<tspan font-family="Liberation Serif" font-style="italic">m/s</tspan>]</text>
</svg></body></html>
